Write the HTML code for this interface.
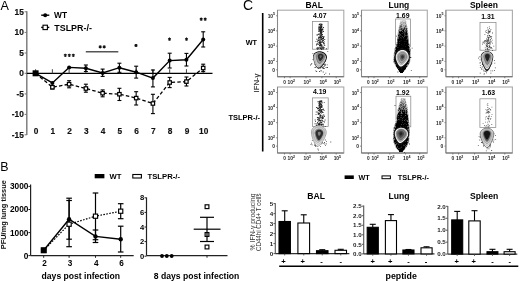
<!DOCTYPE html>
<html><head><meta charset="utf-8"><style>
html,body{margin:0;padding:0;background:#fff;}
svg{display:block;font-family:"Liberation Sans", sans-serif;filter:grayscale(1) blur(0.3px);}
</style></head><body>
<svg width="520" height="281" viewBox="0 0 520 281">
<rect width="520" height="281" fill="#fff"/>
<text x="0.4" y="9.8" font-size="12.6" text-anchor="start" fill="#000" >A</text>
<line x1="26.8" y1="11.2" x2="26.8" y2="135" stroke="#777" stroke-width="1.4" />
<line x1="24.6" y1="11.8" x2="26.8" y2="11.8" stroke="#777" stroke-width="1" />
<text x="23.8" y="14.600000000000001" font-size="8.3" font-weight="bold" text-anchor="end" fill="#111" stroke="#111" stroke-width="0.18">15</text>
<line x1="24.6" y1="32.4" x2="26.8" y2="32.4" stroke="#777" stroke-width="1" />
<text x="23.8" y="35.199999999999996" font-size="8.3" font-weight="bold" text-anchor="end" fill="#111" stroke="#111" stroke-width="0.18">10</text>
<line x1="24.6" y1="53.0" x2="26.8" y2="53.0" stroke="#777" stroke-width="1" />
<text x="23.8" y="55.8" font-size="8.3" font-weight="bold" text-anchor="end" fill="#111" stroke="#111" stroke-width="0.18">5</text>
<line x1="24.6" y1="73.3" x2="26.8" y2="73.3" stroke="#777" stroke-width="1" />
<text x="23.8" y="76.1" font-size="8.3" font-weight="bold" text-anchor="end" fill="#111" stroke="#111" stroke-width="0.18">0</text>
<line x1="24.6" y1="93.9" x2="26.8" y2="93.9" stroke="#777" stroke-width="1" />
<text x="23.8" y="96.7" font-size="8.3" font-weight="bold" text-anchor="end" fill="#111" stroke="#111" stroke-width="0.18">-5</text>
<line x1="24.6" y1="114.4" x2="26.8" y2="114.4" stroke="#777" stroke-width="1" />
<text x="23.8" y="117.2" font-size="8.3" font-weight="bold" text-anchor="end" fill="#111" stroke="#111" stroke-width="0.18">-10</text>
<line x1="24.6" y1="134.8" x2="26.8" y2="134.8" stroke="#777" stroke-width="1" />
<text x="23.8" y="137.60000000000002" font-size="8.3" font-weight="bold" text-anchor="end" fill="#111" stroke="#111" stroke-width="0.18">-15</text>
<line x1="26.8" y1="73.3" x2="212.5" y2="73.3" stroke="#000" stroke-width="1.3" />
<line x1="35.6" y1="73.3" x2="35.6" y2="69.2" stroke="#444" stroke-width="1" />
<text x="36.1" y="133.6" font-size="8.3" font-weight="bold" text-anchor="middle" fill="#111" stroke="#111" stroke-width="0.15">0</text>
<line x1="52.36" y1="73.3" x2="52.36" y2="69.2" stroke="#444" stroke-width="1" />
<text x="52.86" y="133.6" font-size="8.3" font-weight="bold" text-anchor="middle" fill="#111" stroke="#111" stroke-width="0.15">1</text>
<line x1="69.12" y1="73.3" x2="69.12" y2="69.2" stroke="#444" stroke-width="1" />
<text x="69.62" y="133.6" font-size="8.3" font-weight="bold" text-anchor="middle" fill="#111" stroke="#111" stroke-width="0.15">2</text>
<line x1="85.88" y1="73.3" x2="85.88" y2="69.2" stroke="#444" stroke-width="1" />
<text x="86.38" y="133.6" font-size="8.3" font-weight="bold" text-anchor="middle" fill="#111" stroke="#111" stroke-width="0.15">3</text>
<line x1="102.64000000000001" y1="73.3" x2="102.64000000000001" y2="69.2" stroke="#444" stroke-width="1" />
<text x="103.14000000000001" y="133.6" font-size="8.3" font-weight="bold" text-anchor="middle" fill="#111" stroke="#111" stroke-width="0.15">4</text>
<line x1="119.4" y1="73.3" x2="119.4" y2="69.2" stroke="#444" stroke-width="1" />
<text x="119.9" y="133.6" font-size="8.3" font-weight="bold" text-anchor="middle" fill="#111" stroke="#111" stroke-width="0.15">5</text>
<line x1="136.16" y1="73.3" x2="136.16" y2="69.2" stroke="#444" stroke-width="1" />
<text x="136.66" y="133.6" font-size="8.3" font-weight="bold" text-anchor="middle" fill="#111" stroke="#111" stroke-width="0.15">6</text>
<line x1="152.92000000000002" y1="73.3" x2="152.92000000000002" y2="69.2" stroke="#444" stroke-width="1" />
<text x="153.42000000000002" y="133.6" font-size="8.3" font-weight="bold" text-anchor="middle" fill="#111" stroke="#111" stroke-width="0.15">7</text>
<line x1="169.68" y1="73.3" x2="169.68" y2="69.2" stroke="#444" stroke-width="1" />
<text x="170.18" y="133.6" font-size="8.3" font-weight="bold" text-anchor="middle" fill="#111" stroke="#111" stroke-width="0.15">8</text>
<line x1="186.44" y1="73.3" x2="186.44" y2="69.2" stroke="#444" stroke-width="1" />
<text x="186.94" y="133.6" font-size="8.3" font-weight="bold" text-anchor="middle" fill="#111" stroke="#111" stroke-width="0.15">9</text>
<line x1="203.20000000000002" y1="73.3" x2="203.20000000000002" y2="69.2" stroke="#444" stroke-width="1" />
<text x="203.70000000000002" y="133.6" font-size="8.3" font-weight="bold" text-anchor="middle" fill="#111" stroke="#111" stroke-width="0.15">10</text>
<polyline points="35.6,73.3 52.4,87.2 69.1,84.2 85.9,88.5 102.6,93.2 119.4,94.2 136.2,98.1 152.9,103.5 169.7,82.5 186.4,81.6 203.2,68" fill="none" stroke="#000" stroke-width="1.3" stroke-dasharray="3.5,2.2"/>
<line x1="52.36" y1="85.5" x2="52.36" y2="89" stroke="#000" stroke-width="1.1" />
<line x1="50.36" y1="85.5" x2="54.36" y2="85.5" stroke="#000" stroke-width="1.1" />
<line x1="50.36" y1="89" x2="54.36" y2="89" stroke="#000" stroke-width="1.1" />
<line x1="69.12" y1="80.7" x2="69.12" y2="87.8" stroke="#000" stroke-width="1.1" />
<line x1="67.12" y1="80.7" x2="71.12" y2="80.7" stroke="#000" stroke-width="1.1" />
<line x1="67.12" y1="87.8" x2="71.12" y2="87.8" stroke="#000" stroke-width="1.1" />
<line x1="85.88" y1="84.2" x2="85.88" y2="92.2" stroke="#000" stroke-width="1.1" />
<line x1="83.88" y1="84.2" x2="87.88" y2="84.2" stroke="#000" stroke-width="1.1" />
<line x1="83.88" y1="92.2" x2="87.88" y2="92.2" stroke="#000" stroke-width="1.1" />
<line x1="102.64000000000001" y1="89.9" x2="102.64000000000001" y2="96.8" stroke="#000" stroke-width="1.1" />
<line x1="100.64000000000001" y1="89.9" x2="104.64000000000001" y2="89.9" stroke="#000" stroke-width="1.1" />
<line x1="100.64000000000001" y1="96.8" x2="104.64000000000001" y2="96.8" stroke="#000" stroke-width="1.1" />
<line x1="119.4" y1="88.3" x2="119.4" y2="100.5" stroke="#000" stroke-width="1.1" />
<line x1="117.4" y1="88.3" x2="121.4" y2="88.3" stroke="#000" stroke-width="1.1" />
<line x1="117.4" y1="100.5" x2="121.4" y2="100.5" stroke="#000" stroke-width="1.1" />
<line x1="136.16" y1="91.7" x2="136.16" y2="105" stroke="#000" stroke-width="1.1" />
<line x1="134.16" y1="91.7" x2="138.16" y2="91.7" stroke="#000" stroke-width="1.1" />
<line x1="134.16" y1="105" x2="138.16" y2="105" stroke="#000" stroke-width="1.1" />
<line x1="152.92000000000002" y1="94.3" x2="152.92000000000002" y2="113.6" stroke="#000" stroke-width="1.1" />
<line x1="150.92000000000002" y1="94.3" x2="154.92000000000002" y2="94.3" stroke="#000" stroke-width="1.1" />
<line x1="150.92000000000002" y1="113.6" x2="154.92000000000002" y2="113.6" stroke="#000" stroke-width="1.1" />
<line x1="169.68" y1="77.4" x2="169.68" y2="87.6" stroke="#000" stroke-width="1.1" />
<line x1="167.68" y1="77.4" x2="171.68" y2="77.4" stroke="#000" stroke-width="1.1" />
<line x1="167.68" y1="87.6" x2="171.68" y2="87.6" stroke="#000" stroke-width="1.1" />
<line x1="186.44" y1="77" x2="186.44" y2="86" stroke="#000" stroke-width="1.1" />
<line x1="184.44" y1="77" x2="188.44" y2="77" stroke="#000" stroke-width="1.1" />
<line x1="184.44" y1="86" x2="188.44" y2="86" stroke="#000" stroke-width="1.1" />
<line x1="203.20000000000002" y1="64.2" x2="203.20000000000002" y2="71.6" stroke="#000" stroke-width="1.1" />
<line x1="201.20000000000002" y1="64.2" x2="205.20000000000002" y2="64.2" stroke="#000" stroke-width="1.1" />
<line x1="201.20000000000002" y1="71.6" x2="205.20000000000002" y2="71.6" stroke="#000" stroke-width="1.1" />
<rect x="33.9" y="71.6" width="3.4" height="3.4" fill="#fff" stroke="#000" stroke-width="1.2"/>
<rect x="50.7" y="85.5" width="3.4" height="3.4" fill="#fff" stroke="#000" stroke-width="1.2"/>
<rect x="67.4" y="82.5" width="3.4" height="3.4" fill="#fff" stroke="#000" stroke-width="1.2"/>
<rect x="84.2" y="86.8" width="3.4" height="3.4" fill="#fff" stroke="#000" stroke-width="1.2"/>
<rect x="100.9" y="91.5" width="3.4" height="3.4" fill="#fff" stroke="#000" stroke-width="1.2"/>
<rect x="117.7" y="92.5" width="3.4" height="3.4" fill="#fff" stroke="#000" stroke-width="1.2"/>
<rect x="134.5" y="96.39999999999999" width="3.4" height="3.4" fill="#fff" stroke="#000" stroke-width="1.2"/>
<rect x="151.2" y="101.8" width="3.4" height="3.4" fill="#fff" stroke="#000" stroke-width="1.2"/>
<rect x="168.0" y="80.8" width="3.4" height="3.4" fill="#fff" stroke="#000" stroke-width="1.2"/>
<rect x="184.7" y="79.89999999999999" width="3.4" height="3.4" fill="#fff" stroke="#000" stroke-width="1.2"/>
<rect x="201.5" y="66.3" width="3.4" height="3.4" fill="#fff" stroke="#000" stroke-width="1.2"/>
<polyline points="35.6,73.3 52.4,82.9 69.1,67.4 85.9,68.3 102.6,73 119.4,67.7 136.2,72.2 152.9,78.1 169.7,60.6 186.4,59.7 203.2,39.5" fill="none" stroke="#000" stroke-width="1.4"/>
<line x1="85.88" y1="65" x2="85.88" y2="71.5" stroke="#000" stroke-width="1.1" />
<line x1="83.88" y1="65" x2="87.88" y2="65" stroke="#000" stroke-width="1.1" />
<line x1="83.88" y1="71.5" x2="87.88" y2="71.5" stroke="#000" stroke-width="1.1" />
<line x1="102.64000000000001" y1="69.1" x2="102.64000000000001" y2="76.4" stroke="#000" stroke-width="1.1" />
<line x1="100.64000000000001" y1="69.1" x2="104.64000000000001" y2="69.1" stroke="#000" stroke-width="1.1" />
<line x1="100.64000000000001" y1="76.4" x2="104.64000000000001" y2="76.4" stroke="#000" stroke-width="1.1" />
<line x1="119.4" y1="63.2" x2="119.4" y2="72.3" stroke="#000" stroke-width="1.1" />
<line x1="117.4" y1="63.2" x2="121.4" y2="63.2" stroke="#000" stroke-width="1.1" />
<line x1="117.4" y1="72.3" x2="121.4" y2="72.3" stroke="#000" stroke-width="1.1" />
<line x1="136.16" y1="66.2" x2="136.16" y2="78.1" stroke="#000" stroke-width="1.1" />
<line x1="134.16" y1="66.2" x2="138.16" y2="66.2" stroke="#000" stroke-width="1.1" />
<line x1="134.16" y1="78.1" x2="138.16" y2="78.1" stroke="#000" stroke-width="1.1" />
<line x1="152.92000000000002" y1="70" x2="152.92000000000002" y2="86.9" stroke="#000" stroke-width="1.1" />
<line x1="150.92000000000002" y1="70" x2="154.92000000000002" y2="70" stroke="#000" stroke-width="1.1" />
<line x1="150.92000000000002" y1="86.9" x2="154.92000000000002" y2="86.9" stroke="#000" stroke-width="1.1" />
<line x1="169.68" y1="53.2" x2="169.68" y2="68" stroke="#000" stroke-width="1.1" />
<line x1="167.68" y1="53.2" x2="171.68" y2="53.2" stroke="#000" stroke-width="1.1" />
<line x1="167.68" y1="68" x2="171.68" y2="68" stroke="#000" stroke-width="1.1" />
<line x1="186.44" y1="53.4" x2="186.44" y2="66" stroke="#000" stroke-width="1.1" />
<line x1="184.44" y1="53.4" x2="188.44" y2="53.4" stroke="#000" stroke-width="1.1" />
<line x1="184.44" y1="66" x2="188.44" y2="66" stroke="#000" stroke-width="1.1" />
<line x1="203.20000000000002" y1="31.8" x2="203.20000000000002" y2="47" stroke="#000" stroke-width="1.1" />
<line x1="201.20000000000002" y1="31.8" x2="205.20000000000002" y2="31.8" stroke="#000" stroke-width="1.1" />
<line x1="201.20000000000002" y1="47" x2="205.20000000000002" y2="47" stroke="#000" stroke-width="1.1" />
<circle cx="35.6" cy="73.3" r="2.0" fill="#000"/>
<circle cx="52.4" cy="82.9" r="2.0" fill="#000"/>
<circle cx="69.1" cy="67.4" r="2.0" fill="#000"/>
<circle cx="85.9" cy="68.3" r="2.0" fill="#000"/>
<circle cx="102.6" cy="73" r="2.0" fill="#000"/>
<circle cx="119.4" cy="67.7" r="2.0" fill="#000"/>
<circle cx="136.2" cy="72.2" r="2.0" fill="#000"/>
<circle cx="152.9" cy="78.1" r="2.0" fill="#000"/>
<circle cx="169.7" cy="60.6" r="2.0" fill="#000"/>
<circle cx="186.4" cy="59.7" r="2.0" fill="#000"/>
<circle cx="203.2" cy="39.5" r="2.0" fill="#000"/>
<rect x="32.6" y="70.3" width="6" height="6" fill="#000"/>
<path d="M65.30 53.70L65.30 56.90M63.91 54.50L66.69 56.10M66.69 54.50L63.91 56.10M69.30 53.70L69.30 56.90M67.91 54.50L70.69 56.10M70.69 54.50L67.91 56.10M73.30 53.70L73.30 56.90M71.91 54.50L74.69 56.10M74.69 54.50L71.91 56.10" stroke="#111" stroke-width="1.05" fill="none"/>
<path d="M100.20 45.20L100.20 48.40M98.81 46.00L101.59 47.60M101.59 46.00L98.81 47.60M104.20 45.20L104.20 48.40M102.81 46.00L105.59 47.60M105.59 46.00L102.81 47.60" stroke="#111" stroke-width="1.05" fill="none"/>
<line x1="85.8" y1="51.7" x2="118.3" y2="51.7" stroke="#555" stroke-width="1.5" />
<path d="M136.00 43.90L136.00 47.10M134.61 44.70L137.39 46.30M137.39 44.70L134.61 46.30" stroke="#111" stroke-width="1.05" fill="none"/>
<path d="M169.50 37.60L169.50 40.80M168.11 38.40L170.89 40.00M170.89 38.40L168.11 40.00" stroke="#111" stroke-width="1.05" fill="none"/>
<path d="M186.50 37.60L186.50 40.80M185.11 38.40L187.89 40.00M187.89 38.40L185.11 40.00" stroke="#111" stroke-width="1.05" fill="none"/>
<path d="M201.20 17.60L201.20 20.80M199.81 18.40L202.59 20.00M202.59 18.40L199.81 20.00M205.20 17.60L205.20 20.80M203.81 18.40L206.59 20.00M206.59 18.40L203.81 20.00" stroke="#111" stroke-width="1.05" fill="none"/>
<line x1="41.2" y1="15.2" x2="49.3" y2="15.2" stroke="#000" stroke-width="1.4" />
<circle cx="45.2" cy="15.2" r="2" fill="#000"/>
<text x="54" y="18.4" font-size="8.4" font-weight="bold" text-anchor="start" fill="#000" textLength="13" lengthAdjust="spacingAndGlyphs">WT</text>
<line x1="41.2" y1="27.4" x2="49.3" y2="27.4" stroke="#000" stroke-width="1.4" />
<rect x="43" y="25.2" width="4.4" height="4.4" fill="#fff" stroke="#000" stroke-width="1.1"/>
<text x="54.3" y="30.8" font-size="8.4" font-weight="bold" text-anchor="start" fill="#000" textLength="37.6" lengthAdjust="spacingAndGlyphs">TSLPR-/-</text>
<text x="0.3" y="170.6" font-size="12.4" text-anchor="start" fill="#000" >B</text>
<line x1="30.6" y1="184.5" x2="30.6" y2="255.6" stroke="#222" stroke-width="1.2" />
<line x1="28.400000000000002" y1="186.4" x2="30.6" y2="186.4" stroke="#222" stroke-width="1" />
<text x="28.4" y="189.3" font-size="8.3" font-weight="bold" text-anchor="end" fill="#000" >3000</text>
<line x1="28.400000000000002" y1="209.5" x2="30.6" y2="209.5" stroke="#222" stroke-width="1" />
<text x="28.4" y="212.4" font-size="8.3" font-weight="bold" text-anchor="end" fill="#000" >2000</text>
<line x1="28.400000000000002" y1="232.6" x2="30.6" y2="232.6" stroke="#222" stroke-width="1" />
<text x="28.4" y="235.5" font-size="8.3" font-weight="bold" text-anchor="end" fill="#000" >1000</text>
<line x1="28.400000000000002" y1="255.6" x2="30.6" y2="255.6" stroke="#222" stroke-width="1" />
<text x="28.4" y="258.5" font-size="8.3" font-weight="bold" text-anchor="end" fill="#000" >0</text>
<line x1="30.6" y1="255.6" x2="133.7" y2="255.6" stroke="#222" stroke-width="1.2" />
<line x1="43.7" y1="255.6" x2="43.7" y2="257.8" stroke="#222" stroke-width="1" />
<text x="44.6" y="266.2" font-size="8.2" font-weight="bold" text-anchor="middle" fill="#000" >2</text>
<line x1="69.1" y1="255.6" x2="69.1" y2="257.8" stroke="#222" stroke-width="1" />
<text x="70.0" y="266.2" font-size="8.2" font-weight="bold" text-anchor="middle" fill="#000" >3</text>
<line x1="95.5" y1="255.6" x2="95.5" y2="257.8" stroke="#222" stroke-width="1" />
<text x="96.4" y="266.2" font-size="8.2" font-weight="bold" text-anchor="middle" fill="#000" >4</text>
<line x1="120.7" y1="255.6" x2="120.7" y2="257.8" stroke="#222" stroke-width="1" />
<text x="121.60000000000001" y="266.2" font-size="8.2" font-weight="bold" text-anchor="middle" fill="#000" >6</text>
<text x="41.6" y="278.7" font-size="8.6" font-weight="bold" text-anchor="start" fill="#000" >days post infection</text>
<text transform="translate(6.4,249.2) rotate(-90)" font-size="7.4" font-weight="bold" fill="#111">PFU/mg lung tissue</text>
<polyline points="43.7,250.3 69.1,224.2 95.5,216.2 120.7,211.2" fill="none" stroke="#000" stroke-width="1.2" stroke-dasharray="1.6,1.4"/>
<line x1="69.1" y1="198.2" x2="69.1" y2="246.7" stroke="#000" stroke-width="1.2" />
<line x1="66.3" y1="198.2" x2="71.89999999999999" y2="198.2" stroke="#000" stroke-width="1.2" />
<line x1="66.3" y1="246.7" x2="71.89999999999999" y2="246.7" stroke="#000" stroke-width="1.2" />
<line x1="95.5" y1="193" x2="95.5" y2="239.7" stroke="#000" stroke-width="1.2" />
<line x1="92.7" y1="193" x2="98.3" y2="193" stroke="#000" stroke-width="1.2" />
<line x1="92.7" y1="239.7" x2="98.3" y2="239.7" stroke="#000" stroke-width="1.2" />
<line x1="120.7" y1="203.7" x2="120.7" y2="218.7" stroke="#000" stroke-width="1.2" />
<line x1="117.9" y1="203.7" x2="123.5" y2="203.7" stroke="#000" stroke-width="1.2" />
<line x1="117.9" y1="218.7" x2="123.5" y2="218.7" stroke="#000" stroke-width="1.2" />
<polyline points="43.7,250.3 69.1,219.2 95.5,236.4 120.7,239.2" fill="none" stroke="#000" stroke-width="1.4"/>
<line x1="69.1" y1="200.5" x2="69.1" y2="239.2" stroke="#000" stroke-width="1.2" />
<line x1="66.3" y1="200.5" x2="71.89999999999999" y2="200.5" stroke="#000" stroke-width="1.2" />
<line x1="66.3" y1="239.2" x2="71.89999999999999" y2="239.2" stroke="#000" stroke-width="1.2" />
<line x1="95.5" y1="230" x2="95.5" y2="242.5" stroke="#000" stroke-width="1.2" />
<line x1="92.7" y1="230" x2="98.3" y2="230" stroke="#000" stroke-width="1.2" />
<line x1="92.7" y1="242.5" x2="98.3" y2="242.5" stroke="#000" stroke-width="1.2" />
<line x1="120.7" y1="226.2" x2="120.7" y2="252" stroke="#000" stroke-width="1.2" />
<line x1="117.9" y1="226.2" x2="123.5" y2="226.2" stroke="#000" stroke-width="1.2" />
<line x1="117.9" y1="252" x2="123.5" y2="252" stroke="#000" stroke-width="1.2" />
<rect x="41.6" y="248.20000000000002" width="4.2" height="4.2" fill="#fff" stroke="#000" stroke-width="1.15"/>
<rect x="67.0" y="222.1" width="4.2" height="4.2" fill="#fff" stroke="#000" stroke-width="1.15"/>
<rect x="93.4" y="214.1" width="4.2" height="4.2" fill="#fff" stroke="#000" stroke-width="1.15"/>
<rect x="118.60000000000001" y="209.1" width="4.2" height="4.2" fill="#fff" stroke="#000" stroke-width="1.15"/>
<circle cx="43.7" cy="250.3" r="2.2" fill="#000"/>
<circle cx="69.1" cy="219.2" r="2.2" fill="#000"/>
<circle cx="95.5" cy="236.4" r="2.2" fill="#000"/>
<circle cx="120.7" cy="239.2" r="2.2" fill="#000"/>
<rect x="40.7" y="247.3" width="6" height="6" fill="#000"/>
<line x1="146.5" y1="197.5" x2="146.5" y2="255.7" stroke="#222" stroke-width="1.2" />
<line x1="144.5" y1="256.2" x2="146.5" y2="256.2" stroke="#222" stroke-width="1" />
<text x="144.3" y="258.8" font-size="7.6" font-weight="bold" text-anchor="end" fill="#000" >0</text>
<line x1="144.5" y1="241.6" x2="146.5" y2="241.6" stroke="#222" stroke-width="1" />
<text x="144.3" y="244.2" font-size="7.6" font-weight="bold" text-anchor="end" fill="#000" >2</text>
<line x1="144.5" y1="227.0" x2="146.5" y2="227.0" stroke="#222" stroke-width="1" />
<text x="144.3" y="229.6" font-size="7.6" font-weight="bold" text-anchor="end" fill="#000" >4</text>
<line x1="144.5" y1="212.39999999999998" x2="146.5" y2="212.39999999999998" stroke="#222" stroke-width="1" />
<text x="144.3" y="214.99999999999997" font-size="7.6" font-weight="bold" text-anchor="end" fill="#000" >6</text>
<line x1="144.5" y1="197.79999999999998" x2="146.5" y2="197.79999999999998" stroke="#222" stroke-width="1" />
<text x="144.3" y="200.39999999999998" font-size="7.6" font-weight="bold" text-anchor="end" fill="#000" >8</text>
<line x1="146.5" y1="255.7" x2="227.5" y2="255.7" stroke="#222" stroke-width="1.2" />
<line x1="207" y1="255.7" x2="207" y2="257.7" stroke="#222" stroke-width="1" />
<circle cx="162" cy="256" r="1.9" fill="#000"/>
<circle cx="166.8" cy="256" r="1.9" fill="#000"/>
<circle cx="171.7" cy="256" r="1.9" fill="#000"/>
<rect x="205.1" y="204.79999999999998" width="3.8" height="3.8" fill="#fff" stroke="#000" stroke-width="1.15"/>
<rect x="205.1" y="232.6" width="3.8" height="3.8" fill="#fff" stroke="#000" stroke-width="1.15"/>
<rect x="205.1" y="245.1" width="3.8" height="3.8" fill="#fff" stroke="#000" stroke-width="1.15"/>
<line x1="193.7" y1="229.2" x2="220.5" y2="229.2" stroke="#000" stroke-width="1.2" />
<line x1="207" y1="217.3" x2="207" y2="241.5" stroke="#000" stroke-width="1.2" />
<line x1="200" y1="217.3" x2="214" y2="217.3" stroke="#000" stroke-width="1.2" />
<line x1="200" y1="241.5" x2="214" y2="241.5" stroke="#000" stroke-width="1.2" />
<text x="153.8" y="278.7" font-size="8.6" font-weight="bold" text-anchor="start" fill="#000" >8 days post infection</text>
<rect x="94.7" y="174" width="9.7" height="4.3" fill="#000"/>
<text x="109.5" y="178.7" font-size="7.7" font-weight="bold" text-anchor="start" fill="#000" >WT</text>
<rect x="132.8" y="174.5" width="8.6" height="3.5" fill="#fff" stroke="#000" stroke-width="1.1"/>
<text x="147.5" y="178.7" font-size="7.7" font-weight="bold" text-anchor="start" fill="#000" >TSLPR-/-</text>
<text x="243.0" y="10.0" font-size="14" text-anchor="start" fill="#000" >C</text>
<line x1="262.7" y1="13.0" x2="262.7" y2="151.5" stroke="#000" stroke-width="1.6" />
<text x="251.4" y="44.5" font-size="7.3" font-weight="bold" text-anchor="middle" fill="#000" >WT</text>
<text x="244.3" y="119.8" font-size="7.5" font-weight="bold" text-anchor="middle" fill="#000" >TSLPR-/-</text>
<text transform="translate(258.6,92.4) rotate(-90)" font-size="7.4" fill="#222" stroke="#222" stroke-width="0.12" textLength="18.7" lengthAdjust="spacingAndGlyphs">IFN-γ</text>
<text x="314.2" y="7.8" font-size="8.5" font-weight="bold" text-anchor="middle" fill="#000" >BAL</text>
<text x="398.9" y="7.8" font-size="8.5" font-weight="bold" text-anchor="middle" fill="#000" >Lung</text>
<text x="483.9" y="7.8" font-size="8.5" font-weight="bold" text-anchor="middle" fill="#000" >Spleen</text>
<rect x="277.5" y="10.2" width="66.30000000000001" height="66.5" fill="none" stroke="#aaa" stroke-width="1.1"/>
<line x1="277.5" y1="10.2" x2="277.5" y2="76.7" stroke="#888" stroke-width="1" />
<line x1="277.5" y1="76.7" x2="343.8" y2="76.7" stroke="#666" stroke-width="1.1" />
<line x1="276.0" y1="15.786" x2="277.5" y2="15.786" stroke="#777" stroke-width="0.8" />
<text x="273.1" y="17.986" font-size="4.9" font-weight="bold" text-anchor="end" fill="#1e1e1e" >10</text>
<text x="273.0" y="15.486" font-size="3.6" font-weight="bold" text-anchor="start" fill="#1e1e1e" >5</text>
<line x1="276.0" y1="30.814999999999998" x2="277.5" y2="30.814999999999998" stroke="#777" stroke-width="0.8" />
<text x="273.1" y="33.015" font-size="4.9" font-weight="bold" text-anchor="end" fill="#1e1e1e" >10</text>
<text x="273.0" y="30.515" font-size="3.6" font-weight="bold" text-anchor="start" fill="#1e1e1e" >4</text>
<line x1="276.0" y1="46.11" x2="277.5" y2="46.11" stroke="#777" stroke-width="0.8" />
<text x="273.1" y="48.31" font-size="4.9" font-weight="bold" text-anchor="end" fill="#1e1e1e" >10</text>
<text x="273.0" y="45.81" font-size="3.6" font-weight="bold" text-anchor="start" fill="#1e1e1e" >3</text>
<line x1="276.0" y1="61.405" x2="277.5" y2="61.405" stroke="#777" stroke-width="0.8" />
<text x="273.1" y="63.605000000000004" font-size="4.9" font-weight="bold" text-anchor="end" fill="#1e1e1e" >10</text>
<text x="273.0" y="61.105000000000004" font-size="3.6" font-weight="bold" text-anchor="start" fill="#1e1e1e" >2</text>
<line x1="276.0" y1="69.784" x2="277.5" y2="69.784" stroke="#777" stroke-width="0.8" />
<text x="274.9" y="71.784" font-size="4.9" font-weight="bold" text-anchor="end" fill="#1e1e1e" >0</text>
<line x1="284.4615" y1="76.7" x2="284.4615" y2="78.2" stroke="#666" stroke-width="0.8" />
<text x="284.4615" y="84.10000000000001" font-size="4.8" font-weight="bold" text-anchor="middle" fill="#1e1e1e" >0</text>
<line x1="290.097" y1="76.7" x2="290.097" y2="78.2" stroke="#666" stroke-width="0.8" />
<text x="290.29699999999997" y="84.10000000000001" font-size="4.9" font-weight="bold" text-anchor="middle" fill="#1e1e1e" >10</text>
<text x="292.897" y="81.60000000000001" font-size="3.6" font-weight="bold" text-anchor="start" fill="#1e1e1e" >2</text>
<line x1="306.009" y1="76.7" x2="306.009" y2="78.2" stroke="#666" stroke-width="0.8" />
<text x="306.209" y="84.10000000000001" font-size="4.9" font-weight="bold" text-anchor="middle" fill="#1e1e1e" >10</text>
<text x="308.809" y="81.60000000000001" font-size="3.6" font-weight="bold" text-anchor="start" fill="#1e1e1e" >3</text>
<line x1="321.921" y1="76.7" x2="321.921" y2="78.2" stroke="#666" stroke-width="0.8" />
<text x="322.121" y="84.10000000000001" font-size="4.9" font-weight="bold" text-anchor="middle" fill="#1e1e1e" >10</text>
<text x="324.721" y="81.60000000000001" font-size="3.6" font-weight="bold" text-anchor="start" fill="#1e1e1e" >4</text>
<line x1="336.1755" y1="76.7" x2="336.1755" y2="78.2" stroke="#666" stroke-width="0.8" />
<text x="336.3755" y="84.10000000000001" font-size="4.9" font-weight="bold" text-anchor="middle" fill="#1e1e1e" >10</text>
<text x="338.9755" y="81.60000000000001" font-size="3.6" font-weight="bold" text-anchor="start" fill="#1e1e1e" >5</text>
<rect x="277.5" y="87.0" width="66.30000000000001" height="66.0" fill="none" stroke="#aaa" stroke-width="1.1"/>
<line x1="277.5" y1="87.0" x2="277.5" y2="153.0" stroke="#888" stroke-width="1" />
<line x1="277.5" y1="153.0" x2="343.8" y2="153.0" stroke="#666" stroke-width="1.1" />
<line x1="276.0" y1="92.544" x2="277.5" y2="92.544" stroke="#777" stroke-width="0.8" />
<text x="273.1" y="94.744" font-size="4.9" font-weight="bold" text-anchor="end" fill="#1e1e1e" >10</text>
<text x="273.0" y="92.244" font-size="3.6" font-weight="bold" text-anchor="start" fill="#1e1e1e" >5</text>
<line x1="276.0" y1="107.46000000000001" x2="277.5" y2="107.46000000000001" stroke="#777" stroke-width="0.8" />
<text x="273.1" y="109.66000000000001" font-size="4.9" font-weight="bold" text-anchor="end" fill="#1e1e1e" >10</text>
<text x="273.0" y="107.16000000000001" font-size="3.6" font-weight="bold" text-anchor="start" fill="#1e1e1e" >4</text>
<line x1="276.0" y1="122.64" x2="277.5" y2="122.64" stroke="#777" stroke-width="0.8" />
<text x="273.1" y="124.84" font-size="4.9" font-weight="bold" text-anchor="end" fill="#1e1e1e" >10</text>
<text x="273.0" y="122.34" font-size="3.6" font-weight="bold" text-anchor="start" fill="#1e1e1e" >3</text>
<line x1="276.0" y1="137.82" x2="277.5" y2="137.82" stroke="#777" stroke-width="0.8" />
<text x="273.1" y="140.01999999999998" font-size="4.9" font-weight="bold" text-anchor="end" fill="#1e1e1e" >10</text>
<text x="273.0" y="137.51999999999998" font-size="3.6" font-weight="bold" text-anchor="start" fill="#1e1e1e" >2</text>
<line x1="276.0" y1="146.136" x2="277.5" y2="146.136" stroke="#777" stroke-width="0.8" />
<text x="274.9" y="148.136" font-size="4.9" font-weight="bold" text-anchor="end" fill="#1e1e1e" >0</text>
<line x1="284.4615" y1="153.0" x2="284.4615" y2="154.5" stroke="#666" stroke-width="0.8" />
<text x="284.4615" y="160.4" font-size="4.8" font-weight="bold" text-anchor="middle" fill="#1e1e1e" >0</text>
<line x1="290.097" y1="153.0" x2="290.097" y2="154.5" stroke="#666" stroke-width="0.8" />
<text x="290.29699999999997" y="160.4" font-size="4.9" font-weight="bold" text-anchor="middle" fill="#1e1e1e" >10</text>
<text x="292.897" y="157.9" font-size="3.6" font-weight="bold" text-anchor="start" fill="#1e1e1e" >2</text>
<line x1="306.009" y1="153.0" x2="306.009" y2="154.5" stroke="#666" stroke-width="0.8" />
<text x="306.209" y="160.4" font-size="4.9" font-weight="bold" text-anchor="middle" fill="#1e1e1e" >10</text>
<text x="308.809" y="157.9" font-size="3.6" font-weight="bold" text-anchor="start" fill="#1e1e1e" >3</text>
<line x1="321.921" y1="153.0" x2="321.921" y2="154.5" stroke="#666" stroke-width="0.8" />
<text x="322.121" y="160.4" font-size="4.9" font-weight="bold" text-anchor="middle" fill="#1e1e1e" >10</text>
<text x="324.721" y="157.9" font-size="3.6" font-weight="bold" text-anchor="start" fill="#1e1e1e" >4</text>
<line x1="336.1755" y1="153.0" x2="336.1755" y2="154.5" stroke="#666" stroke-width="0.8" />
<text x="336.3755" y="160.4" font-size="4.9" font-weight="bold" text-anchor="middle" fill="#1e1e1e" >10</text>
<text x="338.9755" y="157.9" font-size="3.6" font-weight="bold" text-anchor="start" fill="#1e1e1e" >5</text>
<rect x="361.5" y="10.2" width="65.80000000000001" height="66.5" fill="none" stroke="#aaa" stroke-width="1.1"/>
<line x1="361.5" y1="10.2" x2="361.5" y2="76.7" stroke="#888" stroke-width="1" />
<line x1="361.5" y1="76.7" x2="427.3" y2="76.7" stroke="#666" stroke-width="1.1" />
<line x1="360.0" y1="15.786" x2="361.5" y2="15.786" stroke="#777" stroke-width="0.8" />
<text x="357.1" y="17.986" font-size="4.9" font-weight="bold" text-anchor="end" fill="#1e1e1e" >10</text>
<text x="357.0" y="15.486" font-size="3.6" font-weight="bold" text-anchor="start" fill="#1e1e1e" >5</text>
<line x1="360.0" y1="30.814999999999998" x2="361.5" y2="30.814999999999998" stroke="#777" stroke-width="0.8" />
<text x="357.1" y="33.015" font-size="4.9" font-weight="bold" text-anchor="end" fill="#1e1e1e" >10</text>
<text x="357.0" y="30.515" font-size="3.6" font-weight="bold" text-anchor="start" fill="#1e1e1e" >4</text>
<line x1="360.0" y1="46.11" x2="361.5" y2="46.11" stroke="#777" stroke-width="0.8" />
<text x="357.1" y="48.31" font-size="4.9" font-weight="bold" text-anchor="end" fill="#1e1e1e" >10</text>
<text x="357.0" y="45.81" font-size="3.6" font-weight="bold" text-anchor="start" fill="#1e1e1e" >3</text>
<line x1="360.0" y1="61.405" x2="361.5" y2="61.405" stroke="#777" stroke-width="0.8" />
<text x="357.1" y="63.605000000000004" font-size="4.9" font-weight="bold" text-anchor="end" fill="#1e1e1e" >10</text>
<text x="357.0" y="61.105000000000004" font-size="3.6" font-weight="bold" text-anchor="start" fill="#1e1e1e" >2</text>
<line x1="360.0" y1="69.784" x2="361.5" y2="69.784" stroke="#777" stroke-width="0.8" />
<text x="358.9" y="71.784" font-size="4.9" font-weight="bold" text-anchor="end" fill="#1e1e1e" >0</text>
<line x1="368.409" y1="76.7" x2="368.409" y2="78.2" stroke="#666" stroke-width="0.8" />
<text x="368.409" y="84.10000000000001" font-size="4.8" font-weight="bold" text-anchor="middle" fill="#1e1e1e" >0</text>
<line x1="374.002" y1="76.7" x2="374.002" y2="78.2" stroke="#666" stroke-width="0.8" />
<text x="374.202" y="84.10000000000001" font-size="4.9" font-weight="bold" text-anchor="middle" fill="#1e1e1e" >10</text>
<text x="376.802" y="81.60000000000001" font-size="3.6" font-weight="bold" text-anchor="start" fill="#1e1e1e" >2</text>
<line x1="389.794" y1="76.7" x2="389.794" y2="78.2" stroke="#666" stroke-width="0.8" />
<text x="389.99399999999997" y="84.10000000000001" font-size="4.9" font-weight="bold" text-anchor="middle" fill="#1e1e1e" >10</text>
<text x="392.594" y="81.60000000000001" font-size="3.6" font-weight="bold" text-anchor="start" fill="#1e1e1e" >3</text>
<line x1="405.586" y1="76.7" x2="405.586" y2="78.2" stroke="#666" stroke-width="0.8" />
<text x="405.786" y="84.10000000000001" font-size="4.9" font-weight="bold" text-anchor="middle" fill="#1e1e1e" >10</text>
<text x="408.386" y="81.60000000000001" font-size="3.6" font-weight="bold" text-anchor="start" fill="#1e1e1e" >4</text>
<line x1="419.733" y1="76.7" x2="419.733" y2="78.2" stroke="#666" stroke-width="0.8" />
<text x="419.933" y="84.10000000000001" font-size="4.9" font-weight="bold" text-anchor="middle" fill="#1e1e1e" >10</text>
<text x="422.533" y="81.60000000000001" font-size="3.6" font-weight="bold" text-anchor="start" fill="#1e1e1e" >5</text>
<rect x="361.5" y="87.0" width="65.80000000000001" height="66.0" fill="none" stroke="#aaa" stroke-width="1.1"/>
<line x1="361.5" y1="87.0" x2="361.5" y2="153.0" stroke="#888" stroke-width="1" />
<line x1="361.5" y1="153.0" x2="427.3" y2="153.0" stroke="#666" stroke-width="1.1" />
<line x1="360.0" y1="92.544" x2="361.5" y2="92.544" stroke="#777" stroke-width="0.8" />
<text x="357.1" y="94.744" font-size="4.9" font-weight="bold" text-anchor="end" fill="#1e1e1e" >10</text>
<text x="357.0" y="92.244" font-size="3.6" font-weight="bold" text-anchor="start" fill="#1e1e1e" >5</text>
<line x1="360.0" y1="107.46000000000001" x2="361.5" y2="107.46000000000001" stroke="#777" stroke-width="0.8" />
<text x="357.1" y="109.66000000000001" font-size="4.9" font-weight="bold" text-anchor="end" fill="#1e1e1e" >10</text>
<text x="357.0" y="107.16000000000001" font-size="3.6" font-weight="bold" text-anchor="start" fill="#1e1e1e" >4</text>
<line x1="360.0" y1="122.64" x2="361.5" y2="122.64" stroke="#777" stroke-width="0.8" />
<text x="357.1" y="124.84" font-size="4.9" font-weight="bold" text-anchor="end" fill="#1e1e1e" >10</text>
<text x="357.0" y="122.34" font-size="3.6" font-weight="bold" text-anchor="start" fill="#1e1e1e" >3</text>
<line x1="360.0" y1="137.82" x2="361.5" y2="137.82" stroke="#777" stroke-width="0.8" />
<text x="357.1" y="140.01999999999998" font-size="4.9" font-weight="bold" text-anchor="end" fill="#1e1e1e" >10</text>
<text x="357.0" y="137.51999999999998" font-size="3.6" font-weight="bold" text-anchor="start" fill="#1e1e1e" >2</text>
<line x1="360.0" y1="146.136" x2="361.5" y2="146.136" stroke="#777" stroke-width="0.8" />
<text x="358.9" y="148.136" font-size="4.9" font-weight="bold" text-anchor="end" fill="#1e1e1e" >0</text>
<line x1="368.409" y1="153.0" x2="368.409" y2="154.5" stroke="#666" stroke-width="0.8" />
<text x="368.409" y="160.4" font-size="4.8" font-weight="bold" text-anchor="middle" fill="#1e1e1e" >0</text>
<line x1="374.002" y1="153.0" x2="374.002" y2="154.5" stroke="#666" stroke-width="0.8" />
<text x="374.202" y="160.4" font-size="4.9" font-weight="bold" text-anchor="middle" fill="#1e1e1e" >10</text>
<text x="376.802" y="157.9" font-size="3.6" font-weight="bold" text-anchor="start" fill="#1e1e1e" >2</text>
<line x1="389.794" y1="153.0" x2="389.794" y2="154.5" stroke="#666" stroke-width="0.8" />
<text x="389.99399999999997" y="160.4" font-size="4.9" font-weight="bold" text-anchor="middle" fill="#1e1e1e" >10</text>
<text x="392.594" y="157.9" font-size="3.6" font-weight="bold" text-anchor="start" fill="#1e1e1e" >3</text>
<line x1="405.586" y1="153.0" x2="405.586" y2="154.5" stroke="#666" stroke-width="0.8" />
<text x="405.786" y="160.4" font-size="4.9" font-weight="bold" text-anchor="middle" fill="#1e1e1e" >10</text>
<text x="408.386" y="157.9" font-size="3.6" font-weight="bold" text-anchor="start" fill="#1e1e1e" >4</text>
<line x1="419.733" y1="153.0" x2="419.733" y2="154.5" stroke="#666" stroke-width="0.8" />
<text x="419.933" y="160.4" font-size="4.9" font-weight="bold" text-anchor="middle" fill="#1e1e1e" >10</text>
<text x="422.533" y="157.9" font-size="3.6" font-weight="bold" text-anchor="start" fill="#1e1e1e" >5</text>
<rect x="445.9" y="10.2" width="66.5" height="66.5" fill="none" stroke="#aaa" stroke-width="1.1"/>
<line x1="445.9" y1="10.2" x2="445.9" y2="76.7" stroke="#888" stroke-width="1" />
<line x1="445.9" y1="76.7" x2="512.4" y2="76.7" stroke="#666" stroke-width="1.1" />
<line x1="444.4" y1="15.786" x2="445.9" y2="15.786" stroke="#777" stroke-width="0.8" />
<text x="441.5" y="17.986" font-size="4.9" font-weight="bold" text-anchor="end" fill="#1e1e1e" >10</text>
<text x="441.4" y="15.486" font-size="3.6" font-weight="bold" text-anchor="start" fill="#1e1e1e" >5</text>
<line x1="444.4" y1="30.814999999999998" x2="445.9" y2="30.814999999999998" stroke="#777" stroke-width="0.8" />
<text x="441.5" y="33.015" font-size="4.9" font-weight="bold" text-anchor="end" fill="#1e1e1e" >10</text>
<text x="441.4" y="30.515" font-size="3.6" font-weight="bold" text-anchor="start" fill="#1e1e1e" >4</text>
<line x1="444.4" y1="46.11" x2="445.9" y2="46.11" stroke="#777" stroke-width="0.8" />
<text x="441.5" y="48.31" font-size="4.9" font-weight="bold" text-anchor="end" fill="#1e1e1e" >10</text>
<text x="441.4" y="45.81" font-size="3.6" font-weight="bold" text-anchor="start" fill="#1e1e1e" >3</text>
<line x1="444.4" y1="61.405" x2="445.9" y2="61.405" stroke="#777" stroke-width="0.8" />
<text x="441.5" y="63.605000000000004" font-size="4.9" font-weight="bold" text-anchor="end" fill="#1e1e1e" >10</text>
<text x="441.4" y="61.105000000000004" font-size="3.6" font-weight="bold" text-anchor="start" fill="#1e1e1e" >2</text>
<line x1="444.4" y1="69.784" x2="445.9" y2="69.784" stroke="#777" stroke-width="0.8" />
<text x="443.29999999999995" y="71.784" font-size="4.9" font-weight="bold" text-anchor="end" fill="#1e1e1e" >0</text>
<line x1="452.8825" y1="76.7" x2="452.8825" y2="78.2" stroke="#666" stroke-width="0.8" />
<text x="452.8825" y="84.10000000000001" font-size="4.8" font-weight="bold" text-anchor="middle" fill="#1e1e1e" >0</text>
<line x1="458.53499999999997" y1="76.7" x2="458.53499999999997" y2="78.2" stroke="#666" stroke-width="0.8" />
<text x="458.73499999999996" y="84.10000000000001" font-size="4.9" font-weight="bold" text-anchor="middle" fill="#1e1e1e" >10</text>
<text x="461.335" y="81.60000000000001" font-size="3.6" font-weight="bold" text-anchor="start" fill="#1e1e1e" >2</text>
<line x1="474.495" y1="76.7" x2="474.495" y2="78.2" stroke="#666" stroke-width="0.8" />
<text x="474.695" y="84.10000000000001" font-size="4.9" font-weight="bold" text-anchor="middle" fill="#1e1e1e" >10</text>
<text x="477.295" y="81.60000000000001" font-size="3.6" font-weight="bold" text-anchor="start" fill="#1e1e1e" >3</text>
<line x1="490.455" y1="76.7" x2="490.455" y2="78.2" stroke="#666" stroke-width="0.8" />
<text x="490.655" y="84.10000000000001" font-size="4.9" font-weight="bold" text-anchor="middle" fill="#1e1e1e" >10</text>
<text x="493.255" y="81.60000000000001" font-size="3.6" font-weight="bold" text-anchor="start" fill="#1e1e1e" >4</text>
<line x1="504.7525" y1="76.7" x2="504.7525" y2="78.2" stroke="#666" stroke-width="0.8" />
<text x="504.9525" y="84.10000000000001" font-size="4.9" font-weight="bold" text-anchor="middle" fill="#1e1e1e" >10</text>
<text x="507.5525" y="81.60000000000001" font-size="3.6" font-weight="bold" text-anchor="start" fill="#1e1e1e" >5</text>
<rect x="445.9" y="87.0" width="66.5" height="66.0" fill="none" stroke="#aaa" stroke-width="1.1"/>
<line x1="445.9" y1="87.0" x2="445.9" y2="153.0" stroke="#888" stroke-width="1" />
<line x1="445.9" y1="153.0" x2="512.4" y2="153.0" stroke="#666" stroke-width="1.1" />
<line x1="444.4" y1="92.544" x2="445.9" y2="92.544" stroke="#777" stroke-width="0.8" />
<text x="441.5" y="94.744" font-size="4.9" font-weight="bold" text-anchor="end" fill="#1e1e1e" >10</text>
<text x="441.4" y="92.244" font-size="3.6" font-weight="bold" text-anchor="start" fill="#1e1e1e" >5</text>
<line x1="444.4" y1="107.46000000000001" x2="445.9" y2="107.46000000000001" stroke="#777" stroke-width="0.8" />
<text x="441.5" y="109.66000000000001" font-size="4.9" font-weight="bold" text-anchor="end" fill="#1e1e1e" >10</text>
<text x="441.4" y="107.16000000000001" font-size="3.6" font-weight="bold" text-anchor="start" fill="#1e1e1e" >4</text>
<line x1="444.4" y1="122.64" x2="445.9" y2="122.64" stroke="#777" stroke-width="0.8" />
<text x="441.5" y="124.84" font-size="4.9" font-weight="bold" text-anchor="end" fill="#1e1e1e" >10</text>
<text x="441.4" y="122.34" font-size="3.6" font-weight="bold" text-anchor="start" fill="#1e1e1e" >3</text>
<line x1="444.4" y1="137.82" x2="445.9" y2="137.82" stroke="#777" stroke-width="0.8" />
<text x="441.5" y="140.01999999999998" font-size="4.9" font-weight="bold" text-anchor="end" fill="#1e1e1e" >10</text>
<text x="441.4" y="137.51999999999998" font-size="3.6" font-weight="bold" text-anchor="start" fill="#1e1e1e" >2</text>
<line x1="444.4" y1="146.136" x2="445.9" y2="146.136" stroke="#777" stroke-width="0.8" />
<text x="443.29999999999995" y="148.136" font-size="4.9" font-weight="bold" text-anchor="end" fill="#1e1e1e" >0</text>
<line x1="452.8825" y1="153.0" x2="452.8825" y2="154.5" stroke="#666" stroke-width="0.8" />
<text x="452.8825" y="160.4" font-size="4.8" font-weight="bold" text-anchor="middle" fill="#1e1e1e" >0</text>
<line x1="458.53499999999997" y1="153.0" x2="458.53499999999997" y2="154.5" stroke="#666" stroke-width="0.8" />
<text x="458.73499999999996" y="160.4" font-size="4.9" font-weight="bold" text-anchor="middle" fill="#1e1e1e" >10</text>
<text x="461.335" y="157.9" font-size="3.6" font-weight="bold" text-anchor="start" fill="#1e1e1e" >2</text>
<line x1="474.495" y1="153.0" x2="474.495" y2="154.5" stroke="#666" stroke-width="0.8" />
<text x="474.695" y="160.4" font-size="4.9" font-weight="bold" text-anchor="middle" fill="#1e1e1e" >10</text>
<text x="477.295" y="157.9" font-size="3.6" font-weight="bold" text-anchor="start" fill="#1e1e1e" >3</text>
<line x1="490.455" y1="153.0" x2="490.455" y2="154.5" stroke="#666" stroke-width="0.8" />
<text x="490.655" y="160.4" font-size="4.9" font-weight="bold" text-anchor="middle" fill="#1e1e1e" >10</text>
<text x="493.255" y="157.9" font-size="3.6" font-weight="bold" text-anchor="start" fill="#1e1e1e" >4</text>
<line x1="504.7525" y1="153.0" x2="504.7525" y2="154.5" stroke="#666" stroke-width="0.8" />
<text x="504.9525" y="160.4" font-size="4.9" font-weight="bold" text-anchor="middle" fill="#1e1e1e" >10</text>
<text x="507.5525" y="157.9" font-size="3.6" font-weight="bold" text-anchor="start" fill="#1e1e1e" >5</text>
<rect x="312.6" y="21.4" width="15.5" height="27.800000000000004" fill="none" stroke="#8a8a8a" stroke-width="0.75"/>
<path d="M322.3 40.7h0.9v0.9h-0.9zM320.6 36.9h0.9v0.9h-0.9zM321.1 25.4h0.9v0.9h-0.9zM319.6 29.4h0.9v0.9h-0.9zM316.4 38.8h0.9v0.9h-0.9zM321.0 31.2h0.9v0.9h-0.9zM320.5 31.7h0.9v0.9h-0.9zM319.2 33.4h0.9v0.9h-0.9zM320.6 25.1h0.9v0.9h-0.9zM320.9 39.0h0.9v0.9h-0.9zM319.7 44.6h0.9v0.9h-0.9zM319.0 46.7h0.9v0.9h-0.9zM319.3 36.5h0.9v0.9h-0.9zM316.5 43.8h0.9v0.9h-0.9zM322.7 39.3h0.9v0.9h-0.9zM322.5 45.8h0.9v0.9h-0.9zM319.6 42.1h0.9v0.9h-0.9zM319.7 45.3h0.9v0.9h-0.9zM319.9 35.7h0.9v0.9h-0.9zM320.3 25.1h0.9v0.9h-0.9zM322.4 46.6h0.9v0.9h-0.9zM322.6 38.1h0.9v0.9h-0.9zM319.3 34.5h0.9v0.9h-0.9zM321.0 48.9h0.9v0.9h-0.9zM321.4 36.4h0.9v0.9h-0.9zM319.4 23.6h0.9v0.9h-0.9zM318.3 41.8h0.9v0.9h-0.9zM324.1 41.4h0.9v0.9h-0.9zM316.0 44.6h0.9v0.9h-0.9zM319.9 26.2h0.9v0.9h-0.9zM320.5 27.8h0.9v0.9h-0.9zM320.4 23.5h0.9v0.9h-0.9zM320.6 46.7h0.9v0.9h-0.9zM319.5 30.2h0.9v0.9h-0.9zM321.0 25.8h0.9v0.9h-0.9zM322.3 27.8h0.9v0.9h-0.9zM321.5 37.5h0.9v0.9h-0.9zM319.7 30.4h0.9v0.9h-0.9zM317.7 44.1h0.9v0.9h-0.9zM324.3 45.0h0.9v0.9h-0.9zM316.7 43.1h0.9v0.9h-0.9zM320.5 32.9h0.9v0.9h-0.9zM321.7 41.9h0.9v0.9h-0.9zM325.9 48.3h0.9v0.9h-0.9zM320.9 29.5h0.9v0.9h-0.9zM323.0 40.0h0.9v0.9h-0.9zM320.6 44.7h0.9v0.9h-0.9zM321.0 47.6h0.9v0.9h-0.9zM320.4 44.4h0.9v0.9h-0.9zM319.6 28.0h0.9v0.9h-0.9zM320.6 47.5h0.9v0.9h-0.9zM315.5 40.9h0.9v0.9h-0.9zM323.1 27.0h0.9v0.9h-0.9zM317.9 48.2h0.9v0.9h-0.9zM320.6 45.4h0.9v0.9h-0.9zM321.5 39.0h0.9v0.9h-0.9zM321.1 27.0h0.9v0.9h-0.9zM321.0 47.5h0.9v0.9h-0.9zM318.2 36.8h0.9v0.9h-0.9zM320.3 28.4h0.9v0.9h-0.9zM318.4 28.1h0.9v0.9h-0.9zM319.7 37.2h0.9v0.9h-0.9zM319.5 26.3h0.9v0.9h-0.9zM323.0 37.0h0.9v0.9h-0.9zM317.3 47.7h0.9v0.9h-0.9zM320.1 41.9h0.9v0.9h-0.9zM322.5 36.2h0.9v0.9h-0.9zM318.0 30.4h0.9v0.9h-0.9zM320.9 45.8h0.9v0.9h-0.9zM320.4 29.9h0.9v0.9h-0.9zM321.2 44.3h0.9v0.9h-0.9zM318.6 27.3h0.9v0.9h-0.9zM321.4 29.3h0.9v0.9h-0.9zM320.7 45.6h0.9v0.9h-0.9zM319.6 37.2h0.9v0.9h-0.9zM321.6 24.0h0.9v0.9h-0.9zM319.6 24.0h0.9v0.9h-0.9zM320.2 26.3h0.9v0.9h-0.9zM319.3 26.9h0.9v0.9h-0.9zM320.1 45.2h0.9v0.9h-0.9zM319.0 42.1h0.9v0.9h-0.9zM319.5 41.7h0.9v0.9h-0.9zM319.1 44.7h0.9v0.9h-0.9zM320.9 25.3h0.9v0.9h-0.9zM322.7 48.1h0.9v0.9h-0.9zM320.3 37.5h0.9v0.9h-0.9zM320.5 28.8h0.9v0.9h-0.9zM319.6 43.6h0.9v0.9h-0.9zM321.0 24.0h0.9v0.9h-0.9zM319.0 42.9h0.9v0.9h-0.9zM320.6 26.3h0.9v0.9h-0.9zM321.0 36.6h0.9v0.9h-0.9zM318.9 42.2h0.9v0.9h-0.9zM320.5 26.9h0.9v0.9h-0.9zM320.5 30.3h0.9v0.9h-0.9zM317.0 41.3h0.9v0.9h-0.9zM319.4 31.3h0.9v0.9h-0.9zM320.8 49.0h0.9v0.9h-0.9zM321.3 30.0h0.9v0.9h-0.9zM320.3 33.6h0.9v0.9h-0.9zM320.1 28.8h0.9v0.9h-0.9zM320.8 34.1h0.9v0.9h-0.9zM320.4 31.6h0.9v0.9h-0.9zM319.6 40.9h0.9v0.9h-0.9zM318.2 33.8h0.9v0.9h-0.9zM322.6 40.5h0.9v0.9h-0.9zM317.7 47.1h0.9v0.9h-0.9zM319.3 37.4h0.9v0.9h-0.9zM321.5 44.8h0.9v0.9h-0.9zM318.4 41.9h0.9v0.9h-0.9zM319.9 27.0h0.9v0.9h-0.9zM318.2 40.1h0.9v0.9h-0.9zM323.1 36.5h0.9v0.9h-0.9zM318.2 37.7h0.9v0.9h-0.9zM320.2 43.0h0.9v0.9h-0.9zM322.1 28.9h0.9v0.9h-0.9zM318.8 36.6h0.9v0.9h-0.9zM317.4 39.8h0.9v0.9h-0.9zM320.2 27.4h0.9v0.9h-0.9zM321.3 23.8h0.9v0.9h-0.9zM319.2 41.3h0.9v0.9h-0.9zM322.1 35.8h0.9v0.9h-0.9zM322.1 47.2h0.9v0.9h-0.9zM320.1 35.7h0.9v0.9h-0.9zM320.1 35.4h0.9v0.9h-0.9zM319.8 38.9h0.9v0.9h-0.9zM323.1 48.7h0.9v0.9h-0.9zM320.0 42.1h0.9v0.9h-0.9zM320.3 36.4h0.9v0.9h-0.9zM320.3 31.5h0.9v0.9h-0.9zM320.2 31.9h0.9v0.9h-0.9zM318.1 26.7h0.9v0.9h-0.9zM319.7 47.4h0.9v0.9h-0.9zM324.3 39.1h0.9v0.9h-0.9zM320.8 30.8h0.9v0.9h-0.9zM318.6 48.3h0.9v0.9h-0.9zM320.8 37.0h0.9v0.9h-0.9zM319.0 45.0h0.9v0.9h-0.9zM316.7 48.4h0.9v0.9h-0.9zM321.0 35.4h0.9v0.9h-0.9zM323.1 31.1h0.9v0.9h-0.9zM321.3 32.6h0.9v0.9h-0.9zM322.0 34.0h0.9v0.9h-0.9zM321.4 29.0h0.9v0.9h-0.9zM321.1 28.6h0.9v0.9h-0.9zM320.7 30.3h0.9v0.9h-0.9zM318.4 43.4h0.9v0.9h-0.9zM320.0 32.5h0.9v0.9h-0.9zM318.4 29.2h0.9v0.9h-0.9zM316.7 34.1h0.9v0.9h-0.9zM318.7 24.1h0.9v0.9h-0.9zM317.3 47.2h0.9v0.9h-0.9zM320.2 48.1h0.9v0.9h-0.9zM322.1 41.6h0.9v0.9h-0.9zM320.4 40.7h0.9v0.9h-0.9zM320.0 44.2h0.9v0.9h-0.9zM319.9 40.6h0.9v0.9h-0.9zM323.0 42.0h0.9v0.9h-0.9zM318.7 37.4h0.9v0.9h-0.9zM321.4 23.8h0.9v0.9h-0.9zM317.2 48.9h0.9v0.9h-0.9zM320.3 30.0h0.9v0.9h-0.9zM321.8 31.6h0.9v0.9h-0.9zM319.0 30.3h0.9v0.9h-0.9zM321.3 29.5h0.9v0.9h-0.9zM321.1 28.7h0.9v0.9h-0.9zM321.4 36.9h0.9v0.9h-0.9zM322.3 29.6h0.9v0.9h-0.9zM321.7 31.3h0.9v0.9h-0.9zM321.2 34.6h0.9v0.9h-0.9zM319.6 27.4h0.9v0.9h-0.9zM320.1 24.9h0.9v0.9h-0.9zM322.9 47.3h0.9v0.9h-0.9zM320.1 32.2h0.9v0.9h-0.9zM323.1 43.3h0.9v0.9h-0.9zM321.1 32.3h0.9v0.9h-0.9zM318.2 30.9h0.9v0.9h-0.9zM322.4 29.0h0.9v0.9h-0.9zM319.6 45.3h0.9v0.9h-0.9zM320.6 47.9h0.9v0.9h-0.9zM322.5 47.3h0.9v0.9h-0.9zM318.7 24.6h0.9v0.9h-0.9zM320.0 47.9h0.9v0.9h-0.9zM319.5 30.7h0.9v0.9h-0.9zM320.0 30.4h0.9v0.9h-0.9zM320.4 43.5h0.9v0.9h-0.9zM321.9 48.5h0.9v0.9h-0.9zM321.1 48.8h0.9v0.9h-0.9zM316.7 34.9h0.9v0.9h-0.9zM323.5 43.1h0.9v0.9h-0.9zM319.5 39.6h0.9v0.9h-0.9zM321.6 25.6h0.9v0.9h-0.9zM320.5 30.1h0.9v0.9h-0.9zM320.7 30.5h0.9v0.9h-0.9zM320.2 35.3h0.9v0.9h-0.9zM318.8 39.9h0.9v0.9h-0.9zM318.9 26.7h0.9v0.9h-0.9zM318.2 38.5h0.9v0.9h-0.9zM321.1 30.0h0.9v0.9h-0.9zM319.4 38.8h0.9v0.9h-0.9zM320.1 29.6h0.9v0.9h-0.9zM316.3 47.7h0.9v0.9h-0.9zM321.3 26.7h0.9v0.9h-0.9zM318.5 33.4h0.9v0.9h-0.9zM320.7 30.4h0.9v0.9h-0.9zM321.7 39.9h0.9v0.9h-0.9zM320.4 27.2h0.9v0.9h-0.9zM319.2 28.9h0.9v0.9h-0.9zM320.9 41.5h0.9v0.9h-0.9zM323.1 38.0h0.9v0.9h-0.9zM318.2 34.0h0.9v0.9h-0.9zM320.8 41.9h0.9v0.9h-0.9zM321.3 31.7h0.9v0.9h-0.9zM319.6 34.5h0.9v0.9h-0.9zM321.0 33.1h0.9v0.9h-0.9zM320.4 47.4h0.9v0.9h-0.9zM321.4 34.3h0.9v0.9h-0.9zM320.5 38.1h0.9v0.9h-0.9zM319.5 25.9h0.9v0.9h-0.9zM320.2 31.0h0.9v0.9h-0.9zM318.3 26.4h0.9v0.9h-0.9zM320.1 26.9h0.9v0.9h-0.9zM323.7 36.3h0.9v0.9h-0.9zM322.8 39.9h0.9v0.9h-0.9zM320.6 44.3h0.9v0.9h-0.9zM318.4 28.3h0.9v0.9h-0.9zM319.6 37.2h0.9v0.9h-0.9zM323.8 47.3h0.9v0.9h-0.9zM324.0 43.6h0.9v0.9h-0.9zM321.8 38.1h0.9v0.9h-0.9z" fill="#222" opacity="1"/>
<path d="M317.2 60.9h0.8v0.8h-0.8zM315.1 67.2h0.8v0.8h-0.8zM314.5 67.3h0.8v0.8h-0.8zM315.6 65.8h0.8v0.8h-0.8zM324.7 65.0h0.8v0.8h-0.8zM316.7 64.2h0.8v0.8h-0.8zM320.1 55.3h0.8v0.8h-0.8zM317.2 64.8h0.8v0.8h-0.8zM317.7 64.4h0.8v0.8h-0.8zM322.3 67.8h0.8v0.8h-0.8zM322.9 66.9h0.8v0.8h-0.8zM318.4 63.9h0.8v0.8h-0.8zM318.5 62.4h0.8v0.8h-0.8zM318.8 55.4h0.8v0.8h-0.8zM318.2 63.9h0.8v0.8h-0.8zM315.8 63.9h0.8v0.8h-0.8zM321.5 63.2h0.8v0.8h-0.8zM327.4 51.0h0.8v0.8h-0.8zM318.7 54.9h0.8v0.8h-0.8zM310.0 64.6h0.8v0.8h-0.8zM321.5 62.5h0.8v0.8h-0.8zM321.6 52.8h0.8v0.8h-0.8zM322.7 65.9h0.8v0.8h-0.8zM319.6 61.1h0.8v0.8h-0.8zM321.9 61.6h0.8v0.8h-0.8zM320.3 61.4h0.8v0.8h-0.8zM311.0 63.8h0.8v0.8h-0.8zM320.3 67.8h0.8v0.8h-0.8zM316.2 63.8h0.8v0.8h-0.8zM321.8 64.7h0.8v0.8h-0.8zM324.2 74.0h0.8v0.8h-0.8zM316.0 54.4h0.8v0.8h-0.8zM322.8 71.6h0.8v0.8h-0.8zM323.0 68.1h0.8v0.8h-0.8zM317.1 60.4h0.8v0.8h-0.8zM322.9 59.4h0.8v0.8h-0.8zM312.6 59.0h0.8v0.8h-0.8zM329.0 73.6h0.8v0.8h-0.8zM316.9 60.4h0.8v0.8h-0.8zM320.4 60.3h0.8v0.8h-0.8zM324.5 63.6h0.8v0.8h-0.8zM315.4 70.5h0.8v0.8h-0.8zM317.3 65.1h0.8v0.8h-0.8zM319.5 62.4h0.8v0.8h-0.8zM320.7 60.5h0.8v0.8h-0.8zM312.5 53.0h0.8v0.8h-0.8zM314.7 60.2h0.8v0.8h-0.8zM319.4 64.3h0.8v0.8h-0.8zM321.6 64.6h0.8v0.8h-0.8zM316.5 60.5h0.8v0.8h-0.8zM311.4 63.2h0.8v0.8h-0.8zM321.3 66.6h0.8v0.8h-0.8zM319.0 63.1h0.8v0.8h-0.8zM323.1 64.1h0.8v0.8h-0.8zM322.3 66.9h0.8v0.8h-0.8zM320.3 70.5h0.8v0.8h-0.8zM317.3 62.2h0.8v0.8h-0.8zM316.4 60.0h0.8v0.8h-0.8zM325.4 72.8h0.8v0.8h-0.8zM319.6 66.8h0.8v0.8h-0.8zM324.0 68.0h0.8v0.8h-0.8zM324.1 57.7h0.8v0.8h-0.8zM317.1 66.3h0.8v0.8h-0.8zM325.0 64.5h0.8v0.8h-0.8zM316.2 62.2h0.8v0.8h-0.8zM317.0 59.7h0.8v0.8h-0.8zM325.2 60.9h0.8v0.8h-0.8zM324.0 65.7h0.8v0.8h-0.8zM317.2 66.1h0.8v0.8h-0.8zM325.7 67.1h0.8v0.8h-0.8zM324.3 64.5h0.8v0.8h-0.8zM321.5 63.0h0.8v0.8h-0.8zM321.1 70.5h0.8v0.8h-0.8zM314.1 63.7h0.8v0.8h-0.8zM320.4 61.1h0.8v0.8h-0.8zM318.3 67.9h0.8v0.8h-0.8zM327.1 67.1h0.8v0.8h-0.8zM320.7 56.2h0.8v0.8h-0.8zM326.8 64.4h0.8v0.8h-0.8zM319.4 58.4h0.8v0.8h-0.8zM319.3 58.5h0.8v0.8h-0.8zM319.8 66.3h0.8v0.8h-0.8zM319.6 65.4h0.8v0.8h-0.8zM316.3 71.1h0.8v0.8h-0.8zM317.0 54.9h0.8v0.8h-0.8zM318.8 60.2h0.8v0.8h-0.8zM315.7 62.2h0.8v0.8h-0.8zM320.6 58.1h0.8v0.8h-0.8zM319.0 71.1h0.8v0.8h-0.8zM322.1 63.2h0.8v0.8h-0.8z" fill="#222" opacity="1.0"/>
<path d="M326.93 57.87 L326.55 59.16 L326.03 60.40 L325.41 61.60 L324.73 62.74 L324.01 63.80 L323.28 64.79 L322.55 65.68 L321.85 66.48 L321.17 67.15 L320.53 67.71 L319.93 68.14 L319.37 68.43 L318.85 68.58 L318.36 68.59 L317.88 68.44 L317.42 68.16 L316.97 67.72 L316.51 67.15 L316.05 66.43 L315.59 65.60 L315.12 64.64 L314.67 63.58 L314.24 62.43 L313.84 61.20 L313.50 59.92 L313.24 58.60 L313.08 57.26 L313.07 55.93 L313.20 55.31 L313.42 54.72 L313.71 54.15 L314.09 53.62 L314.55 53.12 L315.07 52.68 L315.65 52.29 L316.29 51.96 L316.97 51.69 L317.69 51.48 L318.45 51.34 L319.22 51.28 L320.00 51.28 L320.78 51.35 L321.55 51.50 L322.30 51.71 L323.03 51.99 L323.71 52.33 L324.35 52.72 L324.93 53.17 L325.45 53.67 L325.91 54.20 L326.28 54.77 L326.58 55.37 L326.80 55.99 L326.93 56.62 L326.98 57.25Z" fill="#151515"/>
<path d="M325.80 58.16 L325.47 59.28 L325.01 60.38 L324.46 61.43 L323.86 62.43 L323.23 63.38 L322.59 64.24 L321.95 65.03 L321.32 65.73 L320.73 66.32 L320.17 66.81 L319.64 67.19 L319.15 67.45 L318.69 67.58 L318.25 67.58 L317.84 67.46 L317.43 67.20 L317.03 66.82 L316.63 66.32 L316.22 65.69 L315.82 64.95 L315.41 64.11 L315.01 63.18 L314.63 62.17 L314.28 61.09 L313.98 59.96 L313.75 58.80 L313.61 57.62 L313.60 56.44 L313.72 55.90 L313.91 55.38 L314.17 54.88 L314.50 54.41 L314.90 53.98 L315.36 53.59 L315.87 53.24 L316.43 52.95 L317.04 52.71 L317.67 52.53 L318.33 52.41 L319.01 52.35 L319.70 52.35 L320.39 52.42 L321.06 52.55 L321.73 52.73 L322.36 52.98 L322.96 53.28 L323.53 53.62 L324.04 54.02 L324.50 54.46 L324.90 54.93 L325.23 55.43 L325.49 55.96 L325.68 56.50 L325.80 57.05 L325.84 57.61Z" fill="#f4f4f4"/>
<path d="M325.11 58.06 L324.81 59.06 L324.40 60.03 L323.92 60.96 L323.39 61.85 L322.83 62.68 L322.26 63.45 L321.69 64.15 L321.14 64.77 L320.61 65.30 L320.11 65.73 L319.65 66.07 L319.21 66.29 L318.80 66.41 L318.42 66.41 L318.05 66.30 L317.69 66.08 L317.33 65.74 L316.98 65.29 L316.62 64.74 L316.26 64.08 L315.90 63.34 L315.54 62.51 L315.21 61.61 L314.90 60.66 L314.63 59.66 L314.43 58.63 L314.30 57.58 L314.29 56.54 L314.40 56.06 L314.56 55.60 L314.80 55.15 L315.09 54.74 L315.45 54.36 L315.85 54.01 L316.31 53.70 L316.80 53.44 L317.34 53.23 L317.90 53.07 L318.49 52.97 L319.09 52.91 L319.70 52.92 L320.31 52.97 L320.91 53.09 L321.50 53.25 L322.06 53.47 L322.59 53.73 L323.09 54.04 L323.55 54.39 L323.95 54.78 L324.31 55.20 L324.60 55.64 L324.84 56.11 L325.00 56.59 L325.11 57.08 L325.14 57.57Z" fill="#c8c8c8" stroke="#777" stroke-width="0.5"/>
<path d="M324.46 57.08 L324.23 57.85 L323.92 58.60 L323.55 59.32 L323.14 60.00 L322.71 60.64 L322.27 61.23 L321.83 61.77 L321.41 62.25 L321.00 62.65 L320.62 62.99 L320.26 63.24 L319.92 63.42 L319.61 63.51 L319.31 63.51 L319.03 63.43 L318.75 63.25 L318.48 62.99 L318.21 62.65 L317.93 62.22 L317.65 61.72 L317.37 61.14 L317.10 60.51 L316.84 59.82 L316.61 59.08 L316.40 58.31 L316.24 57.52 L316.15 56.72 L316.14 55.92 L316.22 55.55 L316.35 55.19 L316.53 54.85 L316.76 54.53 L317.03 54.23 L317.34 53.97 L317.69 53.73 L318.07 53.53 L318.48 53.37 L318.92 53.25 L319.37 53.17 L319.83 53.13 L320.30 53.13 L320.77 53.17 L321.23 53.26 L321.68 53.39 L322.12 53.55 L322.53 53.76 L322.91 53.99 L323.26 54.26 L323.57 54.56 L323.84 54.88 L324.07 55.22 L324.25 55.58 L324.38 55.95 L324.46 56.33 L324.49 56.71Z" fill="#939393" stroke="#444" stroke-width="0.5"/>
<path d="M323.61 56.51 L323.45 57.05 L323.23 57.57 L322.97 58.07 L322.69 58.55 L322.39 59.00 L322.08 59.41 L321.77 59.79 L321.48 60.12 L321.19 60.41 L320.92 60.64 L320.67 60.82 L320.44 60.94 L320.22 61.01 L320.01 61.01 L319.81 60.95 L319.62 60.83 L319.43 60.64 L319.23 60.40 L319.04 60.10 L318.85 59.75 L318.65 59.35 L318.46 58.91 L318.28 58.42 L318.11 57.91 L317.97 57.37 L317.86 56.81 L317.79 56.25 L317.79 55.69 L317.84 55.43 L317.93 55.18 L318.06 54.94 L318.22 54.72 L318.41 54.51 L318.63 54.33 L318.87 54.16 L319.14 54.02 L319.43 53.91 L319.73 53.82 L320.05 53.77 L320.37 53.74 L320.70 53.74 L321.03 53.77 L321.35 53.83 L321.67 53.92 L321.97 54.04 L322.26 54.18 L322.53 54.35 L322.77 54.53 L322.99 54.74 L323.18 54.97 L323.34 55.21 L323.47 55.46 L323.56 55.72 L323.61 55.98 L323.63 56.25Z" fill="#2a2a2a"/>
<path d="M321.81 56.26 L321.75 56.46 L321.66 56.66 L321.57 56.85 L321.46 57.03 L321.34 57.20 L321.23 57.36 L321.11 57.51 L321.00 57.63 L320.89 57.74 L320.78 57.83 L320.69 57.90 L320.60 57.94 L320.52 57.97 L320.44 57.97 L320.36 57.95 L320.29 57.90 L320.21 57.83 L320.14 57.74 L320.07 57.63 L319.99 57.49 L319.92 57.34 L319.85 57.17 L319.78 56.98 L319.71 56.79 L319.66 56.58 L319.62 56.37 L319.59 56.16 L319.59 55.94 L319.61 55.85 L319.65 55.75 L319.69 55.66 L319.75 55.57 L319.83 55.50 L319.91 55.42 L320.00 55.36 L320.11 55.31 L320.22 55.27 L320.33 55.23 L320.45 55.21 L320.57 55.20 L320.70 55.20 L320.82 55.21 L320.95 55.24 L321.07 55.27 L321.18 55.31 L321.29 55.37 L321.40 55.43 L321.49 55.50 L321.57 55.58 L321.64 55.67 L321.71 55.76 L321.75 55.86 L321.79 55.95 L321.81 56.05 L321.82 56.16Z" fill="#666"/>
<text x="319.8" y="18.2" font-size="6.9" font-weight="bold" text-anchor="middle" fill="#000" >4.07</text>
<rect x="395.4" y="19.0" width="15.0" height="31.299999999999997" fill="none" stroke="#8a8a8a" stroke-width="0.75"/>
<path d="M400.0 20.0h1.0v1.0h-1.0zM401.0 20.0h1.0v1.0h-1.0zM406.0 21.0h1.0v1.0h-1.0zM406.0 22.0h1.0v1.0h-1.0zM399.0 23.0h1.0v1.0h-1.0zM406.0 23.0h1.0v1.0h-1.0zM399.0 24.0h1.0v1.0h-1.0zM407.0 26.0h1.0v1.0h-1.0zM398.0 27.0h1.0v1.0h-1.0zM407.0 27.0h1.0v1.0h-1.0zM398.0 28.0h1.0v1.0h-1.0zM397.0 32.0h1.0v1.0h-1.0zM408.0 32.0h1.0v1.0h-1.0zM397.0 33.0h1.0v1.0h-1.0zM408.0 33.0h1.0v1.0h-1.0zM408.0 34.0h1.0v1.0h-1.0zM409.0 43.0h1.0v1.0h-1.0zM410.0 47.0h1.0v1.0h-1.0zM393.0 53.0h1.0v1.0h-1.0zM393.0 54.0h1.0v1.0h-1.0zM393.0 56.0h1.0v1.0h-1.0zM410.0 60.0h1.0v1.0h-1.0zM410.0 61.0h1.0v1.0h-1.0zM394.0 64.0h1.0v1.0h-1.0zM408.0 65.0h1.0v1.0h-1.0zM395.0 66.0h1.0v1.0h-1.0z" fill="rgb(234,234,234)"/>
<path d="M402.0 20.0h1.0v1.0h-1.0zM403.0 20.0h1.0v1.0h-1.0zM404.0 20.0h1.0v1.0h-1.0zM405.0 20.0h1.0v1.0h-1.0zM400.0 21.0h1.0v1.0h-1.0zM401.0 21.0h1.0v1.0h-1.0zM403.0 21.0h1.0v1.0h-1.0zM404.0 21.0h1.0v1.0h-1.0zM398.0 29.0h1.0v1.0h-1.0zM407.0 29.0h1.0v1.0h-1.0zM397.0 34.0h1.0v1.0h-1.0zM397.0 35.0h1.0v1.0h-1.0zM408.0 35.0h1.0v1.0h-1.0zM397.0 36.0h1.0v1.0h-1.0zM396.0 42.0h1.0v1.0h-1.0zM396.0 43.0h1.0v1.0h-1.0zM395.0 45.0h1.0v1.0h-1.0zM394.0 48.0h1.0v1.0h-1.0zM410.0 48.0h1.0v1.0h-1.0zM393.0 55.0h1.0v1.0h-1.0zM393.0 57.0h1.0v1.0h-1.0zM410.0 57.0h1.0v1.0h-1.0zM393.0 58.0h1.0v1.0h-1.0zM410.0 58.0h1.0v1.0h-1.0zM410.0 59.0h1.0v1.0h-1.0zM393.0 60.0h1.0v1.0h-1.0zM393.0 62.0h1.0v1.0h-1.0zM409.0 63.0h1.0v1.0h-1.0zM405.0 69.0h1.0v1.0h-1.0z" fill="rgb(212,212,212)"/>
<path d="M402.0 21.0h1.0v1.0h-1.0zM405.0 21.0h1.0v1.0h-1.0zM400.0 22.0h1.0v1.0h-1.0zM402.0 22.0h1.0v1.0h-1.0zM401.0 23.0h1.0v1.0h-1.0zM402.0 23.0h1.0v1.0h-1.0zM404.0 23.0h1.0v1.0h-1.0zM400.0 24.0h1.0v1.0h-1.0zM403.0 24.0h1.0v1.0h-1.0zM404.0 24.0h1.0v1.0h-1.0zM405.0 24.0h1.0v1.0h-1.0zM406.0 24.0h1.0v1.0h-1.0zM399.0 25.0h1.0v1.0h-1.0zM402.0 25.0h1.0v1.0h-1.0zM407.0 28.0h1.0v1.0h-1.0zM408.0 36.0h1.0v1.0h-1.0zM408.0 37.0h1.0v1.0h-1.0zM395.0 46.0h1.0v1.0h-1.0zM394.0 49.0h1.0v1.0h-1.0zM394.0 50.0h1.0v1.0h-1.0zM410.0 52.0h1.0v1.0h-1.0zM410.0 54.0h1.0v1.0h-1.0zM410.0 55.0h1.0v1.0h-1.0zM410.0 56.0h1.0v1.0h-1.0zM396.0 67.0h1.0v1.0h-1.0zM398.0 70.0h1.0v1.0h-1.0z" fill="rgb(191,191,191)"/>
<path d="M401.0 22.0h1.0v1.0h-1.0zM403.0 22.0h1.0v1.0h-1.0zM404.0 22.0h1.0v1.0h-1.0zM405.0 22.0h1.0v1.0h-1.0zM400.0 23.0h1.0v1.0h-1.0zM403.0 23.0h1.0v1.0h-1.0zM402.0 24.0h1.0v1.0h-1.0zM404.0 25.0h1.0v1.0h-1.0zM406.0 25.0h1.0v1.0h-1.0zM399.0 26.0h1.0v1.0h-1.0zM402.0 26.0h1.0v1.0h-1.0zM403.0 26.0h1.0v1.0h-1.0zM404.0 26.0h1.0v1.0h-1.0zM405.0 26.0h1.0v1.0h-1.0zM402.0 27.0h1.0v1.0h-1.0zM403.0 27.0h1.0v1.0h-1.0zM406.0 27.0h1.0v1.0h-1.0zM398.0 31.0h1.0v1.0h-1.0zM398.0 32.0h1.0v1.0h-1.0zM407.0 32.0h1.0v1.0h-1.0zM397.0 37.0h1.0v1.0h-1.0zM408.0 38.0h1.0v1.0h-1.0zM409.0 44.0h1.0v1.0h-1.0zM409.0 46.0h1.0v1.0h-1.0zM394.0 51.0h1.0v1.0h-1.0zM410.0 51.0h1.0v1.0h-1.0zM410.0 53.0h1.0v1.0h-1.0zM393.0 59.0h1.0v1.0h-1.0zM393.0 61.0h1.0v1.0h-1.0zM394.0 63.0h1.0v1.0h-1.0zM395.0 65.0h1.0v1.0h-1.0zM407.0 66.0h1.0v1.0h-1.0zM404.0 70.0h1.0v1.0h-1.0z" fill="rgb(170,170,170)"/>
<path d="M405.0 23.0h1.0v1.0h-1.0zM403.0 25.0h1.0v1.0h-1.0zM406.0 26.0h1.0v1.0h-1.0zM401.0 27.0h1.0v1.0h-1.0zM405.0 27.0h1.0v1.0h-1.0zM399.0 28.0h1.0v1.0h-1.0zM398.0 30.0h1.0v1.0h-1.0zM400.0 30.0h1.0v1.0h-1.0zM407.0 30.0h1.0v1.0h-1.0zM407.0 31.0h1.0v1.0h-1.0zM398.0 33.0h1.0v1.0h-1.0zM397.0 38.0h1.0v1.0h-1.0zM408.0 39.0h1.0v1.0h-1.0zM409.0 45.0h1.0v1.0h-1.0zM410.0 49.0h1.0v1.0h-1.0zM410.0 50.0h1.0v1.0h-1.0zM409.0 55.0h1.0v1.0h-1.0zM409.0 62.0h1.0v1.0h-1.0zM406.0 67.0h1.0v1.0h-1.0z" fill="rgb(149,149,149)"/>
<path d="M401.0 24.0h1.0v1.0h-1.0zM400.0 25.0h1.0v1.0h-1.0zM401.0 25.0h1.0v1.0h-1.0zM405.0 25.0h1.0v1.0h-1.0zM399.0 27.0h1.0v1.0h-1.0zM400.0 28.0h1.0v1.0h-1.0zM403.0 28.0h1.0v1.0h-1.0zM405.0 29.0h1.0v1.0h-1.0zM399.0 30.0h1.0v1.0h-1.0zM404.0 30.0h1.0v1.0h-1.0zM408.0 40.0h1.0v1.0h-1.0zM408.0 41.0h1.0v1.0h-1.0zM408.0 42.0h1.0v1.0h-1.0zM409.0 48.0h1.0v1.0h-1.0zM395.0 49.0h1.0v1.0h-1.0zM394.0 54.0h1.0v1.0h-1.0zM394.0 55.0h1.0v1.0h-1.0zM409.0 58.0h1.0v1.0h-1.0zM409.0 61.0h1.0v1.0h-1.0zM394.0 62.0h1.0v1.0h-1.0zM395.0 64.0h1.0v1.0h-1.0zM408.0 64.0h1.0v1.0h-1.0zM407.0 65.0h1.0v1.0h-1.0z" fill="rgb(128,128,128)"/>
<path d="M400.0 27.0h1.0v1.0h-1.0zM402.0 28.0h1.0v1.0h-1.0zM405.0 28.0h1.0v1.0h-1.0zM399.0 29.0h1.0v1.0h-1.0zM402.0 29.0h1.0v1.0h-1.0zM401.0 30.0h1.0v1.0h-1.0zM398.0 34.0h1.0v1.0h-1.0zM407.0 35.0h1.0v1.0h-1.0zM397.0 39.0h1.0v1.0h-1.0zM397.0 41.0h1.0v1.0h-1.0zM396.0 44.0h1.0v1.0h-1.0zM396.0 45.0h1.0v1.0h-1.0zM408.0 45.0h1.0v1.0h-1.0zM396.0 46.0h1.0v1.0h-1.0zM395.0 47.0h1.0v1.0h-1.0zM394.0 52.0h1.0v1.0h-1.0zM394.0 53.0h1.0v1.0h-1.0zM395.0 55.0h1.0v1.0h-1.0zM409.0 56.0h1.0v1.0h-1.0zM409.0 57.0h1.0v1.0h-1.0zM407.0 64.0h1.0v1.0h-1.0z" fill="rgb(106,106,106)"/>
<path d="M400.0 26.0h1.0v1.0h-1.0zM401.0 26.0h1.0v1.0h-1.0zM404.0 27.0h1.0v1.0h-1.0zM406.0 28.0h1.0v1.0h-1.0zM400.0 29.0h1.0v1.0h-1.0zM402.0 31.0h1.0v1.0h-1.0zM404.0 31.0h1.0v1.0h-1.0zM405.0 31.0h1.0v1.0h-1.0zM407.0 33.0h1.0v1.0h-1.0zM407.0 34.0h1.0v1.0h-1.0zM398.0 36.0h1.0v1.0h-1.0zM398.0 37.0h1.0v1.0h-1.0zM398.0 38.0h1.0v1.0h-1.0zM407.0 38.0h1.0v1.0h-1.0zM397.0 40.0h1.0v1.0h-1.0zM397.0 43.0h1.0v1.0h-1.0zM408.0 43.0h1.0v1.0h-1.0zM409.0 47.0h1.0v1.0h-1.0zM395.0 48.0h1.0v1.0h-1.0zM409.0 49.0h1.0v1.0h-1.0zM409.0 50.0h1.0v1.0h-1.0zM408.0 53.0h1.0v1.0h-1.0zM409.0 59.0h1.0v1.0h-1.0zM408.0 62.0h1.0v1.0h-1.0zM397.0 68.0h1.0v1.0h-1.0z" fill="rgb(85,85,85)"/>
<path d="M401.0 28.0h1.0v1.0h-1.0zM404.0 29.0h1.0v1.0h-1.0zM405.0 30.0h1.0v1.0h-1.0zM406.0 30.0h1.0v1.0h-1.0zM400.0 31.0h1.0v1.0h-1.0zM399.0 33.0h1.0v1.0h-1.0zM404.0 33.0h1.0v1.0h-1.0zM400.0 34.0h1.0v1.0h-1.0zM404.0 34.0h1.0v1.0h-1.0zM404.0 35.0h1.0v1.0h-1.0zM405.0 35.0h1.0v1.0h-1.0zM402.0 36.0h1.0v1.0h-1.0zM404.0 36.0h1.0v1.0h-1.0zM403.0 37.0h1.0v1.0h-1.0zM407.0 37.0h1.0v1.0h-1.0zM397.0 42.0h1.0v1.0h-1.0zM395.0 52.0h1.0v1.0h-1.0zM408.0 54.0h1.0v1.0h-1.0zM394.0 56.0h1.0v1.0h-1.0zM395.0 56.0h1.0v1.0h-1.0zM409.0 60.0h1.0v1.0h-1.0zM406.0 65.0h1.0v1.0h-1.0z" fill="rgb(64,64,64)"/>
<path d="M404.0 28.0h1.0v1.0h-1.0zM401.0 29.0h1.0v1.0h-1.0zM403.0 29.0h1.0v1.0h-1.0zM406.0 29.0h1.0v1.0h-1.0zM399.0 31.0h1.0v1.0h-1.0zM403.0 32.0h1.0v1.0h-1.0zM404.0 32.0h1.0v1.0h-1.0zM405.0 32.0h1.0v1.0h-1.0zM402.0 33.0h1.0v1.0h-1.0zM399.0 34.0h1.0v1.0h-1.0zM399.0 35.0h1.0v1.0h-1.0zM400.0 35.0h1.0v1.0h-1.0zM406.0 35.0h1.0v1.0h-1.0zM399.0 36.0h1.0v1.0h-1.0zM407.0 36.0h1.0v1.0h-1.0zM400.0 37.0h1.0v1.0h-1.0zM406.0 39.0h1.0v1.0h-1.0zM407.0 39.0h1.0v1.0h-1.0zM399.0 41.0h1.0v1.0h-1.0zM399.0 43.0h1.0v1.0h-1.0zM397.0 47.0h1.0v1.0h-1.0zM395.0 51.0h1.0v1.0h-1.0zM408.0 52.0h1.0v1.0h-1.0zM409.0 53.0h1.0v1.0h-1.0zM409.0 54.0h1.0v1.0h-1.0zM394.0 57.0h1.0v1.0h-1.0zM394.0 58.0h1.0v1.0h-1.0zM405.0 59.0h1.0v1.0h-1.0zM394.0 61.0h1.0v1.0h-1.0zM395.0 62.0h1.0v1.0h-1.0zM396.0 63.0h1.0v1.0h-1.0zM408.0 63.0h1.0v1.0h-1.0zM398.0 68.0h1.0v1.0h-1.0zM403.0 71.0h1.0v1.0h-1.0z" fill="rgb(42,42,42)"/>
<path d="M402.0 30.0h1.0v1.0h-1.0zM406.0 31.0h1.0v1.0h-1.0zM401.0 33.0h1.0v1.0h-1.0zM405.0 33.0h1.0v1.0h-1.0zM405.0 34.0h1.0v1.0h-1.0zM398.0 35.0h1.0v1.0h-1.0zM401.0 35.0h1.0v1.0h-1.0zM401.0 37.0h1.0v1.0h-1.0zM405.0 41.0h1.0v1.0h-1.0zM397.0 44.0h1.0v1.0h-1.0zM408.0 44.0h1.0v1.0h-1.0zM397.0 45.0h1.0v1.0h-1.0zM405.0 46.0h1.0v1.0h-1.0zM398.0 47.0h1.0v1.0h-1.0zM408.0 48.0h1.0v1.0h-1.0zM402.0 49.0h1.0v1.0h-1.0zM395.0 50.0h1.0v1.0h-1.0zM397.0 50.0h1.0v1.0h-1.0zM406.0 50.0h1.0v1.0h-1.0zM401.0 52.0h1.0v1.0h-1.0zM405.0 52.0h1.0v1.0h-1.0zM407.0 52.0h1.0v1.0h-1.0zM409.0 52.0h1.0v1.0h-1.0zM405.0 54.0h1.0v1.0h-1.0zM407.0 54.0h1.0v1.0h-1.0zM406.0 55.0h1.0v1.0h-1.0zM407.0 55.0h1.0v1.0h-1.0zM396.0 56.0h1.0v1.0h-1.0zM401.0 56.0h1.0v1.0h-1.0zM396.0 57.0h1.0v1.0h-1.0zM397.0 57.0h1.0v1.0h-1.0zM406.0 57.0h1.0v1.0h-1.0zM405.0 58.0h1.0v1.0h-1.0zM394.0 59.0h1.0v1.0h-1.0zM394.0 60.0h1.0v1.0h-1.0zM402.0 62.0h1.0v1.0h-1.0zM395.0 63.0h1.0v1.0h-1.0zM397.0 63.0h1.0v1.0h-1.0zM396.0 64.0h1.0v1.0h-1.0zM398.0 64.0h1.0v1.0h-1.0zM404.0 64.0h1.0v1.0h-1.0zM396.0 66.0h1.0v1.0h-1.0zM398.0 66.0h1.0v1.0h-1.0zM403.0 66.0h1.0v1.0h-1.0zM401.0 68.0h1.0v1.0h-1.0zM399.0 71.0h1.0v1.0h-1.0z" fill="rgb(21,21,21)"/>
<path d="M403.0 30.0h1.0v1.0h-1.0zM401.0 31.0h1.0v1.0h-1.0zM403.0 31.0h1.0v1.0h-1.0zM399.0 32.0h1.0v1.0h-1.0zM400.0 32.0h1.0v1.0h-1.0zM401.0 32.0h1.0v1.0h-1.0zM402.0 32.0h1.0v1.0h-1.0zM406.0 32.0h1.0v1.0h-1.0zM400.0 33.0h1.0v1.0h-1.0zM403.0 33.0h1.0v1.0h-1.0zM406.0 33.0h1.0v1.0h-1.0zM401.0 34.0h1.0v1.0h-1.0zM402.0 34.0h1.0v1.0h-1.0zM403.0 34.0h1.0v1.0h-1.0zM406.0 34.0h1.0v1.0h-1.0zM402.0 35.0h1.0v1.0h-1.0zM403.0 35.0h1.0v1.0h-1.0zM400.0 36.0h1.0v1.0h-1.0zM401.0 36.0h1.0v1.0h-1.0zM403.0 36.0h1.0v1.0h-1.0zM405.0 36.0h1.0v1.0h-1.0zM406.0 36.0h1.0v1.0h-1.0zM399.0 37.0h1.0v1.0h-1.0zM402.0 37.0h1.0v1.0h-1.0zM404.0 37.0h1.0v1.0h-1.0zM405.0 37.0h1.0v1.0h-1.0zM406.0 37.0h1.0v1.0h-1.0zM399.0 38.0h1.0v1.0h-1.0zM400.0 38.0h1.0v1.0h-1.0zM401.0 38.0h1.0v1.0h-1.0zM402.0 38.0h1.0v1.0h-1.0zM403.0 38.0h1.0v1.0h-1.0zM404.0 38.0h1.0v1.0h-1.0zM405.0 38.0h1.0v1.0h-1.0zM406.0 38.0h1.0v1.0h-1.0zM398.0 39.0h1.0v1.0h-1.0zM399.0 39.0h1.0v1.0h-1.0zM400.0 39.0h1.0v1.0h-1.0zM401.0 39.0h1.0v1.0h-1.0zM402.0 39.0h1.0v1.0h-1.0zM403.0 39.0h1.0v1.0h-1.0zM404.0 39.0h1.0v1.0h-1.0zM405.0 39.0h1.0v1.0h-1.0zM398.0 40.0h1.0v1.0h-1.0zM399.0 40.0h1.0v1.0h-1.0zM400.0 40.0h1.0v1.0h-1.0zM401.0 40.0h1.0v1.0h-1.0zM402.0 40.0h1.0v1.0h-1.0zM403.0 40.0h1.0v1.0h-1.0zM404.0 40.0h1.0v1.0h-1.0zM405.0 40.0h1.0v1.0h-1.0zM406.0 40.0h1.0v1.0h-1.0zM407.0 40.0h1.0v1.0h-1.0zM398.0 41.0h1.0v1.0h-1.0zM400.0 41.0h1.0v1.0h-1.0zM401.0 41.0h1.0v1.0h-1.0zM402.0 41.0h1.0v1.0h-1.0zM403.0 41.0h1.0v1.0h-1.0zM404.0 41.0h1.0v1.0h-1.0zM406.0 41.0h1.0v1.0h-1.0zM407.0 41.0h1.0v1.0h-1.0zM398.0 42.0h1.0v1.0h-1.0zM399.0 42.0h1.0v1.0h-1.0zM400.0 42.0h1.0v1.0h-1.0zM401.0 42.0h1.0v1.0h-1.0zM402.0 42.0h1.0v1.0h-1.0zM403.0 42.0h1.0v1.0h-1.0zM404.0 42.0h1.0v1.0h-1.0zM405.0 42.0h1.0v1.0h-1.0zM406.0 42.0h1.0v1.0h-1.0zM407.0 42.0h1.0v1.0h-1.0zM398.0 43.0h1.0v1.0h-1.0zM400.0 43.0h1.0v1.0h-1.0zM401.0 43.0h1.0v1.0h-1.0zM402.0 43.0h1.0v1.0h-1.0zM403.0 43.0h1.0v1.0h-1.0zM404.0 43.0h1.0v1.0h-1.0zM405.0 43.0h1.0v1.0h-1.0zM406.0 43.0h1.0v1.0h-1.0zM407.0 43.0h1.0v1.0h-1.0zM398.0 44.0h1.0v1.0h-1.0zM399.0 44.0h1.0v1.0h-1.0zM400.0 44.0h1.0v1.0h-1.0zM401.0 44.0h1.0v1.0h-1.0zM402.0 44.0h1.0v1.0h-1.0zM403.0 44.0h1.0v1.0h-1.0zM404.0 44.0h1.0v1.0h-1.0zM405.0 44.0h1.0v1.0h-1.0zM406.0 44.0h1.0v1.0h-1.0zM407.0 44.0h1.0v1.0h-1.0zM398.0 45.0h1.0v1.0h-1.0zM399.0 45.0h1.0v1.0h-1.0zM400.0 45.0h1.0v1.0h-1.0zM401.0 45.0h1.0v1.0h-1.0zM402.0 45.0h1.0v1.0h-1.0zM403.0 45.0h1.0v1.0h-1.0zM404.0 45.0h1.0v1.0h-1.0zM405.0 45.0h1.0v1.0h-1.0zM406.0 45.0h1.0v1.0h-1.0zM407.0 45.0h1.0v1.0h-1.0zM397.0 46.0h1.0v1.0h-1.0zM398.0 46.0h1.0v1.0h-1.0zM399.0 46.0h1.0v1.0h-1.0zM400.0 46.0h1.0v1.0h-1.0zM401.0 46.0h1.0v1.0h-1.0zM402.0 46.0h1.0v1.0h-1.0zM403.0 46.0h1.0v1.0h-1.0zM404.0 46.0h1.0v1.0h-1.0zM406.0 46.0h1.0v1.0h-1.0zM407.0 46.0h1.0v1.0h-1.0zM408.0 46.0h1.0v1.0h-1.0zM396.0 47.0h1.0v1.0h-1.0zM399.0 47.0h1.0v1.0h-1.0zM400.0 47.0h1.0v1.0h-1.0zM401.0 47.0h1.0v1.0h-1.0zM402.0 47.0h1.0v1.0h-1.0zM403.0 47.0h1.0v1.0h-1.0zM404.0 47.0h1.0v1.0h-1.0zM405.0 47.0h1.0v1.0h-1.0zM406.0 47.0h1.0v1.0h-1.0zM407.0 47.0h1.0v1.0h-1.0zM408.0 47.0h1.0v1.0h-1.0zM396.0 48.0h1.0v1.0h-1.0zM397.0 48.0h1.0v1.0h-1.0zM398.0 48.0h1.0v1.0h-1.0zM399.0 48.0h1.0v1.0h-1.0zM400.0 48.0h1.0v1.0h-1.0zM401.0 48.0h1.0v1.0h-1.0zM402.0 48.0h1.0v1.0h-1.0zM403.0 48.0h1.0v1.0h-1.0zM404.0 48.0h1.0v1.0h-1.0zM405.0 48.0h1.0v1.0h-1.0zM406.0 48.0h1.0v1.0h-1.0zM407.0 48.0h1.0v1.0h-1.0zM396.0 49.0h1.0v1.0h-1.0zM397.0 49.0h1.0v1.0h-1.0zM398.0 49.0h1.0v1.0h-1.0zM399.0 49.0h1.0v1.0h-1.0zM400.0 49.0h1.0v1.0h-1.0zM401.0 49.0h1.0v1.0h-1.0zM403.0 49.0h1.0v1.0h-1.0zM404.0 49.0h1.0v1.0h-1.0zM405.0 49.0h1.0v1.0h-1.0zM406.0 49.0h1.0v1.0h-1.0zM407.0 49.0h1.0v1.0h-1.0zM408.0 49.0h1.0v1.0h-1.0zM396.0 50.0h1.0v1.0h-1.0zM398.0 50.0h1.0v1.0h-1.0zM399.0 50.0h1.0v1.0h-1.0zM400.0 50.0h1.0v1.0h-1.0zM401.0 50.0h1.0v1.0h-1.0zM402.0 50.0h1.0v1.0h-1.0zM403.0 50.0h1.0v1.0h-1.0zM404.0 50.0h1.0v1.0h-1.0zM405.0 50.0h1.0v1.0h-1.0zM407.0 50.0h1.0v1.0h-1.0zM408.0 50.0h1.0v1.0h-1.0zM396.0 51.0h1.0v1.0h-1.0zM397.0 51.0h1.0v1.0h-1.0zM398.0 51.0h1.0v1.0h-1.0zM399.0 51.0h1.0v1.0h-1.0zM400.0 51.0h1.0v1.0h-1.0zM401.0 51.0h1.0v1.0h-1.0zM402.0 51.0h1.0v1.0h-1.0zM403.0 51.0h1.0v1.0h-1.0zM404.0 51.0h1.0v1.0h-1.0zM405.0 51.0h1.0v1.0h-1.0zM406.0 51.0h1.0v1.0h-1.0zM407.0 51.0h1.0v1.0h-1.0zM408.0 51.0h1.0v1.0h-1.0zM409.0 51.0h1.0v1.0h-1.0zM396.0 52.0h1.0v1.0h-1.0zM397.0 52.0h1.0v1.0h-1.0zM398.0 52.0h1.0v1.0h-1.0zM399.0 52.0h1.0v1.0h-1.0zM400.0 52.0h1.0v1.0h-1.0zM402.0 52.0h1.0v1.0h-1.0zM403.0 52.0h1.0v1.0h-1.0zM404.0 52.0h1.0v1.0h-1.0zM406.0 52.0h1.0v1.0h-1.0zM395.0 53.0h1.0v1.0h-1.0zM396.0 53.0h1.0v1.0h-1.0zM397.0 53.0h1.0v1.0h-1.0zM398.0 53.0h1.0v1.0h-1.0zM399.0 53.0h1.0v1.0h-1.0zM400.0 53.0h1.0v1.0h-1.0zM401.0 53.0h1.0v1.0h-1.0zM402.0 53.0h1.0v1.0h-1.0zM403.0 53.0h1.0v1.0h-1.0zM404.0 53.0h1.0v1.0h-1.0zM405.0 53.0h1.0v1.0h-1.0zM406.0 53.0h1.0v1.0h-1.0zM407.0 53.0h1.0v1.0h-1.0zM395.0 54.0h1.0v1.0h-1.0zM396.0 54.0h1.0v1.0h-1.0zM397.0 54.0h1.0v1.0h-1.0zM398.0 54.0h1.0v1.0h-1.0zM399.0 54.0h1.0v1.0h-1.0zM400.0 54.0h1.0v1.0h-1.0zM401.0 54.0h1.0v1.0h-1.0zM402.0 54.0h1.0v1.0h-1.0zM403.0 54.0h1.0v1.0h-1.0zM404.0 54.0h1.0v1.0h-1.0zM406.0 54.0h1.0v1.0h-1.0zM396.0 55.0h1.0v1.0h-1.0zM397.0 55.0h1.0v1.0h-1.0zM398.0 55.0h1.0v1.0h-1.0zM399.0 55.0h1.0v1.0h-1.0zM400.0 55.0h1.0v1.0h-1.0zM401.0 55.0h1.0v1.0h-1.0zM402.0 55.0h1.0v1.0h-1.0zM403.0 55.0h1.0v1.0h-1.0zM404.0 55.0h1.0v1.0h-1.0zM405.0 55.0h1.0v1.0h-1.0zM408.0 55.0h1.0v1.0h-1.0zM397.0 56.0h1.0v1.0h-1.0zM398.0 56.0h1.0v1.0h-1.0zM399.0 56.0h1.0v1.0h-1.0zM400.0 56.0h1.0v1.0h-1.0zM402.0 56.0h1.0v1.0h-1.0zM403.0 56.0h1.0v1.0h-1.0zM404.0 56.0h1.0v1.0h-1.0zM405.0 56.0h1.0v1.0h-1.0zM406.0 56.0h1.0v1.0h-1.0zM407.0 56.0h1.0v1.0h-1.0zM408.0 56.0h1.0v1.0h-1.0zM395.0 57.0h1.0v1.0h-1.0zM398.0 57.0h1.0v1.0h-1.0zM399.0 57.0h1.0v1.0h-1.0zM400.0 57.0h1.0v1.0h-1.0zM401.0 57.0h1.0v1.0h-1.0zM402.0 57.0h1.0v1.0h-1.0zM403.0 57.0h1.0v1.0h-1.0zM404.0 57.0h1.0v1.0h-1.0zM405.0 57.0h1.0v1.0h-1.0zM407.0 57.0h1.0v1.0h-1.0zM408.0 57.0h1.0v1.0h-1.0zM395.0 58.0h1.0v1.0h-1.0zM396.0 58.0h1.0v1.0h-1.0zM397.0 58.0h1.0v1.0h-1.0zM398.0 58.0h1.0v1.0h-1.0zM399.0 58.0h1.0v1.0h-1.0zM400.0 58.0h1.0v1.0h-1.0zM401.0 58.0h1.0v1.0h-1.0zM402.0 58.0h1.0v1.0h-1.0zM403.0 58.0h1.0v1.0h-1.0zM404.0 58.0h1.0v1.0h-1.0zM406.0 58.0h1.0v1.0h-1.0zM407.0 58.0h1.0v1.0h-1.0zM408.0 58.0h1.0v1.0h-1.0zM395.0 59.0h1.0v1.0h-1.0zM396.0 59.0h1.0v1.0h-1.0zM397.0 59.0h1.0v1.0h-1.0zM398.0 59.0h1.0v1.0h-1.0zM399.0 59.0h1.0v1.0h-1.0zM400.0 59.0h1.0v1.0h-1.0zM401.0 59.0h1.0v1.0h-1.0zM402.0 59.0h1.0v1.0h-1.0zM403.0 59.0h1.0v1.0h-1.0zM404.0 59.0h1.0v1.0h-1.0zM406.0 59.0h1.0v1.0h-1.0zM407.0 59.0h1.0v1.0h-1.0zM408.0 59.0h1.0v1.0h-1.0zM395.0 60.0h1.0v1.0h-1.0zM396.0 60.0h1.0v1.0h-1.0zM397.0 60.0h1.0v1.0h-1.0zM398.0 60.0h1.0v1.0h-1.0zM399.0 60.0h1.0v1.0h-1.0zM400.0 60.0h1.0v1.0h-1.0zM401.0 60.0h1.0v1.0h-1.0zM402.0 60.0h1.0v1.0h-1.0zM403.0 60.0h1.0v1.0h-1.0zM404.0 60.0h1.0v1.0h-1.0zM405.0 60.0h1.0v1.0h-1.0zM406.0 60.0h1.0v1.0h-1.0zM407.0 60.0h1.0v1.0h-1.0zM408.0 60.0h1.0v1.0h-1.0zM395.0 61.0h1.0v1.0h-1.0zM396.0 61.0h1.0v1.0h-1.0zM397.0 61.0h1.0v1.0h-1.0zM398.0 61.0h1.0v1.0h-1.0zM399.0 61.0h1.0v1.0h-1.0zM400.0 61.0h1.0v1.0h-1.0zM401.0 61.0h1.0v1.0h-1.0zM402.0 61.0h1.0v1.0h-1.0zM403.0 61.0h1.0v1.0h-1.0zM404.0 61.0h1.0v1.0h-1.0zM405.0 61.0h1.0v1.0h-1.0zM406.0 61.0h1.0v1.0h-1.0zM407.0 61.0h1.0v1.0h-1.0zM408.0 61.0h1.0v1.0h-1.0zM396.0 62.0h1.0v1.0h-1.0zM397.0 62.0h1.0v1.0h-1.0zM398.0 62.0h1.0v1.0h-1.0zM399.0 62.0h1.0v1.0h-1.0zM400.0 62.0h1.0v1.0h-1.0zM401.0 62.0h1.0v1.0h-1.0zM403.0 62.0h1.0v1.0h-1.0zM404.0 62.0h1.0v1.0h-1.0zM405.0 62.0h1.0v1.0h-1.0zM406.0 62.0h1.0v1.0h-1.0zM407.0 62.0h1.0v1.0h-1.0zM398.0 63.0h1.0v1.0h-1.0zM399.0 63.0h1.0v1.0h-1.0zM400.0 63.0h1.0v1.0h-1.0zM401.0 63.0h1.0v1.0h-1.0zM402.0 63.0h1.0v1.0h-1.0zM403.0 63.0h1.0v1.0h-1.0zM404.0 63.0h1.0v1.0h-1.0zM405.0 63.0h1.0v1.0h-1.0zM406.0 63.0h1.0v1.0h-1.0zM407.0 63.0h1.0v1.0h-1.0zM397.0 64.0h1.0v1.0h-1.0zM399.0 64.0h1.0v1.0h-1.0zM400.0 64.0h1.0v1.0h-1.0zM401.0 64.0h1.0v1.0h-1.0zM402.0 64.0h1.0v1.0h-1.0zM403.0 64.0h1.0v1.0h-1.0zM405.0 64.0h1.0v1.0h-1.0zM406.0 64.0h1.0v1.0h-1.0zM396.0 65.0h1.0v1.0h-1.0zM397.0 65.0h1.0v1.0h-1.0zM398.0 65.0h1.0v1.0h-1.0zM399.0 65.0h1.0v1.0h-1.0zM400.0 65.0h1.0v1.0h-1.0zM401.0 65.0h1.0v1.0h-1.0zM402.0 65.0h1.0v1.0h-1.0zM403.0 65.0h1.0v1.0h-1.0zM404.0 65.0h1.0v1.0h-1.0zM405.0 65.0h1.0v1.0h-1.0zM397.0 66.0h1.0v1.0h-1.0zM399.0 66.0h1.0v1.0h-1.0zM400.0 66.0h1.0v1.0h-1.0zM401.0 66.0h1.0v1.0h-1.0zM402.0 66.0h1.0v1.0h-1.0zM404.0 66.0h1.0v1.0h-1.0zM405.0 66.0h1.0v1.0h-1.0zM406.0 66.0h1.0v1.0h-1.0zM397.0 67.0h1.0v1.0h-1.0zM398.0 67.0h1.0v1.0h-1.0zM399.0 67.0h1.0v1.0h-1.0zM400.0 67.0h1.0v1.0h-1.0zM401.0 67.0h1.0v1.0h-1.0zM402.0 67.0h1.0v1.0h-1.0zM403.0 67.0h1.0v1.0h-1.0zM404.0 67.0h1.0v1.0h-1.0zM405.0 67.0h1.0v1.0h-1.0zM399.0 68.0h1.0v1.0h-1.0zM400.0 68.0h1.0v1.0h-1.0zM402.0 68.0h1.0v1.0h-1.0zM403.0 68.0h1.0v1.0h-1.0zM404.0 68.0h1.0v1.0h-1.0zM405.0 68.0h1.0v1.0h-1.0zM398.0 69.0h1.0v1.0h-1.0zM399.0 69.0h1.0v1.0h-1.0zM400.0 69.0h1.0v1.0h-1.0zM401.0 69.0h1.0v1.0h-1.0zM402.0 69.0h1.0v1.0h-1.0zM403.0 69.0h1.0v1.0h-1.0zM404.0 69.0h1.0v1.0h-1.0zM399.0 70.0h1.0v1.0h-1.0zM400.0 70.0h1.0v1.0h-1.0zM401.0 70.0h1.0v1.0h-1.0zM402.0 70.0h1.0v1.0h-1.0zM403.0 70.0h1.0v1.0h-1.0zM400.0 71.0h1.0v1.0h-1.0zM401.0 71.0h1.0v1.0h-1.0zM402.0 71.0h1.0v1.0h-1.0zM400.0 72.0h1.0v1.0h-1.0zM401.0 72.0h1.0v1.0h-1.0zM402.0 72.0h1.0v1.0h-1.0z" fill="rgb(0,0,0)"/>
<path d="M403.7 38.8h0.8v0.8h-0.8zM404.1 60.1h0.8v0.8h-0.8zM397.5 71.6h0.8v0.8h-0.8zM410.9 69.9h0.8v0.8h-0.8zM410.5 56.9h0.8v0.8h-0.8zM400.0 40.8h0.8v0.8h-0.8zM397.8 49.4h0.8v0.8h-0.8zM401.4 56.0h0.8v0.8h-0.8zM411.7 47.7h0.8v0.8h-0.8zM404.5 53.7h0.8v0.8h-0.8zM402.7 45.5h0.8v0.8h-0.8zM400.9 38.1h0.8v0.8h-0.8zM402.3 47.7h0.8v0.8h-0.8zM402.9 37.7h0.8v0.8h-0.8zM401.7 48.6h0.8v0.8h-0.8zM404.2 35.2h0.8v0.8h-0.8zM403.4 59.8h0.8v0.8h-0.8zM404.2 43.6h0.8v0.8h-0.8zM399.3 45.2h0.8v0.8h-0.8zM404.8 66.6h0.8v0.8h-0.8zM400.8 40.3h0.8v0.8h-0.8zM403.2 50.5h0.8v0.8h-0.8zM397.4 39.2h0.8v0.8h-0.8zM401.0 56.1h0.8v0.8h-0.8zM396.1 35.8h0.8v0.8h-0.8zM403.7 33.3h0.8v0.8h-0.8zM402.0 52.2h0.8v0.8h-0.8zM401.0 35.8h0.8v0.8h-0.8zM401.2 44.0h0.8v0.8h-0.8zM403.0 37.9h0.8v0.8h-0.8zM406.4 27.9h0.8v0.8h-0.8zM400.7 48.1h0.8v0.8h-0.8zM405.8 40.7h0.8v0.8h-0.8zM404.0 41.2h0.8v0.8h-0.8zM404.8 68.8h0.8v0.8h-0.8zM399.7 53.3h0.8v0.8h-0.8zM397.3 59.7h0.8v0.8h-0.8zM406.9 48.4h0.8v0.8h-0.8zM396.4 52.8h0.8v0.8h-0.8zM406.7 61.1h0.8v0.8h-0.8zM405.2 26.0h0.8v0.8h-0.8zM398.4 65.1h0.8v0.8h-0.8zM396.0 61.6h0.8v0.8h-0.8zM410.0 57.1h0.8v0.8h-0.8zM406.5 44.0h0.8v0.8h-0.8z" fill="#222" opacity="1.0"/>
<path d="M409.63 58.61 L409.20 59.77 L408.63 60.90 L407.95 61.97 L407.21 62.99 L406.43 63.94 L405.63 64.81 L404.84 65.59 L404.07 66.29 L403.34 66.88 L402.65 67.35 L402.00 67.72 L401.40 67.95 L400.84 68.06 L400.31 68.04 L399.80 67.88 L399.31 67.58 L398.82 67.16 L398.34 66.60 L397.86 65.91 L397.37 65.10 L396.88 64.19 L396.41 63.18 L395.96 62.09 L395.55 60.93 L395.20 59.72 L394.93 58.48 L394.77 57.23 L394.77 55.99 L394.99 55.05 L395.29 54.14 L395.68 53.27 L396.16 52.45 L396.71 51.69 L397.32 51.01 L398.00 50.40 L398.74 49.87 L399.51 49.45 L400.32 49.12 L401.15 48.89 L402.00 48.77 L402.85 48.75 L403.69 48.85 L404.51 49.05 L405.31 49.35 L406.06 49.75 L406.76 50.25 L407.41 50.84 L408.00 51.51 L408.50 52.25 L408.93 53.05 L409.28 53.91 L409.54 54.81 L409.70 55.74 L409.77 56.70 L409.75 57.65Z" fill="#111"/>
<path d="M408.60 58.43 L408.24 59.43 L407.74 60.40 L407.16 61.33 L406.52 62.20 L405.84 63.02 L405.16 63.77 L404.48 64.45 L403.81 65.05 L403.18 65.55 L402.59 65.97 L402.03 66.28 L401.51 66.48 L401.02 66.58 L400.57 66.56 L400.13 66.42 L399.71 66.17 L399.29 65.80 L398.87 65.31 L398.45 64.72 L398.03 64.03 L397.62 63.24 L397.21 62.37 L396.82 61.43 L396.46 60.43 L396.16 59.39 L395.93 58.32 L395.80 57.24 L395.80 56.17 L395.98 55.36 L396.25 54.58 L396.58 53.83 L396.99 53.12 L397.46 52.47 L398.00 51.87 L398.58 51.35 L399.21 50.90 L399.88 50.53 L400.58 50.24 L401.30 50.05 L402.03 49.94 L402.76 49.93 L403.48 50.01 L404.19 50.18 L404.88 50.45 L405.53 50.79 L406.14 51.22 L406.69 51.73 L407.20 52.31 L407.63 52.95 L408.01 53.64 L408.30 54.38 L408.52 55.15 L408.67 55.96 L408.73 56.78 L408.70 57.61Z" fill="#fafafa"/>
<path d="M407.45 58.23 L407.15 59.05 L406.74 59.84 L406.27 60.60 L405.74 61.32 L405.19 61.99 L404.63 62.61 L404.07 63.16 L403.52 63.65 L403.00 64.07 L402.52 64.41 L402.06 64.66 L401.63 64.83 L401.24 64.91 L400.86 64.89 L400.50 64.78 L400.16 64.57 L399.81 64.27 L399.47 63.87 L399.13 63.39 L398.78 62.82 L398.44 62.17 L398.11 61.46 L397.79 60.69 L397.50 59.87 L397.25 59.01 L397.06 58.14 L396.95 57.25 L396.95 56.37 L397.10 55.71 L397.32 55.07 L397.59 54.45 L397.93 53.87 L398.32 53.34 L398.75 52.85 L399.23 52.42 L399.75 52.05 L400.30 51.75 L400.87 51.51 L401.46 51.35 L402.06 51.27 L402.66 51.26 L403.25 51.32 L403.83 51.47 L404.40 51.68 L404.93 51.97 L405.43 52.32 L405.88 52.73 L406.30 53.20 L406.66 53.73 L406.96 54.30 L407.21 54.90 L407.39 55.54 L407.50 56.20 L407.55 56.87 L407.53 57.55Z" fill="#c8c8c8" stroke="#888" stroke-width="0.5"/>
<path d="M406.52 57.84 L406.29 58.51 L405.96 59.15 L405.57 59.76 L405.15 60.34 L404.71 60.88 L404.25 61.37 L403.80 61.82 L403.36 62.21 L402.95 62.55 L402.55 62.82 L402.19 63.03 L401.84 63.16 L401.52 63.22 L401.22 63.21 L400.93 63.12 L400.66 62.95 L400.38 62.71 L400.10 62.39 L399.83 62.00 L399.55 61.54 L399.27 61.02 L399.00 60.45 L398.75 59.83 L398.51 59.17 L398.32 58.48 L398.16 57.77 L398.07 57.06 L398.08 56.36 L398.20 55.82 L398.37 55.30 L398.59 54.81 L398.86 54.34 L399.17 53.91 L399.53 53.52 L399.91 53.17 L400.33 52.88 L400.77 52.63 L401.23 52.44 L401.71 52.31 L402.19 52.25 L402.67 52.24 L403.15 52.29 L403.62 52.40 L404.07 52.58 L404.50 52.81 L404.90 53.09 L405.27 53.42 L405.60 53.80 L405.89 54.23 L406.13 54.68 L406.33 55.17 L406.47 55.68 L406.57 56.21 L406.61 56.76 L406.59 57.30Z" fill="#a0a0a0" stroke="#555" stroke-width="0.5"/>
<path d="M405.22 57.40 L405.06 57.84 L404.84 58.26 L404.58 58.67 L404.30 59.06 L404.00 59.42 L403.70 59.75 L403.40 60.05 L403.11 60.31 L402.83 60.53 L402.57 60.71 L402.32 60.85 L402.10 60.94 L401.88 60.98 L401.68 60.97 L401.49 60.91 L401.30 60.80 L401.12 60.64 L400.94 60.43 L400.75 60.17 L400.57 59.86 L400.38 59.51 L400.20 59.13 L400.03 58.72 L399.88 58.28 L399.74 57.82 L399.64 57.35 L399.58 56.87 L399.58 56.40 L399.66 56.05 L399.78 55.70 L399.93 55.37 L400.11 55.06 L400.32 54.77 L400.55 54.51 L400.81 54.28 L401.09 54.08 L401.38 53.92 L401.69 53.80 L402.00 53.71 L402.32 53.66 L402.65 53.66 L402.97 53.69 L403.28 53.77 L403.58 53.88 L403.86 54.04 L404.13 54.23 L404.38 54.45 L404.60 54.70 L404.79 54.98 L404.95 55.29 L405.09 55.61 L405.18 55.96 L405.25 56.31 L405.27 56.67 L405.26 57.03Z" fill="#6e6e6e"/>
<path d="M403.91 57.05 L403.83 57.27 L403.72 57.48 L403.59 57.69 L403.45 57.88 L403.30 58.06 L403.15 58.22 L403.00 58.37 L402.85 58.50 L402.72 58.62 L402.58 58.71 L402.46 58.78 L402.35 58.82 L402.24 58.84 L402.14 58.84 L402.04 58.81 L401.95 58.75 L401.86 58.67 L401.77 58.56 L401.68 58.43 L401.58 58.28 L401.49 58.11 L401.40 57.92 L401.32 57.71 L401.24 57.49 L401.17 57.26 L401.12 57.02 L401.09 56.79 L401.09 56.55 L401.13 56.37 L401.19 56.20 L401.26 56.04 L401.35 55.88 L401.46 55.74 L401.58 55.61 L401.70 55.49 L401.84 55.39 L401.99 55.31 L402.14 55.25 L402.30 55.20 L402.46 55.18 L402.62 55.18 L402.78 55.20 L402.94 55.23 L403.09 55.29 L403.23 55.37 L403.37 55.46 L403.49 55.57 L403.60 55.70 L403.70 55.84 L403.78 55.99 L403.84 56.16 L403.89 56.33 L403.92 56.50 L403.94 56.69 L403.93 56.87Z" fill="#333"/>
<text x="402.8" y="17.5" font-size="6.9" font-weight="bold" text-anchor="middle" fill="#000" >1.69</text>
<rect x="480" y="22.4" width="16" height="27.800000000000004" fill="none" stroke="#8a8a8a" stroke-width="0.75"/>
<path d="M485.1 41.4h0.8v0.8h-0.8zM488.9 26.5h0.8v0.8h-0.8zM487.3 49.5h0.8v0.8h-0.8zM489.9 30.6h0.8v0.8h-0.8zM488.6 35.3h0.8v0.8h-0.8zM488.5 30.4h0.8v0.8h-0.8zM487.6 45.0h0.8v0.8h-0.8zM488.1 43.1h0.8v0.8h-0.8zM484.2 42.7h0.8v0.8h-0.8zM488.5 30.6h0.8v0.8h-0.8zM487.0 47.9h0.8v0.8h-0.8zM488.3 31.4h0.8v0.8h-0.8zM486.1 41.0h0.8v0.8h-0.8zM488.8 31.4h0.8v0.8h-0.8zM489.9 39.1h0.8v0.8h-0.8zM489.7 47.8h0.8v0.8h-0.8zM486.1 32.2h0.8v0.8h-0.8zM487.3 32.8h0.8v0.8h-0.8zM489.5 47.2h0.8v0.8h-0.8zM487.2 39.5h0.8v0.8h-0.8zM484.8 47.4h0.8v0.8h-0.8zM486.7 49.1h0.8v0.8h-0.8zM486.4 46.3h0.8v0.8h-0.8zM489.5 37.5h0.8v0.8h-0.8zM491.8 39.8h0.8v0.8h-0.8zM486.6 48.6h0.8v0.8h-0.8zM487.8 47.0h0.8v0.8h-0.8zM487.2 41.5h0.8v0.8h-0.8zM488.8 49.3h0.8v0.8h-0.8zM487.4 39.5h0.8v0.8h-0.8zM485.7 43.8h0.8v0.8h-0.8zM490.5 29.2h0.8v0.8h-0.8zM487.6 39.7h0.8v0.8h-0.8zM488.7 32.0h0.8v0.8h-0.8zM488.1 49.5h0.8v0.8h-0.8zM482.2 43.8h0.8v0.8h-0.8zM491.1 46.9h0.8v0.8h-0.8zM487.0 27.4h0.8v0.8h-0.8zM487.2 43.9h0.8v0.8h-0.8zM491.3 35.9h0.8v0.8h-0.8zM490.5 42.0h0.8v0.8h-0.8zM487.2 35.3h0.8v0.8h-0.8zM482.8 41.6h0.8v0.8h-0.8zM490.3 36.3h0.8v0.8h-0.8zM487.7 36.8h0.8v0.8h-0.8zM486.7 43.0h0.8v0.8h-0.8zM485.0 49.3h0.8v0.8h-0.8zM487.8 40.5h0.8v0.8h-0.8zM488.5 41.8h0.8v0.8h-0.8zM489.5 31.7h0.8v0.8h-0.8zM486.9 36.5h0.8v0.8h-0.8zM489.3 35.1h0.8v0.8h-0.8zM485.8 30.0h0.8v0.8h-0.8zM486.4 43.3h0.8v0.8h-0.8zM486.8 42.6h0.8v0.8h-0.8zM486.2 45.2h0.8v0.8h-0.8zM485.1 40.3h0.8v0.8h-0.8zM487.0 40.5h0.8v0.8h-0.8zM488.3 36.9h0.8v0.8h-0.8zM489.4 41.4h0.8v0.8h-0.8zM487.8 38.6h0.8v0.8h-0.8zM488.0 37.9h0.8v0.8h-0.8zM487.4 47.8h0.8v0.8h-0.8zM490.6 41.0h0.8v0.8h-0.8zM490.0 36.2h0.8v0.8h-0.8zM487.2 46.3h0.8v0.8h-0.8zM492.0 32.6h0.8v0.8h-0.8zM489.7 39.9h0.8v0.8h-0.8zM487.7 28.9h0.8v0.8h-0.8zM489.1 45.6h0.8v0.8h-0.8zM489.5 30.9h0.8v0.8h-0.8zM493.4 45.7h0.8v0.8h-0.8zM487.8 32.5h0.8v0.8h-0.8zM489.4 44.5h0.8v0.8h-0.8zM490.1 43.4h0.8v0.8h-0.8zM484.5 41.5h0.8v0.8h-0.8zM487.2 45.7h0.8v0.8h-0.8zM484.2 40.6h0.8v0.8h-0.8zM485.9 46.5h0.8v0.8h-0.8zM485.0 31.5h0.8v0.8h-0.8zM491.5 47.9h0.8v0.8h-0.8zM487.8 42.9h0.8v0.8h-0.8zM490.6 41.1h0.8v0.8h-0.8zM487.4 39.4h0.8v0.8h-0.8zM489.7 46.5h0.8v0.8h-0.8zM486.1 38.5h0.8v0.8h-0.8zM484.6 40.2h0.8v0.8h-0.8zM489.1 36.4h0.8v0.8h-0.8zM486.1 38.8h0.8v0.8h-0.8zM487.6 37.2h0.8v0.8h-0.8zM489.0 46.5h0.8v0.8h-0.8zM485.9 40.0h0.8v0.8h-0.8zM488.3 33.4h0.8v0.8h-0.8zM488.9 42.7h0.8v0.8h-0.8zM492.0 42.8h0.8v0.8h-0.8zM490.6 37.2h0.8v0.8h-0.8zM490.5 47.5h0.8v0.8h-0.8zM484.5 34.0h0.8v0.8h-0.8zM488.3 39.6h0.8v0.8h-0.8zM489.0 28.2h0.8v0.8h-0.8zM482.7 42.5h0.8v0.8h-0.8zM487.4 46.3h0.8v0.8h-0.8zM490.5 41.9h0.8v0.8h-0.8zM487.8 41.5h0.8v0.8h-0.8zM485.8 44.7h0.8v0.8h-0.8zM489.0 43.0h0.8v0.8h-0.8zM491.1 37.9h0.8v0.8h-0.8zM486.7 41.7h0.8v0.8h-0.8zM487.7 30.5h0.8v0.8h-0.8zM489.3 42.4h0.8v0.8h-0.8z" fill="#333" opacity="1.0"/>
<path d="M479.6 59.4h0.8v0.8h-0.8zM491.5 62.7h0.8v0.8h-0.8zM481.8 66.6h0.8v0.8h-0.8zM490.7 63.9h0.8v0.8h-0.8zM479.8 62.3h0.8v0.8h-0.8zM488.7 67.8h0.8v0.8h-0.8zM494.4 62.7h0.8v0.8h-0.8zM485.1 63.8h0.8v0.8h-0.8zM491.8 59.3h0.8v0.8h-0.8zM492.2 50.3h0.8v0.8h-0.8zM490.2 60.6h0.8v0.8h-0.8zM488.8 67.4h0.8v0.8h-0.8zM482.3 63.6h0.8v0.8h-0.8zM488.0 66.9h0.8v0.8h-0.8zM483.3 59.0h0.8v0.8h-0.8zM486.2 62.9h0.8v0.8h-0.8zM481.0 68.6h0.8v0.8h-0.8zM484.9 71.2h0.8v0.8h-0.8zM490.4 64.1h0.8v0.8h-0.8zM489.9 58.4h0.8v0.8h-0.8zM485.7 61.1h0.8v0.8h-0.8zM481.9 64.1h0.8v0.8h-0.8zM486.4 71.2h0.8v0.8h-0.8zM483.3 61.7h0.8v0.8h-0.8zM488.7 66.0h0.8v0.8h-0.8zM487.1 61.6h0.8v0.8h-0.8zM489.0 65.8h0.8v0.8h-0.8zM479.6 62.7h0.8v0.8h-0.8zM481.5 58.1h0.8v0.8h-0.8zM487.6 64.3h0.8v0.8h-0.8zM487.5 59.6h0.8v0.8h-0.8zM486.2 59.4h0.8v0.8h-0.8zM488.5 67.4h0.8v0.8h-0.8zM494.0 70.3h0.8v0.8h-0.8zM483.8 61.7h0.8v0.8h-0.8zM483.2 65.5h0.8v0.8h-0.8zM494.9 67.5h0.8v0.8h-0.8zM478.2 57.7h0.8v0.8h-0.8zM481.8 66.6h0.8v0.8h-0.8zM487.0 65.5h0.8v0.8h-0.8zM494.1 59.9h0.8v0.8h-0.8zM483.6 73.8h0.8v0.8h-0.8zM488.4 60.1h0.8v0.8h-0.8zM478.9 56.4h0.8v0.8h-0.8zM487.2 69.0h0.8v0.8h-0.8zM486.4 60.5h0.8v0.8h-0.8zM484.0 73.5h0.8v0.8h-0.8zM479.9 64.9h0.8v0.8h-0.8zM487.1 67.1h0.8v0.8h-0.8zM485.4 66.5h0.8v0.8h-0.8zM490.3 63.3h0.8v0.8h-0.8zM485.2 63.1h0.8v0.8h-0.8zM483.1 63.0h0.8v0.8h-0.8zM485.8 65.1h0.8v0.8h-0.8zM492.3 70.5h0.8v0.8h-0.8zM485.2 67.0h0.8v0.8h-0.8zM488.2 67.8h0.8v0.8h-0.8zM487.1 65.3h0.8v0.8h-0.8zM485.1 60.1h0.8v0.8h-0.8zM490.5 70.5h0.8v0.8h-0.8zM489.6 66.2h0.8v0.8h-0.8zM488.1 61.7h0.8v0.8h-0.8zM479.9 67.3h0.8v0.8h-0.8zM487.8 61.2h0.8v0.8h-0.8zM483.1 70.4h0.8v0.8h-0.8zM479.8 72.8h0.8v0.8h-0.8zM484.1 63.9h0.8v0.8h-0.8zM485.0 64.8h0.8v0.8h-0.8zM486.2 60.3h0.8v0.8h-0.8zM491.3 60.1h0.8v0.8h-0.8zM485.0 66.8h0.8v0.8h-0.8zM484.8 61.8h0.8v0.8h-0.8zM488.4 62.2h0.8v0.8h-0.8zM482.0 63.5h0.8v0.8h-0.8zM486.1 72.5h0.8v0.8h-0.8zM482.6 68.8h0.8v0.8h-0.8zM483.9 62.2h0.8v0.8h-0.8zM485.7 65.4h0.8v0.8h-0.8zM490.5 72.7h0.8v0.8h-0.8zM484.5 70.6h0.8v0.8h-0.8z" fill="#222" opacity="1.0"/>
<path d="M493.30 56.60 L493.12 58.22 L492.81 59.83 L492.41 61.39 L491.95 62.89 L491.44 64.31 L490.91 65.64 L490.38 66.85 L489.84 67.94 L489.33 68.88 L488.83 69.66 L488.35 70.29 L487.89 70.74 L487.44 71.01 L487.00 71.10 L486.56 71.01 L486.11 70.74 L485.65 70.29 L485.17 69.66 L484.67 68.88 L484.16 67.94 L483.62 66.85 L483.09 65.64 L482.56 64.31 L482.05 62.89 L481.59 61.39 L481.19 59.83 L480.88 58.22 L480.70 56.60 L480.74 56.00 L480.86 55.40 L481.05 54.82 L481.32 54.26 L481.67 53.73 L482.07 53.23 L482.55 52.78 L483.07 52.38 L483.65 52.03 L484.27 51.73 L484.92 51.50 L485.60 51.34 L486.29 51.23 L487.00 51.20 L487.71 51.23 L488.40 51.34 L489.08 51.50 L489.73 51.73 L490.35 52.03 L490.93 52.38 L491.45 52.78 L491.93 53.23 L492.33 53.73 L492.68 54.26 L492.95 54.82 L493.14 55.40 L493.26 56.00Z" fill="#1a1a1a"/>
<path d="M492.54 56.60 L492.39 58.03 L492.11 59.44 L491.76 60.81 L491.35 62.14 L490.91 63.39 L490.44 64.56 L489.97 65.62 L489.50 66.58 L489.05 67.40 L488.61 68.10 L488.19 68.64 L487.78 69.04 L487.39 69.28 L487.00 69.36 L486.61 69.28 L486.22 69.04 L485.81 68.64 L485.39 68.10 L484.95 67.40 L484.50 66.58 L484.03 65.62 L483.56 64.56 L483.09 63.39 L482.65 62.14 L482.24 60.81 L481.89 59.44 L481.61 58.03 L481.46 56.60 L481.49 56.07 L481.59 55.54 L481.77 55.03 L482.01 54.54 L482.31 54.07 L482.67 53.64 L483.08 53.24 L483.54 52.88 L484.05 52.58 L484.59 52.32 L485.17 52.11 L485.77 51.97 L486.38 51.88 L487.00 51.85 L487.62 51.88 L488.23 51.97 L488.83 52.11 L489.41 52.32 L489.95 52.58 L490.46 52.88 L490.92 53.24 L491.33 53.64 L491.69 54.07 L491.99 54.54 L492.23 55.03 L492.41 55.54 L492.51 56.07Z" fill="#f2f2f2"/>
<path d="M491.91 56.60 L491.78 57.87 L491.53 59.12 L491.22 60.34 L490.86 61.51 L490.46 62.62 L490.05 63.65 L489.63 64.60 L489.22 65.44 L488.81 66.18 L488.42 66.79 L488.05 67.28 L487.69 67.63 L487.34 67.84 L487.00 67.91 L486.66 67.84 L486.31 67.63 L485.95 67.28 L485.58 66.79 L485.19 66.18 L484.78 65.44 L484.37 64.60 L483.95 63.65 L483.54 62.62 L483.14 61.51 L482.78 60.34 L482.47 59.12 L482.22 57.87 L482.09 56.60 L482.12 56.13 L482.21 55.66 L482.36 55.21 L482.57 54.77 L482.84 54.36 L483.16 53.97 L483.53 53.62 L483.94 53.31 L484.39 53.03 L484.87 52.81 L485.38 52.62 L485.91 52.49 L486.45 52.41 L487.00 52.39 L487.55 52.41 L488.09 52.49 L488.62 52.62 L489.13 52.81 L489.61 53.03 L490.06 53.31 L490.47 53.62 L490.84 53.97 L491.16 54.36 L491.43 54.77 L491.64 55.21 L491.79 55.66 L491.88 56.13Z" fill="#c8c8c8" stroke="#888" stroke-width="0.5"/>
<path d="M490.95 56.30 L490.85 57.24 L490.67 58.17 L490.44 59.08 L490.17 59.95 L489.88 60.77 L489.57 61.54 L489.26 62.25 L488.95 62.88 L488.65 63.42 L488.36 63.88 L488.08 64.24 L487.81 64.50 L487.55 64.66 L487.30 64.71 L487.05 64.66 L486.79 64.50 L486.52 64.24 L486.24 63.88 L485.95 63.42 L485.65 62.88 L485.34 62.25 L485.03 61.54 L484.72 60.77 L484.43 59.95 L484.16 59.08 L483.93 58.17 L483.75 57.24 L483.65 56.30 L483.67 55.95 L483.74 55.60 L483.85 55.27 L484.01 54.94 L484.21 54.63 L484.44 54.35 L484.72 54.09 L485.02 53.85 L485.36 53.65 L485.71 53.48 L486.09 53.34 L486.49 53.25 L486.89 53.19 L487.30 53.17 L487.71 53.19 L488.11 53.25 L488.51 53.34 L488.89 53.48 L489.24 53.65 L489.58 53.85 L489.88 54.09 L490.16 54.35 L490.39 54.63 L490.59 54.94 L490.75 55.27 L490.86 55.60 L490.93 55.95Z" fill="#8a8a8a" stroke="#555" stroke-width="0.4"/>
<path d="M489.79 55.90 L489.73 56.52 L489.61 57.13 L489.46 57.72 L489.28 58.29 L489.09 58.83 L488.89 59.34 L488.68 59.80 L488.48 60.21 L488.28 60.57 L488.09 60.86 L487.91 61.10 L487.74 61.27 L487.57 61.38 L487.40 61.41 L487.23 61.38 L487.06 61.27 L486.89 61.10 L486.71 60.86 L486.52 60.57 L486.32 60.21 L486.12 59.80 L485.91 59.34 L485.71 58.83 L485.52 58.29 L485.34 57.72 L485.19 57.13 L485.07 56.52 L485.01 55.90 L485.02 55.67 L485.07 55.44 L485.14 55.22 L485.24 55.01 L485.37 54.81 L485.53 54.62 L485.71 54.45 L485.91 54.30 L486.13 54.16 L486.36 54.05 L486.61 53.96 L486.87 53.90 L487.13 53.86 L487.40 53.85 L487.67 53.86 L487.93 53.90 L488.19 53.96 L488.44 54.05 L488.67 54.16 L488.89 54.30 L489.09 54.45 L489.27 54.62 L489.43 54.81 L489.56 55.01 L489.66 55.22 L489.73 55.44 L489.78 55.67Z" fill="#222"/>
<text x="488.0" y="19.1" font-size="6.9" font-weight="bold" text-anchor="middle" fill="#000" >1.31</text>
<rect x="312.6" y="97.9" width="15.599999999999966" height="28.69999999999999" fill="none" stroke="#8a8a8a" stroke-width="0.75"/>
<path d="M318.5 109.8h0.9v0.9h-0.9zM320.5 106.1h0.9v0.9h-0.9zM317.1 107.6h0.9v0.9h-0.9zM314.6 123.3h0.9v0.9h-0.9zM319.3 100.8h0.9v0.9h-0.9zM321.9 117.8h0.9v0.9h-0.9zM317.8 122.9h0.9v0.9h-0.9zM321.2 124.6h0.9v0.9h-0.9zM320.7 101.1h0.9v0.9h-0.9zM321.4 110.3h0.9v0.9h-0.9zM321.8 117.2h0.9v0.9h-0.9zM319.0 106.9h0.9v0.9h-0.9zM323.2 109.4h0.9v0.9h-0.9zM319.1 101.2h0.9v0.9h-0.9zM320.0 101.3h0.9v0.9h-0.9zM318.2 124.7h0.9v0.9h-0.9zM317.0 118.8h0.9v0.9h-0.9zM319.1 102.4h0.9v0.9h-0.9zM318.4 125.1h0.9v0.9h-0.9zM317.7 112.2h0.9v0.9h-0.9zM315.8 111.6h0.9v0.9h-0.9zM321.4 101.2h0.9v0.9h-0.9zM316.1 107.1h0.9v0.9h-0.9zM318.5 106.7h0.9v0.9h-0.9zM320.5 111.1h0.9v0.9h-0.9zM322.7 118.1h0.9v0.9h-0.9zM315.6 113.9h0.9v0.9h-0.9zM321.8 123.9h0.9v0.9h-0.9zM320.8 109.0h0.9v0.9h-0.9zM318.6 118.0h0.9v0.9h-0.9zM320.6 120.7h0.9v0.9h-0.9zM321.3 105.6h0.9v0.9h-0.9zM319.5 105.3h0.9v0.9h-0.9zM321.1 112.7h0.9v0.9h-0.9zM323.8 101.9h0.9v0.9h-0.9zM319.0 119.4h0.9v0.9h-0.9zM318.6 102.9h0.9v0.9h-0.9zM321.3 100.2h0.9v0.9h-0.9zM323.0 116.9h0.9v0.9h-0.9zM321.0 103.7h0.9v0.9h-0.9zM319.5 122.7h0.9v0.9h-0.9zM315.9 125.0h0.9v0.9h-0.9zM319.9 122.4h0.9v0.9h-0.9zM322.8 108.6h0.9v0.9h-0.9zM320.6 110.0h0.9v0.9h-0.9zM320.7 117.0h0.9v0.9h-0.9zM323.0 124.4h0.9v0.9h-0.9zM320.0 108.1h0.9v0.9h-0.9zM321.3 118.6h0.9v0.9h-0.9zM319.9 101.1h0.9v0.9h-0.9zM324.6 119.5h0.9v0.9h-0.9zM317.4 111.5h0.9v0.9h-0.9zM318.4 113.9h0.9v0.9h-0.9zM321.4 122.3h0.9v0.9h-0.9zM318.1 108.0h0.9v0.9h-0.9zM320.7 102.3h0.9v0.9h-0.9zM324.8 126.2h0.9v0.9h-0.9zM319.1 116.7h0.9v0.9h-0.9zM318.5 118.3h0.9v0.9h-0.9zM317.9 113.0h0.9v0.9h-0.9zM320.3 109.3h0.9v0.9h-0.9zM322.6 112.1h0.9v0.9h-0.9zM318.4 110.0h0.9v0.9h-0.9zM319.6 110.7h0.9v0.9h-0.9zM318.8 124.0h0.9v0.9h-0.9zM319.3 102.6h0.9v0.9h-0.9zM318.7 113.2h0.9v0.9h-0.9zM319.6 113.9h0.9v0.9h-0.9zM321.7 111.0h0.9v0.9h-0.9zM317.7 119.3h0.9v0.9h-0.9zM318.8 104.6h0.9v0.9h-0.9zM322.8 120.9h0.9v0.9h-0.9zM320.5 110.1h0.9v0.9h-0.9zM319.3 105.8h0.9v0.9h-0.9zM322.1 116.8h0.9v0.9h-0.9zM321.1 124.8h0.9v0.9h-0.9zM317.8 120.6h0.9v0.9h-0.9zM318.5 103.3h0.9v0.9h-0.9zM319.4 101.2h0.9v0.9h-0.9zM320.3 114.8h0.9v0.9h-0.9zM319.0 106.9h0.9v0.9h-0.9zM318.9 122.6h0.9v0.9h-0.9zM320.2 121.6h0.9v0.9h-0.9zM319.4 107.8h0.9v0.9h-0.9zM323.3 114.5h0.9v0.9h-0.9zM322.5 125.6h0.9v0.9h-0.9zM322.5 123.6h0.9v0.9h-0.9zM320.9 104.9h0.9v0.9h-0.9zM321.0 104.3h0.9v0.9h-0.9zM319.2 123.6h0.9v0.9h-0.9zM321.6 124.1h0.9v0.9h-0.9zM319.0 104.6h0.9v0.9h-0.9zM319.2 109.5h0.9v0.9h-0.9zM321.8 109.0h0.9v0.9h-0.9zM320.0 103.9h0.9v0.9h-0.9zM318.8 107.4h0.9v0.9h-0.9zM318.6 125.8h0.9v0.9h-0.9zM320.6 115.1h0.9v0.9h-0.9zM316.9 117.1h0.9v0.9h-0.9zM324.1 121.5h0.9v0.9h-0.9zM318.1 120.6h0.9v0.9h-0.9zM318.3 117.2h0.9v0.9h-0.9zM320.3 109.1h0.9v0.9h-0.9zM319.0 113.0h0.9v0.9h-0.9zM321.2 103.7h0.9v0.9h-0.9zM317.7 112.2h0.9v0.9h-0.9zM320.7 101.8h0.9v0.9h-0.9zM314.7 119.6h0.9v0.9h-0.9zM324.0 115.8h0.9v0.9h-0.9zM322.0 115.7h0.9v0.9h-0.9zM317.2 123.4h0.9v0.9h-0.9zM319.7 124.3h0.9v0.9h-0.9zM320.1 107.2h0.9v0.9h-0.9zM320.8 110.8h0.9v0.9h-0.9zM318.4 105.3h0.9v0.9h-0.9zM323.5 116.2h0.9v0.9h-0.9zM319.1 103.7h0.9v0.9h-0.9zM316.2 123.6h0.9v0.9h-0.9zM322.1 120.2h0.9v0.9h-0.9zM319.6 118.3h0.9v0.9h-0.9zM320.3 116.9h0.9v0.9h-0.9zM319.9 116.1h0.9v0.9h-0.9zM320.4 115.2h0.9v0.9h-0.9zM319.7 116.6h0.9v0.9h-0.9zM320.4 103.9h0.9v0.9h-0.9zM317.2 122.0h0.9v0.9h-0.9zM318.5 117.7h0.9v0.9h-0.9zM319.8 120.0h0.9v0.9h-0.9zM317.2 108.3h0.9v0.9h-0.9zM319.6 112.2h0.9v0.9h-0.9zM319.8 100.2h0.9v0.9h-0.9zM315.1 120.9h0.9v0.9h-0.9zM322.1 102.4h0.9v0.9h-0.9zM318.5 101.6h0.9v0.9h-0.9zM323.7 109.9h0.9v0.9h-0.9zM321.3 119.9h0.9v0.9h-0.9zM320.5 106.5h0.9v0.9h-0.9zM317.8 117.2h0.9v0.9h-0.9zM320.6 124.4h0.9v0.9h-0.9zM319.3 101.8h0.9v0.9h-0.9zM319.4 115.2h0.9v0.9h-0.9zM318.6 125.5h0.9v0.9h-0.9zM321.5 111.7h0.9v0.9h-0.9zM318.7 120.5h0.9v0.9h-0.9zM319.9 115.4h0.9v0.9h-0.9zM319.5 123.5h0.9v0.9h-0.9zM318.8 109.0h0.9v0.9h-0.9zM319.2 104.4h0.9v0.9h-0.9zM321.0 123.8h0.9v0.9h-0.9zM320.6 109.7h0.9v0.9h-0.9zM320.2 103.0h0.9v0.9h-0.9zM319.3 119.9h0.9v0.9h-0.9zM321.8 118.4h0.9v0.9h-0.9zM317.9 123.8h0.9v0.9h-0.9zM320.6 106.3h0.9v0.9h-0.9zM320.4 106.3h0.9v0.9h-0.9zM321.0 100.5h0.9v0.9h-0.9zM319.3 113.2h0.9v0.9h-0.9zM319.7 104.8h0.9v0.9h-0.9zM318.5 103.0h0.9v0.9h-0.9zM318.9 124.8h0.9v0.9h-0.9zM319.0 119.7h0.9v0.9h-0.9zM320.4 107.1h0.9v0.9h-0.9zM319.9 115.0h0.9v0.9h-0.9zM318.3 118.6h0.9v0.9h-0.9zM319.2 110.8h0.9v0.9h-0.9zM319.7 110.4h0.9v0.9h-0.9zM319.3 116.5h0.9v0.9h-0.9zM322.1 105.4h0.9v0.9h-0.9zM317.5 101.3h0.9v0.9h-0.9zM318.1 117.4h0.9v0.9h-0.9zM320.0 120.1h0.9v0.9h-0.9zM321.6 116.0h0.9v0.9h-0.9zM317.9 110.2h0.9v0.9h-0.9zM317.7 114.2h0.9v0.9h-0.9zM322.6 114.7h0.9v0.9h-0.9zM321.5 107.2h0.9v0.9h-0.9zM317.7 112.9h0.9v0.9h-0.9zM316.7 125.0h0.9v0.9h-0.9zM319.5 106.4h0.9v0.9h-0.9zM317.7 112.4h0.9v0.9h-0.9zM318.6 101.2h0.9v0.9h-0.9zM321.1 122.1h0.9v0.9h-0.9zM320.8 109.6h0.9v0.9h-0.9zM321.6 112.2h0.9v0.9h-0.9zM319.9 112.1h0.9v0.9h-0.9zM322.2 120.5h0.9v0.9h-0.9zM321.4 106.4h0.9v0.9h-0.9zM321.2 110.3h0.9v0.9h-0.9zM319.8 104.8h0.9v0.9h-0.9z" fill="#222" opacity="1"/>
<path d="M318.4 137.1h0.8v0.8h-0.8zM317.7 144.3h0.8v0.8h-0.8zM319.8 139.1h0.8v0.8h-0.8zM314.1 133.5h0.8v0.8h-0.8zM320.2 146.0h0.8v0.8h-0.8zM320.4 134.3h0.8v0.8h-0.8zM318.2 142.1h0.8v0.8h-0.8zM315.6 142.7h0.8v0.8h-0.8zM318.3 136.9h0.8v0.8h-0.8zM314.4 145.0h0.8v0.8h-0.8zM320.3 136.7h0.8v0.8h-0.8zM315.2 145.3h0.8v0.8h-0.8zM321.2 139.5h0.8v0.8h-0.8zM324.9 139.6h0.8v0.8h-0.8zM315.1 146.3h0.8v0.8h-0.8zM318.3 142.7h0.8v0.8h-0.8zM319.1 136.1h0.8v0.8h-0.8zM314.6 140.1h0.8v0.8h-0.8zM324.2 136.1h0.8v0.8h-0.8zM324.0 142.1h0.8v0.8h-0.8zM314.9 142.3h0.8v0.8h-0.8zM321.1 136.6h0.8v0.8h-0.8zM311.1 142.7h0.8v0.8h-0.8zM314.9 143.1h0.8v0.8h-0.8zM311.9 140.3h0.8v0.8h-0.8zM316.0 133.8h0.8v0.8h-0.8zM318.1 141.8h0.8v0.8h-0.8zM316.9 135.3h0.8v0.8h-0.8zM319.8 132.5h0.8v0.8h-0.8zM321.0 143.4h0.8v0.8h-0.8zM325.2 145.3h0.8v0.8h-0.8zM320.3 142.3h0.8v0.8h-0.8zM319.1 134.6h0.8v0.8h-0.8zM324.4 143.6h0.8v0.8h-0.8zM317.9 135.4h0.8v0.8h-0.8zM324.5 143.6h0.8v0.8h-0.8zM314.6 144.3h0.8v0.8h-0.8zM326.0 140.9h0.8v0.8h-0.8zM320.5 139.0h0.8v0.8h-0.8zM316.7 146.2h0.8v0.8h-0.8zM330.4 141.6h0.8v0.8h-0.8zM318.5 144.9h0.8v0.8h-0.8zM317.9 144.5h0.8v0.8h-0.8zM322.1 136.1h0.8v0.8h-0.8zM315.0 140.6h0.8v0.8h-0.8zM322.1 142.3h0.8v0.8h-0.8zM323.6 134.3h0.8v0.8h-0.8zM320.8 138.0h0.8v0.8h-0.8zM319.4 142.6h0.8v0.8h-0.8zM315.4 139.9h0.8v0.8h-0.8zM314.7 142.3h0.8v0.8h-0.8zM315.9 138.6h0.8v0.8h-0.8zM319.8 137.8h0.8v0.8h-0.8zM323.2 137.9h0.8v0.8h-0.8zM322.1 142.4h0.8v0.8h-0.8zM315.2 139.9h0.8v0.8h-0.8zM315.9 139.2h0.8v0.8h-0.8zM318.0 149.8h0.8v0.8h-0.8zM317.5 148.6h0.8v0.8h-0.8zM320.6 134.7h0.8v0.8h-0.8zM310.5 144.3h0.8v0.8h-0.8zM311.7 144.5h0.8v0.8h-0.8zM322.8 142.9h0.8v0.8h-0.8zM318.2 139.8h0.8v0.8h-0.8zM320.0 139.5h0.8v0.8h-0.8zM317.0 139.2h0.8v0.8h-0.8zM323.3 138.0h0.8v0.8h-0.8zM320.4 135.4h0.8v0.8h-0.8zM316.4 134.3h0.8v0.8h-0.8zM318.3 144.3h0.8v0.8h-0.8zM320.1 138.6h0.8v0.8h-0.8zM321.3 139.3h0.8v0.8h-0.8zM320.4 142.3h0.8v0.8h-0.8zM321.0 129.0h0.8v0.8h-0.8zM314.2 144.7h0.8v0.8h-0.8zM318.6 151.9h0.8v0.8h-0.8zM318.1 138.3h0.8v0.8h-0.8zM324.5 143.7h0.8v0.8h-0.8zM326.0 143.5h0.8v0.8h-0.8zM318.3 144.5h0.8v0.8h-0.8z" fill="#333" opacity="1.0"/>
<path d="M326.17 132.94 L325.83 134.48 L325.33 135.98 L324.73 137.43 L324.06 138.81 L323.35 140.12 L322.62 141.33 L321.89 142.44 L321.18 143.42 L320.50 144.26 L319.85 144.96 L319.23 145.51 L318.66 145.89 L318.11 146.11 L317.59 146.15 L317.08 146.02 L316.58 145.71 L316.08 145.23 L315.57 144.59 L315.05 143.79 L314.52 142.83 L313.99 141.75 L313.47 140.53 L312.96 139.21 L312.48 137.80 L312.07 136.32 L311.73 134.79 L311.50 133.22 L311.43 131.66 L311.54 130.90 L311.74 130.16 L312.04 129.45 L312.42 128.78 L312.87 128.15 L313.41 127.57 L314.01 127.05 L314.67 126.60 L315.38 126.22 L316.14 125.92 L316.92 125.69 L317.74 125.55 L318.56 125.50 L319.39 125.53 L320.21 125.64 L321.02 125.84 L321.79 126.12 L322.53 126.48 L323.22 126.91 L323.86 127.41 L324.43 127.97 L324.93 128.58 L325.36 129.24 L325.70 129.94 L325.95 130.67 L326.12 131.42 L326.19 132.18Z" fill="#fff" stroke="#666" stroke-width="0.6"/>
<path d="M325.29 132.87 L324.98 134.22 L324.55 135.54 L324.02 136.81 L323.43 138.03 L322.81 139.18 L322.16 140.25 L321.52 141.22 L320.90 142.08 L320.29 142.83 L319.72 143.44 L319.18 143.92 L318.67 144.26 L318.19 144.45 L317.73 144.49 L317.29 144.37 L316.85 144.10 L316.41 143.68 L315.96 143.11 L315.50 142.41 L315.04 141.57 L314.57 140.61 L314.11 139.55 L313.66 138.38 L313.24 137.14 L312.88 135.84 L312.58 134.49 L312.38 133.11 L312.31 131.73 L312.41 131.07 L312.59 130.42 L312.85 129.80 L313.18 129.20 L313.58 128.65 L314.05 128.14 L314.58 127.68 L315.16 127.29 L315.79 126.95 L316.46 126.68 L317.15 126.49 L317.86 126.36 L318.59 126.31 L319.32 126.34 L320.04 126.44 L320.75 126.61 L321.43 126.86 L322.08 127.18 L322.69 127.55 L323.25 127.99 L323.76 128.49 L324.20 129.03 L324.57 129.61 L324.87 130.22 L325.10 130.87 L325.24 131.53 L325.30 132.20Z" fill="#f0f0f0" stroke="#888" stroke-width="0.5"/>
<path d="M324.40 132.79 L324.14 133.95 L323.76 135.09 L323.31 136.20 L322.80 137.25 L322.26 138.24 L321.71 139.17 L321.15 140.00 L320.61 140.75 L320.09 141.39 L319.59 141.92 L319.13 142.34 L318.69 142.63 L318.28 142.79 L317.88 142.82 L317.49 142.72 L317.11 142.49 L316.73 142.13 L316.35 141.64 L315.95 141.03 L315.55 140.31 L315.15 139.48 L314.75 138.56 L314.36 137.55 L314.00 136.48 L313.68 135.35 L313.43 134.19 L313.25 133.00 L313.20 131.81 L313.28 131.24 L313.44 130.68 L313.66 130.14 L313.95 129.62 L314.30 129.15 L314.70 128.71 L315.16 128.31 L315.66 127.97 L316.20 127.68 L316.77 127.45 L317.37 127.28 L317.99 127.17 L318.62 127.13 L319.25 127.15 L319.87 127.24 L320.49 127.39 L321.08 127.60 L321.64 127.87 L322.16 128.20 L322.65 128.58 L323.08 129.01 L323.46 129.47 L323.78 129.98 L324.04 130.51 L324.24 131.06 L324.36 131.63 L324.42 132.21Z" fill="#d8d8d8" stroke="#777" stroke-width="0.5"/>
<path d="M323.67 133.20 L323.46 134.15 L323.15 135.08 L322.78 135.98 L322.36 136.84 L321.92 137.65 L321.47 138.40 L321.02 139.08 L320.58 139.69 L320.15 140.22 L319.75 140.65 L319.37 140.99 L319.01 141.23 L318.67 141.36 L318.35 141.39 L318.03 141.30 L317.72 141.11 L317.41 140.82 L317.10 140.42 L316.78 139.92 L316.45 139.33 L316.12 138.66 L315.79 137.90 L315.48 137.09 L315.18 136.21 L314.93 135.29 L314.72 134.34 L314.57 133.37 L314.53 132.40 L314.60 131.93 L314.73 131.48 L314.91 131.04 L315.14 130.62 L315.43 130.23 L315.76 129.87 L316.13 129.55 L316.54 129.27 L316.98 129.03 L317.45 128.84 L317.94 128.70 L318.44 128.62 L318.95 128.58 L319.47 128.60 L319.98 128.67 L320.48 128.79 L320.96 128.97 L321.41 129.19 L321.84 129.46 L322.24 129.77 L322.59 130.11 L322.90 130.49 L323.17 130.90 L323.38 131.34 L323.54 131.79 L323.64 132.26 L323.68 132.73Z" fill="#8a8a8a"/>
<path d="M322.99 133.42 L322.81 134.19 L322.57 134.94 L322.27 135.66 L321.93 136.36 L321.58 137.01 L321.21 137.62 L320.85 138.17 L320.49 138.66 L320.15 139.08 L319.82 139.43 L319.52 139.70 L319.23 139.90 L318.96 140.00 L318.69 140.02 L318.44 139.96 L318.19 139.80 L317.94 139.57 L317.69 139.24 L317.43 138.84 L317.16 138.37 L316.90 137.82 L316.63 137.22 L316.38 136.56 L316.14 135.85 L315.93 135.11 L315.77 134.34 L315.65 133.56 L315.61 132.78 L315.67 132.40 L315.77 132.03 L315.92 131.68 L316.11 131.34 L316.34 131.02 L316.60 130.74 L316.90 130.48 L317.23 130.25 L317.59 130.06 L317.97 129.91 L318.36 129.80 L318.77 129.73 L319.18 129.70 L319.60 129.71 L320.01 129.77 L320.41 129.87 L320.80 130.01 L321.17 130.19 L321.51 130.40 L321.83 130.65 L322.12 130.93 L322.37 131.24 L322.58 131.57 L322.75 131.92 L322.88 132.29 L322.96 132.66 L323.00 133.04Z" fill="#2e2e2e"/>
<path d="M320.77 133.23 L320.71 133.54 L320.61 133.84 L320.49 134.13 L320.35 134.40 L320.21 134.66 L320.06 134.91 L319.92 135.13 L319.78 135.32 L319.64 135.49 L319.51 135.63 L319.39 135.74 L319.27 135.82 L319.16 135.86 L319.06 135.87 L318.96 135.84 L318.86 135.78 L318.76 135.69 L318.65 135.56 L318.55 135.40 L318.44 135.21 L318.34 134.99 L318.23 134.75 L318.13 134.48 L318.04 134.20 L317.95 133.90 L317.89 133.60 L317.84 133.28 L317.83 132.97 L317.85 132.82 L317.89 132.67 L317.95 132.53 L318.02 132.40 L318.11 132.27 L318.22 132.15 L318.34 132.05 L318.47 131.96 L318.62 131.88 L318.77 131.82 L318.92 131.78 L319.09 131.75 L319.25 131.74 L319.42 131.75 L319.58 131.77 L319.74 131.81 L319.90 131.86 L320.05 131.94 L320.18 132.02 L320.31 132.12 L320.43 132.23 L320.53 132.36 L320.61 132.49 L320.68 132.63 L320.73 132.77 L320.76 132.92 L320.78 133.08Z" fill="#808080"/>
<text x="319.7" y="93.7" font-size="6.9" font-weight="bold" text-anchor="middle" fill="#000" >4.19</text>
<rect x="396.0" y="96.2" width="14.800000000000011" height="30.599999999999994" fill="none" stroke="#8a8a8a" stroke-width="0.75"/>
<path d="M405.0 98.0h1.0v1.0h-1.0zM400.0 99.0h1.0v1.0h-1.0zM400.0 100.0h1.0v1.0h-1.0zM399.0 102.0h1.0v1.0h-1.0zM406.0 102.0h1.0v1.0h-1.0zM406.0 103.0h1.0v1.0h-1.0zM398.0 105.0h1.0v1.0h-1.0zM407.0 105.0h1.0v1.0h-1.0zM407.0 106.0h1.0v1.0h-1.0zM397.0 109.0h1.0v1.0h-1.0zM408.0 112.0h1.0v1.0h-1.0zM408.0 113.0h1.0v1.0h-1.0zM395.0 120.0h1.0v1.0h-1.0zM409.0 122.0h1.0v1.0h-1.0zM409.0 124.0h1.0v1.0h-1.0zM409.0 136.0h1.0v1.0h-1.0zM409.0 137.0h1.0v1.0h-1.0zM392.0 139.0h1.0v1.0h-1.0zM409.0 139.0h1.0v1.0h-1.0zM409.0 140.0h1.0v1.0h-1.0zM409.0 141.0h1.0v1.0h-1.0zM394.0 145.0h1.0v1.0h-1.0zM406.0 147.0h1.0v1.0h-1.0z" fill="rgb(234,234,234)"/>
<path d="M402.0 98.0h1.0v1.0h-1.0zM404.0 98.0h1.0v1.0h-1.0zM402.0 99.0h1.0v1.0h-1.0zM405.0 99.0h1.0v1.0h-1.0zM405.0 100.0h1.0v1.0h-1.0zM398.0 106.0h1.0v1.0h-1.0zM398.0 107.0h1.0v1.0h-1.0zM407.0 108.0h1.0v1.0h-1.0zM397.0 110.0h1.0v1.0h-1.0zM397.0 111.0h1.0v1.0h-1.0zM397.0 112.0h1.0v1.0h-1.0zM408.0 114.0h1.0v1.0h-1.0zM396.0 115.0h1.0v1.0h-1.0zM408.0 116.0h1.0v1.0h-1.0zM395.0 122.0h1.0v1.0h-1.0zM409.0 123.0h1.0v1.0h-1.0zM394.0 124.0h1.0v1.0h-1.0zM393.0 127.0h1.0v1.0h-1.0zM393.0 131.0h1.0v1.0h-1.0zM409.0 132.0h1.0v1.0h-1.0zM409.0 138.0h1.0v1.0h-1.0zM408.0 143.0h1.0v1.0h-1.0zM407.0 145.0h1.0v1.0h-1.0zM405.0 148.0h1.0v1.0h-1.0z" fill="rgb(212,212,212)"/>
<path d="M401.0 98.0h1.0v1.0h-1.0zM403.0 98.0h1.0v1.0h-1.0zM403.0 100.0h1.0v1.0h-1.0zM400.0 101.0h1.0v1.0h-1.0zM404.0 101.0h1.0v1.0h-1.0zM399.0 103.0h1.0v1.0h-1.0zM400.0 103.0h1.0v1.0h-1.0zM405.0 103.0h1.0v1.0h-1.0zM399.0 104.0h1.0v1.0h-1.0zM404.0 104.0h1.0v1.0h-1.0zM406.0 105.0h1.0v1.0h-1.0zM406.0 106.0h1.0v1.0h-1.0zM407.0 107.0h1.0v1.0h-1.0zM407.0 110.0h1.0v1.0h-1.0zM397.0 113.0h1.0v1.0h-1.0zM408.0 115.0h1.0v1.0h-1.0zM396.0 116.0h1.0v1.0h-1.0zM408.0 117.0h1.0v1.0h-1.0zM396.0 119.0h1.0v1.0h-1.0zM395.0 121.0h1.0v1.0h-1.0zM394.0 125.0h1.0v1.0h-1.0zM409.0 125.0h1.0v1.0h-1.0zM409.0 126.0h1.0v1.0h-1.0zM393.0 128.0h1.0v1.0h-1.0zM409.0 128.0h1.0v1.0h-1.0zM393.0 129.0h1.0v1.0h-1.0zM393.0 133.0h1.0v1.0h-1.0zM409.0 133.0h1.0v1.0h-1.0zM409.0 134.0h1.0v1.0h-1.0zM393.0 135.0h1.0v1.0h-1.0zM409.0 135.0h1.0v1.0h-1.0zM393.0 141.0h1.0v1.0h-1.0zM393.0 142.0h1.0v1.0h-1.0zM394.0 144.0h1.0v1.0h-1.0zM395.0 146.0h1.0v1.0h-1.0zM396.0 148.0h1.0v1.0h-1.0z" fill="rgb(191,191,191)"/>
<path d="M401.0 99.0h1.0v1.0h-1.0zM403.0 99.0h1.0v1.0h-1.0zM401.0 100.0h1.0v1.0h-1.0zM402.0 100.0h1.0v1.0h-1.0zM404.0 100.0h1.0v1.0h-1.0zM402.0 101.0h1.0v1.0h-1.0zM403.0 102.0h1.0v1.0h-1.0zM404.0 102.0h1.0v1.0h-1.0zM406.0 104.0h1.0v1.0h-1.0zM401.0 105.0h1.0v1.0h-1.0zM399.0 106.0h1.0v1.0h-1.0zM406.0 107.0h1.0v1.0h-1.0zM398.0 109.0h1.0v1.0h-1.0zM398.0 111.0h1.0v1.0h-1.0zM407.0 113.0h1.0v1.0h-1.0zM396.0 120.0h1.0v1.0h-1.0zM408.0 123.0h1.0v1.0h-1.0zM394.0 126.0h1.0v1.0h-1.0zM409.0 127.0h1.0v1.0h-1.0zM394.0 129.0h1.0v1.0h-1.0zM409.0 129.0h1.0v1.0h-1.0zM393.0 130.0h1.0v1.0h-1.0zM409.0 131.0h1.0v1.0h-1.0zM393.0 132.0h1.0v1.0h-1.0zM408.0 134.0h1.0v1.0h-1.0zM393.0 139.0h1.0v1.0h-1.0zM393.0 140.0h1.0v1.0h-1.0zM395.0 145.0h1.0v1.0h-1.0zM397.0 149.0h1.0v1.0h-1.0zM398.0 150.0h1.0v1.0h-1.0z" fill="rgb(170,170,170)"/>
<path d="M404.0 99.0h1.0v1.0h-1.0zM401.0 101.0h1.0v1.0h-1.0zM403.0 101.0h1.0v1.0h-1.0zM405.0 101.0h1.0v1.0h-1.0zM402.0 102.0h1.0v1.0h-1.0zM401.0 103.0h1.0v1.0h-1.0zM402.0 104.0h1.0v1.0h-1.0zM404.0 105.0h1.0v1.0h-1.0zM401.0 106.0h1.0v1.0h-1.0zM400.0 107.0h1.0v1.0h-1.0zM405.0 107.0h1.0v1.0h-1.0zM402.0 108.0h1.0v1.0h-1.0zM404.0 108.0h1.0v1.0h-1.0zM407.0 109.0h1.0v1.0h-1.0zM399.0 110.0h1.0v1.0h-1.0zM407.0 112.0h1.0v1.0h-1.0zM397.0 114.0h1.0v1.0h-1.0zM407.0 114.0h1.0v1.0h-1.0zM396.0 117.0h1.0v1.0h-1.0zM396.0 118.0h1.0v1.0h-1.0zM408.0 118.0h1.0v1.0h-1.0zM408.0 119.0h1.0v1.0h-1.0zM409.0 130.0h1.0v1.0h-1.0zM393.0 136.0h1.0v1.0h-1.0zM393.0 137.0h1.0v1.0h-1.0zM408.0 142.0h1.0v1.0h-1.0z" fill="rgb(149,149,149)"/>
<path d="M400.0 102.0h1.0v1.0h-1.0zM405.0 102.0h1.0v1.0h-1.0zM403.0 103.0h1.0v1.0h-1.0zM404.0 103.0h1.0v1.0h-1.0zM399.0 105.0h1.0v1.0h-1.0zM402.0 105.0h1.0v1.0h-1.0zM403.0 105.0h1.0v1.0h-1.0zM398.0 108.0h1.0v1.0h-1.0zM401.0 108.0h1.0v1.0h-1.0zM405.0 109.0h1.0v1.0h-1.0zM406.0 109.0h1.0v1.0h-1.0zM403.0 111.0h1.0v1.0h-1.0zM407.0 111.0h1.0v1.0h-1.0zM401.0 112.0h1.0v1.0h-1.0zM396.0 121.0h1.0v1.0h-1.0zM408.0 121.0h1.0v1.0h-1.0zM408.0 132.0h1.0v1.0h-1.0zM394.0 133.0h1.0v1.0h-1.0zM393.0 134.0h1.0v1.0h-1.0zM394.0 134.0h1.0v1.0h-1.0zM408.0 135.0h1.0v1.0h-1.0zM408.0 137.0h1.0v1.0h-1.0zM407.0 141.0h1.0v1.0h-1.0zM408.0 141.0h1.0v1.0h-1.0zM394.0 143.0h1.0v1.0h-1.0zM395.0 144.0h1.0v1.0h-1.0zM407.0 144.0h1.0v1.0h-1.0zM405.0 147.0h1.0v1.0h-1.0zM404.0 149.0h1.0v1.0h-1.0zM403.0 150.0h1.0v1.0h-1.0z" fill="rgb(128,128,128)"/>
<path d="M401.0 102.0h1.0v1.0h-1.0zM402.0 103.0h1.0v1.0h-1.0zM405.0 104.0h1.0v1.0h-1.0zM400.0 105.0h1.0v1.0h-1.0zM400.0 106.0h1.0v1.0h-1.0zM402.0 106.0h1.0v1.0h-1.0zM405.0 106.0h1.0v1.0h-1.0zM402.0 107.0h1.0v1.0h-1.0zM403.0 107.0h1.0v1.0h-1.0zM402.0 109.0h1.0v1.0h-1.0zM404.0 109.0h1.0v1.0h-1.0zM405.0 110.0h1.0v1.0h-1.0zM398.0 112.0h1.0v1.0h-1.0zM401.0 113.0h1.0v1.0h-1.0zM408.0 120.0h1.0v1.0h-1.0zM407.0 121.0h1.0v1.0h-1.0zM396.0 122.0h1.0v1.0h-1.0zM395.0 123.0h1.0v1.0h-1.0zM395.0 126.0h1.0v1.0h-1.0zM408.0 126.0h1.0v1.0h-1.0zM408.0 129.0h1.0v1.0h-1.0zM394.0 131.0h1.0v1.0h-1.0zM407.0 133.0h1.0v1.0h-1.0zM408.0 133.0h1.0v1.0h-1.0zM394.0 136.0h1.0v1.0h-1.0zM394.0 139.0h1.0v1.0h-1.0zM406.0 145.0h1.0v1.0h-1.0zM396.0 147.0h1.0v1.0h-1.0z" fill="rgb(106,106,106)"/>
<path d="M400.0 104.0h1.0v1.0h-1.0zM401.0 104.0h1.0v1.0h-1.0zM403.0 104.0h1.0v1.0h-1.0zM405.0 105.0h1.0v1.0h-1.0zM404.0 106.0h1.0v1.0h-1.0zM399.0 107.0h1.0v1.0h-1.0zM401.0 107.0h1.0v1.0h-1.0zM400.0 108.0h1.0v1.0h-1.0zM405.0 108.0h1.0v1.0h-1.0zM406.0 108.0h1.0v1.0h-1.0zM401.0 109.0h1.0v1.0h-1.0zM403.0 109.0h1.0v1.0h-1.0zM401.0 111.0h1.0v1.0h-1.0zM405.0 111.0h1.0v1.0h-1.0zM405.0 113.0h1.0v1.0h-1.0zM398.0 115.0h1.0v1.0h-1.0zM405.0 115.0h1.0v1.0h-1.0zM398.0 119.0h1.0v1.0h-1.0zM404.0 120.0h1.0v1.0h-1.0zM407.0 120.0h1.0v1.0h-1.0zM408.0 122.0h1.0v1.0h-1.0zM395.0 124.0h1.0v1.0h-1.0zM408.0 124.0h1.0v1.0h-1.0zM407.0 126.0h1.0v1.0h-1.0zM395.0 127.0h1.0v1.0h-1.0zM394.0 128.0h1.0v1.0h-1.0zM395.0 131.0h1.0v1.0h-1.0zM407.0 136.0h1.0v1.0h-1.0zM408.0 136.0h1.0v1.0h-1.0zM393.0 138.0h1.0v1.0h-1.0zM394.0 138.0h1.0v1.0h-1.0zM408.0 140.0h1.0v1.0h-1.0zM407.0 143.0h1.0v1.0h-1.0zM405.0 146.0h1.0v1.0h-1.0zM406.0 146.0h1.0v1.0h-1.0z" fill="rgb(85,85,85)"/>
<path d="M403.0 106.0h1.0v1.0h-1.0zM404.0 107.0h1.0v1.0h-1.0zM399.0 109.0h1.0v1.0h-1.0zM400.0 109.0h1.0v1.0h-1.0zM398.0 110.0h1.0v1.0h-1.0zM401.0 110.0h1.0v1.0h-1.0zM399.0 111.0h1.0v1.0h-1.0zM405.0 112.0h1.0v1.0h-1.0zM402.0 113.0h1.0v1.0h-1.0zM397.0 115.0h1.0v1.0h-1.0zM401.0 115.0h1.0v1.0h-1.0zM402.0 118.0h1.0v1.0h-1.0zM399.0 119.0h1.0v1.0h-1.0zM402.0 120.0h1.0v1.0h-1.0zM401.0 124.0h1.0v1.0h-1.0zM408.0 125.0h1.0v1.0h-1.0zM394.0 127.0h1.0v1.0h-1.0zM407.0 129.0h1.0v1.0h-1.0zM394.0 130.0h1.0v1.0h-1.0zM408.0 130.0h1.0v1.0h-1.0zM407.0 131.0h1.0v1.0h-1.0zM408.0 131.0h1.0v1.0h-1.0zM403.0 133.0h1.0v1.0h-1.0zM403.0 137.0h1.0v1.0h-1.0zM407.0 137.0h1.0v1.0h-1.0zM395.0 138.0h1.0v1.0h-1.0zM408.0 138.0h1.0v1.0h-1.0zM399.0 139.0h1.0v1.0h-1.0zM408.0 139.0h1.0v1.0h-1.0zM396.0 140.0h1.0v1.0h-1.0zM400.0 140.0h1.0v1.0h-1.0zM394.0 142.0h1.0v1.0h-1.0zM396.0 143.0h1.0v1.0h-1.0zM400.0 143.0h1.0v1.0h-1.0zM401.0 143.0h1.0v1.0h-1.0zM396.0 144.0h1.0v1.0h-1.0zM397.0 146.0h1.0v1.0h-1.0zM398.0 148.0h1.0v1.0h-1.0z" fill="rgb(64,64,64)"/>
<path d="M403.0 110.0h1.0v1.0h-1.0zM400.0 111.0h1.0v1.0h-1.0zM406.0 111.0h1.0v1.0h-1.0zM400.0 113.0h1.0v1.0h-1.0zM406.0 113.0h1.0v1.0h-1.0zM397.0 116.0h1.0v1.0h-1.0zM398.0 117.0h1.0v1.0h-1.0zM400.0 117.0h1.0v1.0h-1.0zM401.0 117.0h1.0v1.0h-1.0zM403.0 117.0h1.0v1.0h-1.0zM405.0 119.0h1.0v1.0h-1.0zM397.0 120.0h1.0v1.0h-1.0zM406.0 120.0h1.0v1.0h-1.0zM402.0 122.0h1.0v1.0h-1.0zM403.0 124.0h1.0v1.0h-1.0zM406.0 124.0h1.0v1.0h-1.0zM395.0 125.0h1.0v1.0h-1.0zM400.0 126.0h1.0v1.0h-1.0zM401.0 127.0h1.0v1.0h-1.0zM407.0 127.0h1.0v1.0h-1.0zM408.0 128.0h1.0v1.0h-1.0zM401.0 129.0h1.0v1.0h-1.0zM400.0 132.0h1.0v1.0h-1.0zM405.0 132.0h1.0v1.0h-1.0zM400.0 133.0h1.0v1.0h-1.0zM396.0 134.0h1.0v1.0h-1.0zM394.0 135.0h1.0v1.0h-1.0zM396.0 135.0h1.0v1.0h-1.0zM401.0 137.0h1.0v1.0h-1.0zM401.0 138.0h1.0v1.0h-1.0zM402.0 138.0h1.0v1.0h-1.0zM403.0 140.0h1.0v1.0h-1.0zM396.0 141.0h1.0v1.0h-1.0zM405.0 141.0h1.0v1.0h-1.0zM395.0 142.0h1.0v1.0h-1.0zM402.0 142.0h1.0v1.0h-1.0zM397.0 143.0h1.0v1.0h-1.0zM398.0 144.0h1.0v1.0h-1.0zM405.0 144.0h1.0v1.0h-1.0zM403.0 145.0h1.0v1.0h-1.0zM404.0 145.0h1.0v1.0h-1.0zM397.0 147.0h1.0v1.0h-1.0zM401.0 147.0h1.0v1.0h-1.0zM399.0 148.0h1.0v1.0h-1.0z" fill="rgb(42,42,42)"/>
<path d="M399.0 108.0h1.0v1.0h-1.0zM403.0 108.0h1.0v1.0h-1.0zM404.0 110.0h1.0v1.0h-1.0zM406.0 110.0h1.0v1.0h-1.0zM404.0 111.0h1.0v1.0h-1.0zM399.0 113.0h1.0v1.0h-1.0zM400.0 115.0h1.0v1.0h-1.0zM407.0 115.0h1.0v1.0h-1.0zM404.0 116.0h1.0v1.0h-1.0zM397.0 117.0h1.0v1.0h-1.0zM407.0 117.0h1.0v1.0h-1.0zM397.0 119.0h1.0v1.0h-1.0zM405.0 121.0h1.0v1.0h-1.0zM396.0 123.0h1.0v1.0h-1.0zM403.0 126.0h1.0v1.0h-1.0zM405.0 126.0h1.0v1.0h-1.0zM398.0 127.0h1.0v1.0h-1.0zM397.0 128.0h1.0v1.0h-1.0zM407.0 128.0h1.0v1.0h-1.0zM404.0 130.0h1.0v1.0h-1.0zM405.0 133.0h1.0v1.0h-1.0zM400.0 136.0h1.0v1.0h-1.0zM403.0 136.0h1.0v1.0h-1.0zM396.0 138.0h1.0v1.0h-1.0zM403.0 138.0h1.0v1.0h-1.0zM394.0 140.0h1.0v1.0h-1.0zM407.0 140.0h1.0v1.0h-1.0zM398.0 141.0h1.0v1.0h-1.0zM399.0 142.0h1.0v1.0h-1.0zM407.0 142.0h1.0v1.0h-1.0zM401.0 144.0h1.0v1.0h-1.0zM403.0 144.0h1.0v1.0h-1.0zM401.0 146.0h1.0v1.0h-1.0zM400.0 148.0h1.0v1.0h-1.0zM404.0 148.0h1.0v1.0h-1.0zM402.0 151.0h1.0v1.0h-1.0z" fill="rgb(21,21,21)"/>
<path d="M400.0 110.0h1.0v1.0h-1.0zM402.0 110.0h1.0v1.0h-1.0zM402.0 111.0h1.0v1.0h-1.0zM399.0 112.0h1.0v1.0h-1.0zM400.0 112.0h1.0v1.0h-1.0zM402.0 112.0h1.0v1.0h-1.0zM403.0 112.0h1.0v1.0h-1.0zM404.0 112.0h1.0v1.0h-1.0zM406.0 112.0h1.0v1.0h-1.0zM398.0 113.0h1.0v1.0h-1.0zM403.0 113.0h1.0v1.0h-1.0zM404.0 113.0h1.0v1.0h-1.0zM398.0 114.0h1.0v1.0h-1.0zM399.0 114.0h1.0v1.0h-1.0zM400.0 114.0h1.0v1.0h-1.0zM401.0 114.0h1.0v1.0h-1.0zM402.0 114.0h1.0v1.0h-1.0zM403.0 114.0h1.0v1.0h-1.0zM404.0 114.0h1.0v1.0h-1.0zM405.0 114.0h1.0v1.0h-1.0zM406.0 114.0h1.0v1.0h-1.0zM399.0 115.0h1.0v1.0h-1.0zM402.0 115.0h1.0v1.0h-1.0zM403.0 115.0h1.0v1.0h-1.0zM404.0 115.0h1.0v1.0h-1.0zM406.0 115.0h1.0v1.0h-1.0zM398.0 116.0h1.0v1.0h-1.0zM399.0 116.0h1.0v1.0h-1.0zM400.0 116.0h1.0v1.0h-1.0zM401.0 116.0h1.0v1.0h-1.0zM402.0 116.0h1.0v1.0h-1.0zM403.0 116.0h1.0v1.0h-1.0zM405.0 116.0h1.0v1.0h-1.0zM406.0 116.0h1.0v1.0h-1.0zM407.0 116.0h1.0v1.0h-1.0zM399.0 117.0h1.0v1.0h-1.0zM402.0 117.0h1.0v1.0h-1.0zM404.0 117.0h1.0v1.0h-1.0zM405.0 117.0h1.0v1.0h-1.0zM406.0 117.0h1.0v1.0h-1.0zM397.0 118.0h1.0v1.0h-1.0zM398.0 118.0h1.0v1.0h-1.0zM399.0 118.0h1.0v1.0h-1.0zM400.0 118.0h1.0v1.0h-1.0zM401.0 118.0h1.0v1.0h-1.0zM403.0 118.0h1.0v1.0h-1.0zM404.0 118.0h1.0v1.0h-1.0zM405.0 118.0h1.0v1.0h-1.0zM406.0 118.0h1.0v1.0h-1.0zM407.0 118.0h1.0v1.0h-1.0zM400.0 119.0h1.0v1.0h-1.0zM401.0 119.0h1.0v1.0h-1.0zM402.0 119.0h1.0v1.0h-1.0zM403.0 119.0h1.0v1.0h-1.0zM404.0 119.0h1.0v1.0h-1.0zM406.0 119.0h1.0v1.0h-1.0zM407.0 119.0h1.0v1.0h-1.0zM398.0 120.0h1.0v1.0h-1.0zM399.0 120.0h1.0v1.0h-1.0zM400.0 120.0h1.0v1.0h-1.0zM401.0 120.0h1.0v1.0h-1.0zM403.0 120.0h1.0v1.0h-1.0zM405.0 120.0h1.0v1.0h-1.0zM397.0 121.0h1.0v1.0h-1.0zM398.0 121.0h1.0v1.0h-1.0zM399.0 121.0h1.0v1.0h-1.0zM400.0 121.0h1.0v1.0h-1.0zM401.0 121.0h1.0v1.0h-1.0zM402.0 121.0h1.0v1.0h-1.0zM403.0 121.0h1.0v1.0h-1.0zM404.0 121.0h1.0v1.0h-1.0zM406.0 121.0h1.0v1.0h-1.0zM397.0 122.0h1.0v1.0h-1.0zM398.0 122.0h1.0v1.0h-1.0zM399.0 122.0h1.0v1.0h-1.0zM400.0 122.0h1.0v1.0h-1.0zM401.0 122.0h1.0v1.0h-1.0zM403.0 122.0h1.0v1.0h-1.0zM404.0 122.0h1.0v1.0h-1.0zM405.0 122.0h1.0v1.0h-1.0zM406.0 122.0h1.0v1.0h-1.0zM407.0 122.0h1.0v1.0h-1.0zM397.0 123.0h1.0v1.0h-1.0zM398.0 123.0h1.0v1.0h-1.0zM399.0 123.0h1.0v1.0h-1.0zM400.0 123.0h1.0v1.0h-1.0zM401.0 123.0h1.0v1.0h-1.0zM402.0 123.0h1.0v1.0h-1.0zM403.0 123.0h1.0v1.0h-1.0zM404.0 123.0h1.0v1.0h-1.0zM405.0 123.0h1.0v1.0h-1.0zM406.0 123.0h1.0v1.0h-1.0zM407.0 123.0h1.0v1.0h-1.0zM396.0 124.0h1.0v1.0h-1.0zM397.0 124.0h1.0v1.0h-1.0zM398.0 124.0h1.0v1.0h-1.0zM399.0 124.0h1.0v1.0h-1.0zM400.0 124.0h1.0v1.0h-1.0zM402.0 124.0h1.0v1.0h-1.0zM404.0 124.0h1.0v1.0h-1.0zM405.0 124.0h1.0v1.0h-1.0zM407.0 124.0h1.0v1.0h-1.0zM396.0 125.0h1.0v1.0h-1.0zM397.0 125.0h1.0v1.0h-1.0zM398.0 125.0h1.0v1.0h-1.0zM399.0 125.0h1.0v1.0h-1.0zM400.0 125.0h1.0v1.0h-1.0zM401.0 125.0h1.0v1.0h-1.0zM402.0 125.0h1.0v1.0h-1.0zM403.0 125.0h1.0v1.0h-1.0zM404.0 125.0h1.0v1.0h-1.0zM405.0 125.0h1.0v1.0h-1.0zM406.0 125.0h1.0v1.0h-1.0zM407.0 125.0h1.0v1.0h-1.0zM396.0 126.0h1.0v1.0h-1.0zM397.0 126.0h1.0v1.0h-1.0zM398.0 126.0h1.0v1.0h-1.0zM399.0 126.0h1.0v1.0h-1.0zM401.0 126.0h1.0v1.0h-1.0zM402.0 126.0h1.0v1.0h-1.0zM404.0 126.0h1.0v1.0h-1.0zM406.0 126.0h1.0v1.0h-1.0zM396.0 127.0h1.0v1.0h-1.0zM397.0 127.0h1.0v1.0h-1.0zM399.0 127.0h1.0v1.0h-1.0zM400.0 127.0h1.0v1.0h-1.0zM402.0 127.0h1.0v1.0h-1.0zM403.0 127.0h1.0v1.0h-1.0zM404.0 127.0h1.0v1.0h-1.0zM405.0 127.0h1.0v1.0h-1.0zM406.0 127.0h1.0v1.0h-1.0zM408.0 127.0h1.0v1.0h-1.0zM395.0 128.0h1.0v1.0h-1.0zM396.0 128.0h1.0v1.0h-1.0zM398.0 128.0h1.0v1.0h-1.0zM399.0 128.0h1.0v1.0h-1.0zM400.0 128.0h1.0v1.0h-1.0zM401.0 128.0h1.0v1.0h-1.0zM402.0 128.0h1.0v1.0h-1.0zM403.0 128.0h1.0v1.0h-1.0zM404.0 128.0h1.0v1.0h-1.0zM405.0 128.0h1.0v1.0h-1.0zM406.0 128.0h1.0v1.0h-1.0zM395.0 129.0h1.0v1.0h-1.0zM396.0 129.0h1.0v1.0h-1.0zM397.0 129.0h1.0v1.0h-1.0zM398.0 129.0h1.0v1.0h-1.0zM399.0 129.0h1.0v1.0h-1.0zM400.0 129.0h1.0v1.0h-1.0zM402.0 129.0h1.0v1.0h-1.0zM403.0 129.0h1.0v1.0h-1.0zM404.0 129.0h1.0v1.0h-1.0zM405.0 129.0h1.0v1.0h-1.0zM406.0 129.0h1.0v1.0h-1.0zM395.0 130.0h1.0v1.0h-1.0zM396.0 130.0h1.0v1.0h-1.0zM397.0 130.0h1.0v1.0h-1.0zM398.0 130.0h1.0v1.0h-1.0zM399.0 130.0h1.0v1.0h-1.0zM400.0 130.0h1.0v1.0h-1.0zM401.0 130.0h1.0v1.0h-1.0zM402.0 130.0h1.0v1.0h-1.0zM403.0 130.0h1.0v1.0h-1.0zM405.0 130.0h1.0v1.0h-1.0zM406.0 130.0h1.0v1.0h-1.0zM407.0 130.0h1.0v1.0h-1.0zM396.0 131.0h1.0v1.0h-1.0zM397.0 131.0h1.0v1.0h-1.0zM398.0 131.0h1.0v1.0h-1.0zM399.0 131.0h1.0v1.0h-1.0zM400.0 131.0h1.0v1.0h-1.0zM401.0 131.0h1.0v1.0h-1.0zM402.0 131.0h1.0v1.0h-1.0zM403.0 131.0h1.0v1.0h-1.0zM404.0 131.0h1.0v1.0h-1.0zM405.0 131.0h1.0v1.0h-1.0zM406.0 131.0h1.0v1.0h-1.0zM394.0 132.0h1.0v1.0h-1.0zM395.0 132.0h1.0v1.0h-1.0zM396.0 132.0h1.0v1.0h-1.0zM397.0 132.0h1.0v1.0h-1.0zM398.0 132.0h1.0v1.0h-1.0zM399.0 132.0h1.0v1.0h-1.0zM401.0 132.0h1.0v1.0h-1.0zM402.0 132.0h1.0v1.0h-1.0zM403.0 132.0h1.0v1.0h-1.0zM404.0 132.0h1.0v1.0h-1.0zM406.0 132.0h1.0v1.0h-1.0zM407.0 132.0h1.0v1.0h-1.0zM395.0 133.0h1.0v1.0h-1.0zM396.0 133.0h1.0v1.0h-1.0zM397.0 133.0h1.0v1.0h-1.0zM398.0 133.0h1.0v1.0h-1.0zM399.0 133.0h1.0v1.0h-1.0zM401.0 133.0h1.0v1.0h-1.0zM402.0 133.0h1.0v1.0h-1.0zM404.0 133.0h1.0v1.0h-1.0zM406.0 133.0h1.0v1.0h-1.0zM395.0 134.0h1.0v1.0h-1.0zM397.0 134.0h1.0v1.0h-1.0zM398.0 134.0h1.0v1.0h-1.0zM399.0 134.0h1.0v1.0h-1.0zM400.0 134.0h1.0v1.0h-1.0zM401.0 134.0h1.0v1.0h-1.0zM402.0 134.0h1.0v1.0h-1.0zM403.0 134.0h1.0v1.0h-1.0zM404.0 134.0h1.0v1.0h-1.0zM405.0 134.0h1.0v1.0h-1.0zM406.0 134.0h1.0v1.0h-1.0zM407.0 134.0h1.0v1.0h-1.0zM395.0 135.0h1.0v1.0h-1.0zM397.0 135.0h1.0v1.0h-1.0zM398.0 135.0h1.0v1.0h-1.0zM399.0 135.0h1.0v1.0h-1.0zM400.0 135.0h1.0v1.0h-1.0zM401.0 135.0h1.0v1.0h-1.0zM402.0 135.0h1.0v1.0h-1.0zM403.0 135.0h1.0v1.0h-1.0zM404.0 135.0h1.0v1.0h-1.0zM405.0 135.0h1.0v1.0h-1.0zM406.0 135.0h1.0v1.0h-1.0zM407.0 135.0h1.0v1.0h-1.0zM395.0 136.0h1.0v1.0h-1.0zM396.0 136.0h1.0v1.0h-1.0zM397.0 136.0h1.0v1.0h-1.0zM398.0 136.0h1.0v1.0h-1.0zM399.0 136.0h1.0v1.0h-1.0zM401.0 136.0h1.0v1.0h-1.0zM402.0 136.0h1.0v1.0h-1.0zM404.0 136.0h1.0v1.0h-1.0zM405.0 136.0h1.0v1.0h-1.0zM406.0 136.0h1.0v1.0h-1.0zM394.0 137.0h1.0v1.0h-1.0zM395.0 137.0h1.0v1.0h-1.0zM396.0 137.0h1.0v1.0h-1.0zM397.0 137.0h1.0v1.0h-1.0zM398.0 137.0h1.0v1.0h-1.0zM399.0 137.0h1.0v1.0h-1.0zM400.0 137.0h1.0v1.0h-1.0zM402.0 137.0h1.0v1.0h-1.0zM404.0 137.0h1.0v1.0h-1.0zM405.0 137.0h1.0v1.0h-1.0zM406.0 137.0h1.0v1.0h-1.0zM397.0 138.0h1.0v1.0h-1.0zM398.0 138.0h1.0v1.0h-1.0zM399.0 138.0h1.0v1.0h-1.0zM400.0 138.0h1.0v1.0h-1.0zM404.0 138.0h1.0v1.0h-1.0zM405.0 138.0h1.0v1.0h-1.0zM406.0 138.0h1.0v1.0h-1.0zM407.0 138.0h1.0v1.0h-1.0zM395.0 139.0h1.0v1.0h-1.0zM396.0 139.0h1.0v1.0h-1.0zM397.0 139.0h1.0v1.0h-1.0zM398.0 139.0h1.0v1.0h-1.0zM400.0 139.0h1.0v1.0h-1.0zM401.0 139.0h1.0v1.0h-1.0zM402.0 139.0h1.0v1.0h-1.0zM403.0 139.0h1.0v1.0h-1.0zM404.0 139.0h1.0v1.0h-1.0zM405.0 139.0h1.0v1.0h-1.0zM406.0 139.0h1.0v1.0h-1.0zM407.0 139.0h1.0v1.0h-1.0zM395.0 140.0h1.0v1.0h-1.0zM397.0 140.0h1.0v1.0h-1.0zM398.0 140.0h1.0v1.0h-1.0zM399.0 140.0h1.0v1.0h-1.0zM401.0 140.0h1.0v1.0h-1.0zM402.0 140.0h1.0v1.0h-1.0zM404.0 140.0h1.0v1.0h-1.0zM405.0 140.0h1.0v1.0h-1.0zM406.0 140.0h1.0v1.0h-1.0zM394.0 141.0h1.0v1.0h-1.0zM395.0 141.0h1.0v1.0h-1.0zM397.0 141.0h1.0v1.0h-1.0zM399.0 141.0h1.0v1.0h-1.0zM400.0 141.0h1.0v1.0h-1.0zM401.0 141.0h1.0v1.0h-1.0zM402.0 141.0h1.0v1.0h-1.0zM403.0 141.0h1.0v1.0h-1.0zM404.0 141.0h1.0v1.0h-1.0zM406.0 141.0h1.0v1.0h-1.0zM396.0 142.0h1.0v1.0h-1.0zM397.0 142.0h1.0v1.0h-1.0zM398.0 142.0h1.0v1.0h-1.0zM400.0 142.0h1.0v1.0h-1.0zM401.0 142.0h1.0v1.0h-1.0zM403.0 142.0h1.0v1.0h-1.0zM404.0 142.0h1.0v1.0h-1.0zM405.0 142.0h1.0v1.0h-1.0zM406.0 142.0h1.0v1.0h-1.0zM395.0 143.0h1.0v1.0h-1.0zM398.0 143.0h1.0v1.0h-1.0zM399.0 143.0h1.0v1.0h-1.0zM402.0 143.0h1.0v1.0h-1.0zM403.0 143.0h1.0v1.0h-1.0zM404.0 143.0h1.0v1.0h-1.0zM405.0 143.0h1.0v1.0h-1.0zM406.0 143.0h1.0v1.0h-1.0zM397.0 144.0h1.0v1.0h-1.0zM399.0 144.0h1.0v1.0h-1.0zM400.0 144.0h1.0v1.0h-1.0zM402.0 144.0h1.0v1.0h-1.0zM404.0 144.0h1.0v1.0h-1.0zM406.0 144.0h1.0v1.0h-1.0zM396.0 145.0h1.0v1.0h-1.0zM397.0 145.0h1.0v1.0h-1.0zM398.0 145.0h1.0v1.0h-1.0zM399.0 145.0h1.0v1.0h-1.0zM400.0 145.0h1.0v1.0h-1.0zM401.0 145.0h1.0v1.0h-1.0zM402.0 145.0h1.0v1.0h-1.0zM405.0 145.0h1.0v1.0h-1.0zM396.0 146.0h1.0v1.0h-1.0zM398.0 146.0h1.0v1.0h-1.0zM399.0 146.0h1.0v1.0h-1.0zM400.0 146.0h1.0v1.0h-1.0zM402.0 146.0h1.0v1.0h-1.0zM403.0 146.0h1.0v1.0h-1.0zM404.0 146.0h1.0v1.0h-1.0zM398.0 147.0h1.0v1.0h-1.0zM399.0 147.0h1.0v1.0h-1.0zM400.0 147.0h1.0v1.0h-1.0zM402.0 147.0h1.0v1.0h-1.0zM403.0 147.0h1.0v1.0h-1.0zM404.0 147.0h1.0v1.0h-1.0zM397.0 148.0h1.0v1.0h-1.0zM401.0 148.0h1.0v1.0h-1.0zM402.0 148.0h1.0v1.0h-1.0zM403.0 148.0h1.0v1.0h-1.0zM398.0 149.0h1.0v1.0h-1.0zM399.0 149.0h1.0v1.0h-1.0zM400.0 149.0h1.0v1.0h-1.0zM401.0 149.0h1.0v1.0h-1.0zM402.0 149.0h1.0v1.0h-1.0zM403.0 149.0h1.0v1.0h-1.0zM399.0 150.0h1.0v1.0h-1.0zM400.0 150.0h1.0v1.0h-1.0zM401.0 150.0h1.0v1.0h-1.0zM402.0 150.0h1.0v1.0h-1.0zM399.0 151.0h1.0v1.0h-1.0zM400.0 151.0h1.0v1.0h-1.0zM401.0 151.0h1.0v1.0h-1.0z" fill="rgb(0,0,0)"/>
<path d="M399.2 138.6h0.8v0.8h-0.8zM399.6 132.8h0.8v0.8h-0.8zM394.6 105.1h0.8v0.8h-0.8zM401.2 105.2h0.8v0.8h-0.8zM408.0 127.3h0.8v0.8h-0.8zM400.0 137.0h0.8v0.8h-0.8zM399.7 129.3h0.8v0.8h-0.8zM404.0 122.9h0.8v0.8h-0.8zM401.5 107.4h0.8v0.8h-0.8zM406.7 114.4h0.8v0.8h-0.8zM398.4 126.9h0.8v0.8h-0.8zM402.3 118.7h0.8v0.8h-0.8zM397.5 119.8h0.8v0.8h-0.8zM403.4 140.5h0.8v0.8h-0.8zM397.2 115.9h0.8v0.8h-0.8zM404.8 123.3h0.8v0.8h-0.8zM406.4 118.5h0.8v0.8h-0.8zM402.4 126.9h0.8v0.8h-0.8zM401.4 137.6h0.8v0.8h-0.8zM401.1 126.9h0.8v0.8h-0.8zM400.0 147.0h0.8v0.8h-0.8zM403.3 127.5h0.8v0.8h-0.8zM394.2 134.9h0.8v0.8h-0.8zM397.8 109.5h0.8v0.8h-0.8zM400.6 118.9h0.8v0.8h-0.8zM400.5 130.8h0.8v0.8h-0.8zM399.4 120.3h0.8v0.8h-0.8zM396.8 115.4h0.8v0.8h-0.8zM397.1 114.5h0.8v0.8h-0.8zM399.2 118.4h0.8v0.8h-0.8zM402.0 129.7h0.8v0.8h-0.8zM404.7 129.0h0.8v0.8h-0.8zM401.9 132.6h0.8v0.8h-0.8zM399.1 119.1h0.8v0.8h-0.8zM400.8 120.5h0.8v0.8h-0.8zM403.6 134.0h0.8v0.8h-0.8zM394.7 137.9h0.8v0.8h-0.8zM393.7 134.6h0.8v0.8h-0.8zM409.1 143.6h0.8v0.8h-0.8zM395.8 147.0h0.8v0.8h-0.8zM408.8 132.3h0.8v0.8h-0.8zM401.8 151.3h0.8v0.8h-0.8zM402.7 111.1h0.8v0.8h-0.8zM400.4 129.7h0.8v0.8h-0.8zM404.1 152.2h0.8v0.8h-0.8z" fill="#222" opacity="1.0"/>
<path d="M409.05 135.35 L408.63 136.49 L408.05 137.58 L407.36 138.63 L406.61 139.62 L405.81 140.54 L405.00 141.39 L404.19 142.15 L403.41 142.83 L402.66 143.40 L401.95 143.86 L401.29 144.21 L400.67 144.44 L400.09 144.54 L399.55 144.51 L399.02 144.35 L398.52 144.06 L398.01 143.63 L397.51 143.08 L397.01 142.40 L396.50 141.61 L395.99 140.71 L395.49 139.71 L395.02 138.64 L394.59 137.50 L394.21 136.31 L393.93 135.09 L393.75 133.87 L393.75 132.65 L393.93 131.87 L394.22 131.11 L394.59 130.39 L395.05 129.71 L395.58 129.09 L396.19 128.53 L396.87 128.04 L397.60 127.62 L398.39 127.28 L399.20 127.03 L400.05 126.87 L400.91 126.79 L401.78 126.81 L402.65 126.92 L403.50 127.11 L404.32 127.40 L405.11 127.76 L405.85 128.20 L406.53 128.72 L407.15 129.30 L407.70 129.95 L408.16 130.64 L408.55 131.37 L408.84 132.14 L409.04 132.93 L409.14 133.74 L409.15 134.55Z" fill="#111"/>
<path d="M408.00 135.16 L407.63 136.15 L407.13 137.09 L406.54 137.99 L405.89 138.84 L405.20 139.64 L404.50 140.37 L403.81 141.03 L403.13 141.61 L402.48 142.10 L401.87 142.50 L401.30 142.80 L400.77 143.00 L400.27 143.08 L399.80 143.06 L399.35 142.92 L398.91 142.67 L398.48 142.30 L398.05 141.83 L397.61 141.24 L397.17 140.56 L396.73 139.78 L396.31 138.93 L395.90 138.00 L395.53 137.02 L395.21 135.99 L394.96 134.94 L394.81 133.88 L394.80 132.84 L394.96 132.16 L395.21 131.51 L395.53 130.89 L395.92 130.30 L396.39 129.77 L396.91 129.28 L397.50 128.86 L398.13 128.50 L398.80 128.21 L399.51 127.99 L400.24 127.85 L400.98 127.79 L401.73 127.80 L402.48 127.89 L403.21 128.06 L403.92 128.31 L404.60 128.62 L405.23 129.00 L405.82 129.45 L406.36 129.95 L406.83 130.51 L407.23 131.10 L407.56 131.74 L407.81 132.40 L407.98 133.08 L408.07 133.78 L408.08 134.47Z" fill="#f8f8f8"/>
<path d="M406.81 134.95 L406.51 135.76 L406.10 136.53 L405.61 137.27 L405.08 137.97 L404.52 138.63 L403.94 139.22 L403.37 139.76 L402.82 140.24 L402.29 140.64 L401.79 140.97 L401.32 141.22 L400.88 141.38 L400.48 141.45 L400.09 141.43 L399.72 141.32 L399.36 141.11 L399.01 140.81 L398.65 140.42 L398.29 139.94 L397.93 139.38 L397.57 138.74 L397.22 138.04 L396.89 137.28 L396.58 136.47 L396.32 135.63 L396.12 134.77 L396.00 133.90 L395.99 133.05 L396.12 132.49 L396.32 131.96 L396.58 131.45 L396.91 130.97 L397.29 130.53 L397.72 130.13 L398.20 129.79 L398.72 129.49 L399.27 129.25 L399.85 129.08 L400.45 128.96 L401.06 128.91 L401.67 128.92 L402.28 128.99 L402.88 129.13 L403.46 129.33 L404.02 129.59 L404.54 129.90 L405.03 130.27 L405.46 130.68 L405.85 131.13 L406.18 131.62 L406.45 132.14 L406.66 132.69 L406.80 133.25 L406.87 133.82 L406.88 134.39Z" fill="#ababab" stroke="#777" stroke-width="0.5"/>
<path d="M405.75 134.57 L405.51 135.22 L405.18 135.84 L404.79 136.43 L404.36 137.00 L403.91 137.52 L403.45 138.01 L402.99 138.44 L402.54 138.82 L402.11 139.15 L401.71 139.41 L401.34 139.61 L400.98 139.74 L400.66 139.80 L400.35 139.78 L400.05 139.69 L399.76 139.52 L399.47 139.28 L399.19 138.96 L398.90 138.58 L398.61 138.13 L398.32 137.62 L398.04 137.05 L397.77 136.44 L397.52 135.79 L397.31 135.12 L397.15 134.42 L397.05 133.72 L397.05 133.03 L397.15 132.59 L397.31 132.15 L397.52 131.74 L397.78 131.36 L398.09 131.01 L398.44 130.69 L398.82 130.41 L399.24 130.17 L399.68 129.98 L400.15 129.84 L400.63 129.74 L401.12 129.70 L401.62 129.71 L402.11 129.77 L402.59 129.88 L403.06 130.04 L403.51 130.25 L403.93 130.50 L404.32 130.80 L404.67 131.13 L404.98 131.49 L405.25 131.89 L405.47 132.31 L405.63 132.74 L405.75 133.19 L405.80 133.65 L405.81 134.11Z" fill="#747474" stroke="#444" stroke-width="0.5"/>
<path d="M404.00 134.21 L403.84 134.64 L403.62 135.06 L403.36 135.46 L403.08 135.83 L402.77 136.18 L402.46 136.50 L402.16 136.79 L401.86 137.05 L401.58 137.26 L401.31 137.44 L401.06 137.57 L400.82 137.66 L400.60 137.70 L400.40 137.69 L400.20 137.63 L400.01 137.51 L399.82 137.35 L399.63 137.14 L399.43 136.89 L399.24 136.59 L399.05 136.24 L398.86 135.87 L398.68 135.46 L398.52 135.03 L398.37 134.58 L398.27 134.11 L398.20 133.65 L398.20 133.19 L398.27 132.89 L398.37 132.60 L398.52 132.33 L398.69 132.07 L398.89 131.84 L399.13 131.62 L399.38 131.44 L399.66 131.28 L399.96 131.15 L400.27 131.06 L400.59 131.00 L400.92 130.97 L401.25 130.97 L401.57 131.01 L401.90 131.09 L402.21 131.19 L402.51 131.33 L402.79 131.50 L403.05 131.70 L403.28 131.92 L403.49 132.16 L403.67 132.43 L403.81 132.70 L403.92 133.00 L404.00 133.30 L404.04 133.60 L404.04 133.91Z" fill="#484848"/>
<path d="M402.35 133.86 L402.27 134.07 L402.16 134.28 L402.03 134.48 L401.89 134.67 L401.74 134.84 L401.58 135.00 L401.43 135.15 L401.28 135.27 L401.14 135.38 L401.00 135.47 L400.88 135.54 L400.76 135.58 L400.65 135.60 L400.55 135.59 L400.45 135.56 L400.35 135.51 L400.26 135.43 L400.16 135.32 L400.07 135.19 L399.97 135.04 L399.87 134.87 L399.78 134.68 L399.69 134.48 L399.61 134.26 L399.54 134.04 L399.48 133.81 L399.45 133.57 L399.45 133.34 L399.48 133.20 L399.54 133.05 L399.61 132.91 L399.69 132.79 L399.80 132.67 L399.91 132.56 L400.04 132.47 L400.18 132.39 L400.33 132.33 L400.48 132.28 L400.64 132.25 L400.81 132.23 L400.97 132.24 L401.14 132.26 L401.30 132.29 L401.45 132.35 L401.60 132.42 L401.74 132.50 L401.87 132.60 L401.99 132.71 L402.09 132.83 L402.18 132.96 L402.26 133.10 L402.31 133.25 L402.35 133.40 L402.37 133.55 L402.37 133.70Z" fill="#222"/>
<text x="402.8" y="94.8" font-size="6.9" font-weight="bold" text-anchor="middle" fill="#000" >1.92</text>
<rect x="479.9" y="98.8" width="15.900000000000034" height="28.799999999999997" fill="none" stroke="#8a8a8a" stroke-width="0.75"/>
<path d="M486.8 110.4h0.8v0.8h-0.8zM485.1 121.7h0.8v0.8h-0.8zM488.6 111.1h0.8v0.8h-0.8zM488.4 126.8h0.8v0.8h-0.8zM486.3 116.3h0.8v0.8h-0.8zM486.0 112.4h0.8v0.8h-0.8zM491.5 106.8h0.8v0.8h-0.8zM488.5 109.5h0.8v0.8h-0.8zM484.8 126.5h0.8v0.8h-0.8zM490.3 109.8h0.8v0.8h-0.8zM487.6 123.8h0.8v0.8h-0.8zM489.9 119.2h0.8v0.8h-0.8zM488.2 108.8h0.8v0.8h-0.8zM491.6 114.0h0.8v0.8h-0.8zM488.1 116.3h0.8v0.8h-0.8zM486.8 111.5h0.8v0.8h-0.8zM486.7 112.3h0.8v0.8h-0.8zM489.2 121.4h0.8v0.8h-0.8zM488.3 118.2h0.8v0.8h-0.8zM487.1 121.8h0.8v0.8h-0.8zM487.7 124.6h0.8v0.8h-0.8zM488.4 117.5h0.8v0.8h-0.8zM485.5 108.9h0.8v0.8h-0.8zM488.9 108.1h0.8v0.8h-0.8zM487.1 109.0h0.8v0.8h-0.8zM488.2 112.6h0.8v0.8h-0.8zM488.5 117.6h0.8v0.8h-0.8zM488.5 115.8h0.8v0.8h-0.8zM490.4 118.1h0.8v0.8h-0.8zM487.4 107.1h0.8v0.8h-0.8zM488.0 112.4h0.8v0.8h-0.8zM484.3 125.1h0.8v0.8h-0.8zM488.3 126.5h0.8v0.8h-0.8zM486.6 126.2h0.8v0.8h-0.8zM487.9 119.2h0.8v0.8h-0.8zM489.1 125.0h0.8v0.8h-0.8zM489.4 112.1h0.8v0.8h-0.8zM488.5 125.9h0.8v0.8h-0.8zM487.7 118.0h0.8v0.8h-0.8zM487.0 117.8h0.8v0.8h-0.8zM488.8 114.8h0.8v0.8h-0.8zM490.9 115.9h0.8v0.8h-0.8zM490.2 109.1h0.8v0.8h-0.8zM487.9 111.1h0.8v0.8h-0.8zM487.4 103.2h0.8v0.8h-0.8zM486.8 104.4h0.8v0.8h-0.8zM487.7 118.2h0.8v0.8h-0.8zM485.6 112.7h0.8v0.8h-0.8zM485.3 118.7h0.8v0.8h-0.8zM486.5 110.0h0.8v0.8h-0.8zM491.4 124.1h0.8v0.8h-0.8zM486.2 124.9h0.8v0.8h-0.8zM489.0 116.0h0.8v0.8h-0.8zM487.4 112.5h0.8v0.8h-0.8zM488.5 120.6h0.8v0.8h-0.8zM487.6 112.2h0.8v0.8h-0.8zM487.5 105.2h0.8v0.8h-0.8zM488.5 111.5h0.8v0.8h-0.8zM482.7 123.2h0.8v0.8h-0.8zM485.4 116.8h0.8v0.8h-0.8z" fill="#555" opacity="1.0"/>
<path d="M486.7 140.4h0.8v0.8h-0.8zM489.8 140.1h0.8v0.8h-0.8zM482.3 141.7h0.8v0.8h-0.8zM491.4 139.5h0.8v0.8h-0.8zM492.6 140.7h0.8v0.8h-0.8zM488.6 148.4h0.8v0.8h-0.8zM484.2 141.8h0.8v0.8h-0.8zM490.4 140.1h0.8v0.8h-0.8zM483.9 143.0h0.8v0.8h-0.8zM486.6 140.2h0.8v0.8h-0.8zM485.3 142.7h0.8v0.8h-0.8zM487.0 140.9h0.8v0.8h-0.8zM484.6 139.1h0.8v0.8h-0.8zM482.1 142.5h0.8v0.8h-0.8zM486.5 138.9h0.8v0.8h-0.8zM487.1 143.0h0.8v0.8h-0.8zM489.2 140.4h0.8v0.8h-0.8zM490.2 144.7h0.8v0.8h-0.8zM479.7 136.9h0.8v0.8h-0.8zM489.7 142.0h0.8v0.8h-0.8zM489.6 145.6h0.8v0.8h-0.8zM483.1 142.2h0.8v0.8h-0.8zM491.5 137.2h0.8v0.8h-0.8zM493.4 133.3h0.8v0.8h-0.8zM485.9 150.5h0.8v0.8h-0.8zM485.9 141.7h0.8v0.8h-0.8zM488.6 140.0h0.8v0.8h-0.8zM490.3 141.4h0.8v0.8h-0.8zM489.9 138.0h0.8v0.8h-0.8zM479.4 139.6h0.8v0.8h-0.8zM489.0 135.5h0.8v0.8h-0.8zM485.0 140.8h0.8v0.8h-0.8zM487.2 146.9h0.8v0.8h-0.8zM480.8 137.3h0.8v0.8h-0.8zM495.2 134.9h0.8v0.8h-0.8zM487.6 142.5h0.8v0.8h-0.8zM491.2 137.9h0.8v0.8h-0.8zM489.6 146.6h0.8v0.8h-0.8zM486.9 143.9h0.8v0.8h-0.8zM483.7 144.6h0.8v0.8h-0.8zM486.3 139.6h0.8v0.8h-0.8zM486.7 135.4h0.8v0.8h-0.8zM481.1 142.1h0.8v0.8h-0.8zM487.2 140.5h0.8v0.8h-0.8zM481.1 141.9h0.8v0.8h-0.8zM485.5 135.4h0.8v0.8h-0.8zM491.3 150.1h0.8v0.8h-0.8zM487.6 138.2h0.8v0.8h-0.8zM477.9 145.3h0.8v0.8h-0.8zM488.1 145.0h0.8v0.8h-0.8zM495.3 138.9h0.8v0.8h-0.8zM487.7 147.5h0.8v0.8h-0.8zM483.2 145.6h0.8v0.8h-0.8zM487.2 138.9h0.8v0.8h-0.8zM487.5 143.7h0.8v0.8h-0.8zM486.9 142.1h0.8v0.8h-0.8zM489.7 144.1h0.8v0.8h-0.8zM485.6 141.8h0.8v0.8h-0.8zM478.7 136.3h0.8v0.8h-0.8zM483.7 139.3h0.8v0.8h-0.8zM485.8 136.9h0.8v0.8h-0.8zM489.1 145.1h0.8v0.8h-0.8zM493.0 141.7h0.8v0.8h-0.8zM489.0 144.3h0.8v0.8h-0.8zM493.6 139.4h0.8v0.8h-0.8zM489.9 136.1h0.8v0.8h-0.8zM482.9 136.3h0.8v0.8h-0.8zM489.6 140.4h0.8v0.8h-0.8zM487.3 137.6h0.8v0.8h-0.8zM486.7 148.4h0.8v0.8h-0.8z" fill="#333" opacity="1.0"/>
<path d="M493.80 134.00 L493.61 135.51 L493.27 137.00 L492.84 138.46 L492.34 139.86 L491.79 141.18 L491.22 142.42 L490.64 143.55 L490.07 144.55 L489.51 145.43 L488.97 146.16 L488.45 146.74 L487.96 147.16 L487.47 147.42 L487.00 147.50 L486.53 147.42 L486.04 147.16 L485.55 146.74 L485.03 146.16 L484.49 145.43 L483.93 144.55 L483.36 143.55 L482.78 142.42 L482.21 141.18 L481.66 139.86 L481.16 138.46 L480.73 137.00 L480.39 135.51 L480.20 134.00 L480.24 133.35 L480.37 132.71 L480.58 132.08 L480.87 131.48 L481.24 130.91 L481.68 130.38 L482.19 129.90 L482.76 129.47 L483.38 129.09 L484.05 128.77 L484.75 128.53 L485.49 128.35 L486.24 128.24 L487.00 128.20 L487.76 128.24 L488.51 128.35 L489.25 128.53 L489.95 128.77 L490.62 129.09 L491.24 129.47 L491.81 129.90 L492.32 130.38 L492.76 130.91 L493.13 131.48 L493.42 132.08 L493.63 132.71 L493.76 133.35Z" fill="#fff" stroke="#333" stroke-width="0.7"/>
<path d="M492.98 134.00 L492.82 135.33 L492.52 136.64 L492.14 137.92 L491.70 139.15 L491.22 140.32 L490.72 141.41 L490.21 142.40 L489.70 143.29 L489.21 144.06 L488.73 144.70 L488.28 145.21 L487.84 145.58 L487.42 145.81 L487.00 145.88 L486.58 145.81 L486.16 145.58 L485.72 145.21 L485.27 144.70 L484.79 144.06 L484.30 143.29 L483.79 142.40 L483.28 141.41 L482.78 140.32 L482.30 139.15 L481.86 137.92 L481.48 136.64 L481.18 135.33 L481.02 134.00 L481.05 133.43 L481.17 132.86 L481.35 132.31 L481.61 131.79 L481.93 131.28 L482.32 130.82 L482.77 130.39 L483.27 130.01 L483.82 129.68 L484.40 129.40 L485.02 129.18 L485.67 129.02 L486.33 128.93 L487.00 128.90 L487.67 128.93 L488.33 129.02 L488.98 129.18 L489.60 129.40 L490.18 129.68 L490.73 130.01 L491.23 130.39 L491.68 130.82 L492.07 131.28 L492.39 131.79 L492.65 132.31 L492.83 132.86 L492.95 133.43Z" fill="#eee" stroke="#888" stroke-width="0.5"/>
<path d="M492.03 134.00 L491.89 135.12 L491.64 136.22 L491.32 137.30 L490.95 138.33 L490.55 139.32 L490.13 140.23 L489.70 141.06 L489.27 141.81 L488.86 142.46 L488.46 143.00 L488.08 143.43 L487.71 143.74 L487.35 143.93 L487.00 143.99 L486.65 143.93 L486.29 143.74 L485.92 143.43 L485.54 143.00 L485.14 142.46 L484.73 141.81 L484.30 141.06 L483.87 140.23 L483.45 139.32 L483.05 138.33 L482.68 137.30 L482.36 136.22 L482.11 135.12 L481.97 134.00 L482.00 133.52 L482.09 133.04 L482.25 132.58 L482.47 132.14 L482.74 131.72 L483.07 131.32 L483.44 130.97 L483.86 130.64 L484.32 130.37 L484.82 130.13 L485.34 129.95 L485.88 129.82 L486.44 129.73 L487.00 129.71 L487.56 129.73 L488.12 129.82 L488.66 129.95 L489.18 130.13 L489.68 130.37 L490.14 130.64 L490.56 130.97 L490.93 131.32 L491.26 131.72 L491.53 132.14 L491.75 132.58 L491.91 133.04 L492.00 133.52Z" fill="#c4c4c4" stroke="#777" stroke-width="0.5"/>
<path d="M491.08 133.70 L490.96 134.61 L490.76 135.50 L490.50 136.38 L490.20 137.21 L489.88 138.01 L489.53 138.75 L489.19 139.43 L488.84 140.03 L488.51 140.56 L488.18 141.00 L487.87 141.35 L487.57 141.60 L487.28 141.75 L487.00 141.80 L486.72 141.75 L486.43 141.60 L486.13 141.35 L485.82 141.00 L485.49 140.56 L485.16 140.03 L484.81 139.43 L484.47 138.75 L484.12 138.01 L483.80 137.21 L483.50 136.38 L483.24 135.50 L483.04 134.61 L482.92 133.70 L482.95 133.31 L483.02 132.93 L483.15 132.55 L483.32 132.19 L483.55 131.85 L483.81 131.53 L484.12 131.24 L484.46 130.98 L484.83 130.75 L485.23 130.56 L485.65 130.42 L486.09 130.31 L486.54 130.24 L487.00 130.22 L487.46 130.24 L487.91 130.31 L488.35 130.42 L488.77 130.56 L489.17 130.75 L489.54 130.98 L489.88 131.24 L490.19 131.53 L490.45 131.85 L490.68 132.19 L490.85 132.55 L490.98 132.93 L491.05 133.31Z" fill="#666"/>
<path d="M490.06 133.50 L489.97 134.18 L489.82 134.85 L489.63 135.51 L489.40 136.14 L489.16 136.73 L488.90 137.29 L488.64 137.80 L488.38 138.25 L488.13 138.64 L487.89 138.97 L487.65 139.23 L487.43 139.42 L487.21 139.54 L487.00 139.57 L486.79 139.54 L486.57 139.42 L486.35 139.23 L486.11 138.97 L485.87 138.64 L485.62 138.25 L485.36 137.80 L485.10 137.29 L484.84 136.73 L484.60 136.14 L484.37 135.51 L484.18 134.85 L484.03 134.18 L483.94 133.50 L483.96 133.21 L484.02 132.92 L484.11 132.64 L484.24 132.37 L484.41 132.11 L484.61 131.87 L484.84 131.65 L485.09 131.46 L485.37 131.29 L485.67 131.15 L485.99 131.04 L486.32 130.96 L486.66 130.91 L487.00 130.89 L487.34 130.91 L487.68 130.96 L488.01 131.04 L488.33 131.15 L488.63 131.29 L488.91 131.46 L489.16 131.65 L489.39 131.87 L489.59 132.11 L489.76 132.37 L489.89 132.64 L489.98 132.92 L490.04 133.21Z" fill="#141414"/>
<text x="488.4" y="95.4" font-size="6.9" font-weight="bold" text-anchor="middle" fill="#000" >1.63</text>
<rect x="344.6" y="175.4" width="9.2" height="3.6" fill="#000"/>
<text x="358.5" y="179.6" font-size="7.2" font-weight="bold" text-anchor="start" fill="#000" >WT</text>
<rect x="382" y="175.9" width="8.4" height="2.8" fill="#fff" stroke="#000" stroke-width="1"/>
<text x="397.8" y="179.6" font-size="7.3" font-weight="bold" text-anchor="start" fill="#000" textLength="31.2" lengthAdjust="spacingAndGlyphs">TSLPR-/-</text>
<text x="316.2" y="198.9" font-size="8.6" font-weight="bold" text-anchor="middle" fill="#000" >BAL</text>
<text x="399" y="198.9" font-size="8.6" font-weight="bold" text-anchor="middle" fill="#000" >Lung</text>
<text x="484.1" y="198.9" font-size="8.6" font-weight="bold" text-anchor="middle" fill="#000" >Spleen</text>
<text transform="translate(254.8,250.5) rotate(-90)" font-size="6.6" fill="#333" textLength="57" lengthAdjust="spacingAndGlyphs">% IFN-γ producing</text>
<text transform="translate(260.5,251) rotate(-90)" font-size="6.6" fill="#333" textLength="57.5" lengthAdjust="spacingAndGlyphs">CD44hi CD4+ T cells</text>
<line x1="275.3" y1="203.3" x2="275.3" y2="253.6" stroke="#555" stroke-width="1.1" />
<line x1="273.5" y1="253.6" x2="275.3" y2="253.6" stroke="#555" stroke-width="1" />
<text x="273.3" y="255.79999999999998" font-size="6.2" font-weight="bold" text-anchor="end" fill="#222" >0</text>
<line x1="273.5" y1="243.6" x2="275.3" y2="243.6" stroke="#555" stroke-width="1" />
<text x="273.3" y="245.79999999999998" font-size="6.2" font-weight="bold" text-anchor="end" fill="#222" >1</text>
<line x1="273.5" y1="233.6" x2="275.3" y2="233.6" stroke="#555" stroke-width="1" />
<text x="273.3" y="235.79999999999998" font-size="6.2" font-weight="bold" text-anchor="end" fill="#222" >2</text>
<line x1="273.5" y1="223.6" x2="275.3" y2="223.6" stroke="#555" stroke-width="1" />
<text x="273.3" y="225.79999999999998" font-size="6.2" font-weight="bold" text-anchor="end" fill="#222" >3</text>
<line x1="273.5" y1="213.6" x2="275.3" y2="213.6" stroke="#555" stroke-width="1" />
<text x="273.3" y="215.79999999999998" font-size="6.2" font-weight="bold" text-anchor="end" fill="#222" >4</text>
<line x1="273.5" y1="203.6" x2="275.3" y2="203.6" stroke="#555" stroke-width="1" />
<text x="273.3" y="205.79999999999998" font-size="6.2" font-weight="bold" text-anchor="end" fill="#222" >5</text>
<line x1="275.3" y1="253.6" x2="349.4" y2="253.6" stroke="#333" stroke-width="1.1" />
<line x1="284.7" y1="210.8" x2="284.7" y2="221.5" stroke="#000" stroke-width="1.1" />
<line x1="281.7" y1="210.8" x2="287.7" y2="210.8" stroke="#000" stroke-width="1.1" />
<rect x="279.0" y="221.5" width="11.399999999999977" height="32.099999999999994" fill="#000" stroke="#000" stroke-width="1.1"/>
<line x1="284.7" y1="253.6" x2="284.7" y2="255.4" stroke="#444" stroke-width="0.9" />
<line x1="303.75" y1="214.8" x2="303.75" y2="223.0" stroke="#000" stroke-width="1.1" />
<line x1="300.75" y1="214.8" x2="306.75" y2="214.8" stroke="#000" stroke-width="1.1" />
<rect x="297.9" y="223.0" width="11.700000000000045" height="30.599999999999994" fill="#fff" stroke="#000" stroke-width="1.1"/>
<line x1="303.75" y1="253.6" x2="303.75" y2="255.4" stroke="#444" stroke-width="0.9" />
<line x1="322.25" y1="249.7" x2="322.25" y2="250.7" stroke="#000" stroke-width="1.1" />
<line x1="319.25" y1="249.7" x2="325.25" y2="249.7" stroke="#000" stroke-width="1.1" />
<rect x="316.5" y="250.7" width="11.5" height="2.9000000000000057" fill="#000" stroke="#000" stroke-width="1.1"/>
<line x1="322.25" y1="253.6" x2="322.25" y2="255.4" stroke="#444" stroke-width="0.9" />
<line x1="340.75" y1="249.3" x2="340.75" y2="250.3" stroke="#000" stroke-width="1.1" />
<line x1="337.75" y1="249.3" x2="343.75" y2="249.3" stroke="#000" stroke-width="1.1" />
<rect x="335.0" y="250.3" width="11.5" height="3.299999999999983" fill="#fff" stroke="#000" stroke-width="1.1"/>
<line x1="340.75" y1="253.6" x2="340.75" y2="255.4" stroke="#444" stroke-width="0.9" />
<text x="283.5" y="263.8" font-size="7.6" font-weight="bold" text-anchor="middle" fill="#000" >+</text>
<text x="302.7" y="263.8" font-size="7.6" font-weight="bold" text-anchor="middle" fill="#000" >+</text>
<text x="321.5" y="263.8" font-size="7.6" font-weight="bold" text-anchor="middle" fill="#000" >-</text>
<text x="340.8" y="263.8" font-size="7.6" font-weight="bold" text-anchor="middle" fill="#000" >-</text>
<line x1="363.7" y1="205.5" x2="363.7" y2="253.9" stroke="#555" stroke-width="1.1" />
<line x1="361.9" y1="253.9" x2="363.7" y2="253.9" stroke="#555" stroke-width="1" />
<text x="361.7" y="256.1" font-size="6.2" font-weight="bold" text-anchor="end" fill="#222" >0.0</text>
<line x1="361.9" y1="244.35" x2="363.7" y2="244.35" stroke="#555" stroke-width="1" />
<text x="361.7" y="246.54999999999998" font-size="6.2" font-weight="bold" text-anchor="end" fill="#222" >0.5</text>
<line x1="361.9" y1="234.8" x2="363.7" y2="234.8" stroke="#555" stroke-width="1" />
<text x="361.7" y="237.0" font-size="6.2" font-weight="bold" text-anchor="end" fill="#222" >1.0</text>
<line x1="361.9" y1="225.25" x2="363.7" y2="225.25" stroke="#555" stroke-width="1" />
<text x="361.7" y="227.45" font-size="6.2" font-weight="bold" text-anchor="end" fill="#222" >1.5</text>
<line x1="361.9" y1="215.7" x2="363.7" y2="215.7" stroke="#555" stroke-width="1" />
<text x="361.7" y="217.89999999999998" font-size="6.2" font-weight="bold" text-anchor="end" fill="#222" >2.0</text>
<line x1="361.9" y1="206.15" x2="363.7" y2="206.15" stroke="#555" stroke-width="1" />
<text x="361.7" y="208.35" font-size="6.2" font-weight="bold" text-anchor="end" fill="#222" >2.5</text>
<line x1="363.7" y1="253.9" x2="434.5" y2="253.9" stroke="#333" stroke-width="1.1" />
<line x1="372.75" y1="224.3" x2="372.75" y2="227.3" stroke="#000" stroke-width="1.1" />
<line x1="369.75" y1="224.3" x2="375.75" y2="224.3" stroke="#000" stroke-width="1.1" />
<rect x="367.2" y="227.3" width="11.100000000000023" height="26.599999999999994" fill="#000" stroke="#000" stroke-width="1.1"/>
<line x1="372.75" y1="253.9" x2="372.75" y2="255.70000000000002" stroke="#444" stroke-width="0.9" />
<line x1="390.95" y1="214.6" x2="390.95" y2="220.6" stroke="#000" stroke-width="1.1" />
<line x1="387.95" y1="214.6" x2="393.95" y2="214.6" stroke="#000" stroke-width="1.1" />
<rect x="385.4" y="220.6" width="11.100000000000023" height="33.30000000000001" fill="#fff" stroke="#000" stroke-width="1.1"/>
<line x1="390.95" y1="253.9" x2="390.95" y2="255.70000000000002" stroke="#444" stroke-width="0.9" />
<line x1="408.45" y1="249.5" x2="408.45" y2="250" stroke="#000" stroke-width="1.1" />
<line x1="405.45" y1="249.5" x2="411.45" y2="249.5" stroke="#000" stroke-width="1.1" />
<rect x="402.9" y="250" width="11.100000000000023" height="3.9000000000000057" fill="#000" stroke="#000" stroke-width="1.1"/>
<line x1="408.45" y1="253.9" x2="408.45" y2="255.70000000000002" stroke="#444" stroke-width="0.9" />
<line x1="426.55" y1="246.8" x2="426.55" y2="247.8" stroke="#000" stroke-width="1.1" />
<line x1="423.55" y1="246.8" x2="429.55" y2="246.8" stroke="#000" stroke-width="1.1" />
<rect x="421.0" y="247.8" width="11.100000000000023" height="6.099999999999994" fill="#fff" stroke="#000" stroke-width="1.1"/>
<line x1="426.55" y1="253.9" x2="426.55" y2="255.70000000000002" stroke="#444" stroke-width="0.9" />
<text x="372.8" y="263.8" font-size="7.6" font-weight="bold" text-anchor="middle" fill="#000" >+</text>
<text x="390.3" y="263.8" font-size="7.6" font-weight="bold" text-anchor="middle" fill="#000" >+</text>
<text x="408.4" y="263.8" font-size="7.6" font-weight="bold" text-anchor="middle" fill="#000" >-</text>
<text x="426" y="263.8" font-size="7.6" font-weight="bold" text-anchor="middle" fill="#000" >-</text>
<line x1="447.8" y1="206" x2="447.8" y2="254.1" stroke="#555" stroke-width="1.1" />
<line x1="446.0" y1="254.1" x2="447.8" y2="254.1" stroke="#555" stroke-width="1" />
<text x="445.8" y="256.3" font-size="6.2" font-weight="bold" text-anchor="end" fill="#222" >0.0</text>
<line x1="446.0" y1="242.15" x2="447.8" y2="242.15" stroke="#555" stroke-width="1" />
<text x="445.8" y="244.35" font-size="6.2" font-weight="bold" text-anchor="end" fill="#222" >0.5</text>
<line x1="446.0" y1="230.2" x2="447.8" y2="230.2" stroke="#555" stroke-width="1" />
<text x="445.8" y="232.39999999999998" font-size="6.2" font-weight="bold" text-anchor="end" fill="#222" >1.0</text>
<line x1="446.0" y1="218.25" x2="447.8" y2="218.25" stroke="#555" stroke-width="1" />
<text x="445.8" y="220.45" font-size="6.2" font-weight="bold" text-anchor="end" fill="#222" >1.5</text>
<line x1="446.0" y1="206.3" x2="447.8" y2="206.3" stroke="#555" stroke-width="1" />
<text x="445.8" y="208.5" font-size="6.2" font-weight="bold" text-anchor="end" fill="#222" >2.0</text>
<line x1="447.8" y1="254.1" x2="517.3" y2="254.1" stroke="#333" stroke-width="1.1" />
<line x1="457.2" y1="211.4" x2="457.2" y2="219.9" stroke="#000" stroke-width="1.1" />
<line x1="454.2" y1="211.4" x2="460.2" y2="211.4" stroke="#000" stroke-width="1.1" />
<rect x="451.7" y="219.9" width="11.0" height="34.19999999999999" fill="#000" stroke="#000" stroke-width="1.1"/>
<line x1="457.2" y1="254.1" x2="457.2" y2="255.9" stroke="#444" stroke-width="0.9" />
<line x1="474.5" y1="210.7" x2="474.5" y2="220.9" stroke="#000" stroke-width="1.1" />
<line x1="471.5" y1="210.7" x2="477.5" y2="210.7" stroke="#000" stroke-width="1.1" />
<rect x="468.8" y="220.9" width="11.399999999999977" height="33.19999999999999" fill="#fff" stroke="#000" stroke-width="1.1"/>
<line x1="474.5" y1="254.1" x2="474.5" y2="255.9" stroke="#444" stroke-width="0.9" />
<line x1="492.45" y1="249.3" x2="492.45" y2="251.7" stroke="#000" stroke-width="1.1" />
<line x1="489.45" y1="249.3" x2="495.45" y2="249.3" stroke="#000" stroke-width="1.1" />
<rect x="487.0" y="251.7" width="10.899999999999977" height="2.4000000000000057" fill="#000" stroke="#000" stroke-width="1.1"/>
<line x1="492.45" y1="254.1" x2="492.45" y2="255.9" stroke="#444" stroke-width="0.9" />
<line x1="509.6" y1="249.3" x2="509.6" y2="251.7" stroke="#000" stroke-width="1.1" />
<line x1="506.6" y1="249.3" x2="512.6" y2="249.3" stroke="#000" stroke-width="1.1" />
<rect x="504.1" y="251.7" width="11.0" height="2.4000000000000057" fill="#fff" stroke="#000" stroke-width="1.1"/>
<line x1="509.6" y1="254.1" x2="509.6" y2="255.9" stroke="#444" stroke-width="0.9" />
<text x="456.7" y="263.8" font-size="7.6" font-weight="bold" text-anchor="middle" fill="#000" >+</text>
<text x="473.8" y="263.8" font-size="7.6" font-weight="bold" text-anchor="middle" fill="#000" >+</text>
<text x="492.6" y="263.8" font-size="7.6" font-weight="bold" text-anchor="middle" fill="#000" >-</text>
<text x="509.7" y="263.8" font-size="7.6" font-weight="bold" text-anchor="middle" fill="#000" >-</text>
<line x1="279.2" y1="266.2" x2="518.3" y2="266.2" stroke="#000" stroke-width="1.6" />
<text x="401.2" y="278.7" font-size="8.8" font-weight="bold" text-anchor="middle" fill="#000" >peptide</text>
</svg></body></html>
